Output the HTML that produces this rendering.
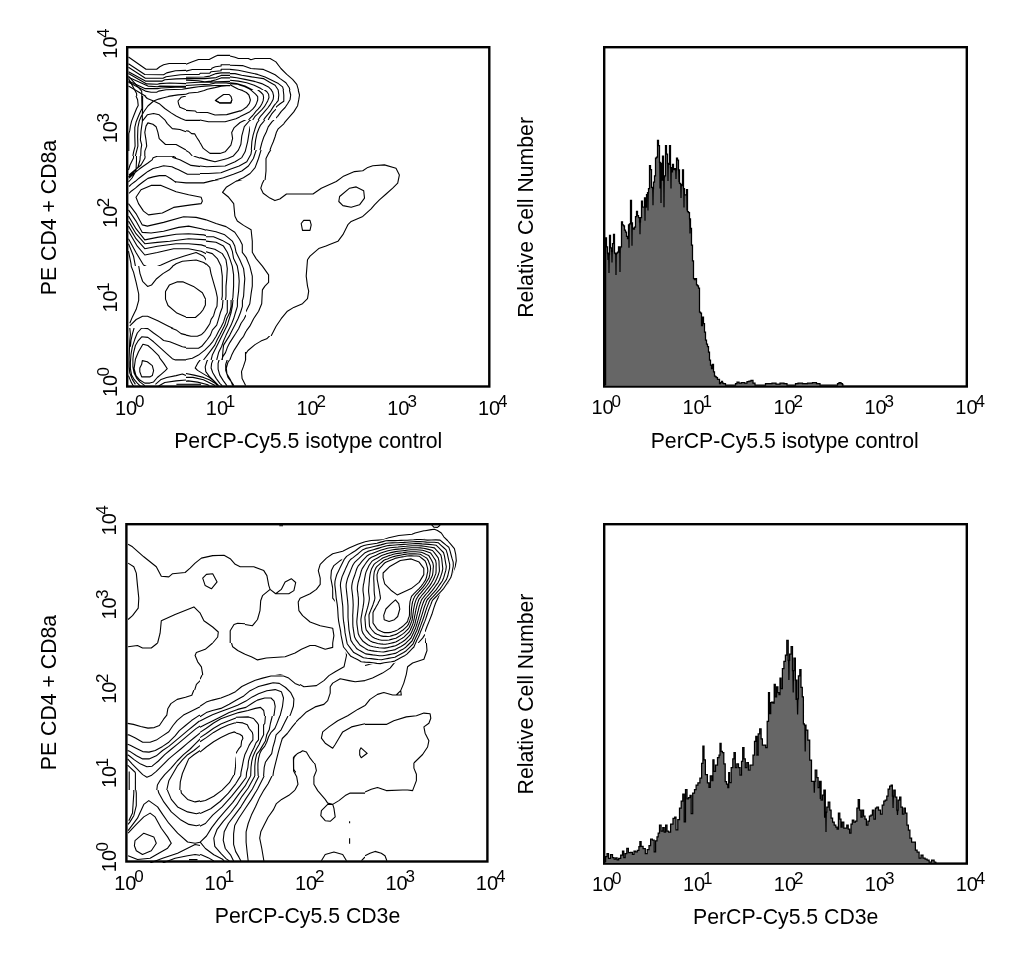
<!DOCTYPE html>
<html><head><meta charset="utf-8"><style>html,body{margin:0;padding:0;background:#fff;}svg{display:block;}</style></head>
<body><svg width="1024" height="958" viewBox="0 0 1024 958">
<rect width="1024" height="958" fill="#fff"/>
<g style="will-change:transform">
<rect x="127.20" y="47.20" width="362.10" height="339.30" fill="none" stroke="#000" stroke-width="2.4"/>
<rect x="604.20" y="47.20" width="362.60" height="339.30" fill="none" stroke="#000" stroke-width="2.4"/>
<rect x="126.40" y="524.20" width="361.00" height="337.30" fill="none" stroke="#000" stroke-width="2.4"/>
<rect x="604.20" y="524.20" width="362.60" height="339.40" fill="none" stroke="#000" stroke-width="2.4"/>
<g><defs><mask id="m1" maskUnits="userSpaceOnUse" x="0" y="0" width="1024" height="958"><rect x="126.0" y="46.0" width="60.0" height="50.0" fill="#fff"/><rect x="200.0" y="100.0" width="80.0" height="80.0" fill="#000"/><rect x="230.0" y="46.0" width="80.0" height="54.0" fill="#000"/><rect x="280.0" y="100.0" width="30.0" height="30.0" fill="#000"/><rect x="250.0" y="90.0" width="60.0" height="60.0" fill="#000"/><rect x="240.0" y="90.0" width="36.0" height="30.0" fill="#000"/></mask><mask id="m2" maskUnits="userSpaceOnUse" x="0" y="0" width="1024" height="958"><rect x="186.0" y="46.0" width="60.0" height="50.0" fill="#fff"/><rect x="200.0" y="100.0" width="80.0" height="80.0" fill="#000"/><rect x="230.0" y="46.0" width="80.0" height="54.0" fill="#000"/><rect x="280.0" y="100.0" width="30.0" height="30.0" fill="#000"/><rect x="250.0" y="90.0" width="60.0" height="60.0" fill="#000"/><rect x="240.0" y="90.0" width="36.0" height="30.0" fill="#000"/></mask><mask id="m3" maskUnits="userSpaceOnUse" x="0" y="0" width="1024" height="958"><rect x="126.0" y="96.0" width="60.0" height="60.0" fill="#fff"/><rect x="200.0" y="100.0" width="80.0" height="80.0" fill="#000"/><rect x="230.0" y="46.0" width="80.0" height="54.0" fill="#000"/><rect x="280.0" y="100.0" width="30.0" height="30.0" fill="#000"/><rect x="250.0" y="90.0" width="60.0" height="60.0" fill="#000"/><rect x="240.0" y="90.0" width="36.0" height="30.0" fill="#000"/></mask><mask id="m4" maskUnits="userSpaceOnUse" x="0" y="0" width="1024" height="958"><rect x="126.0" y="46.0" width="60.0" height="50.0" fill="#fff"/><rect x="200.0" y="100.0" width="80.0" height="80.0" fill="#000"/><rect x="230.0" y="46.0" width="80.0" height="54.0" fill="#000"/><rect x="280.0" y="100.0" width="30.0" height="30.0" fill="#000"/><rect x="250.0" y="90.0" width="60.0" height="60.0" fill="#000"/><rect x="240.0" y="90.0" width="36.0" height="30.0" fill="#000"/></mask><mask id="m5" maskUnits="userSpaceOnUse" x="0" y="0" width="1024" height="958"><rect x="186.0" y="96.0" width="60.0" height="60.0" fill="#fff"/><rect x="200.0" y="100.0" width="80.0" height="80.0" fill="#000"/><rect x="230.0" y="46.0" width="80.0" height="54.0" fill="#000"/><rect x="280.0" y="100.0" width="30.0" height="30.0" fill="#000"/><rect x="250.0" y="90.0" width="60.0" height="60.0" fill="#000"/><rect x="240.0" y="90.0" width="36.0" height="30.0" fill="#000"/></mask><mask id="m6" maskUnits="userSpaceOnUse" x="0" y="0" width="1024" height="958"><rect x="246.0" y="46.0" width="244.0" height="104.0" fill="#fff"/><rect x="200.0" y="100.0" width="80.0" height="80.0" fill="#000"/><rect x="230.0" y="46.0" width="80.0" height="54.0" fill="#000"/><rect x="280.0" y="100.0" width="30.0" height="30.0" fill="#000"/><rect x="250.0" y="90.0" width="60.0" height="60.0" fill="#000"/><rect x="240.0" y="90.0" width="36.0" height="30.0" fill="#000"/></mask><mask id="m7" maskUnits="userSpaceOnUse" x="0" y="0" width="1024" height="958"><rect x="126.0" y="156.0" width="120.0" height="60.0" fill="#fff"/><rect x="126.0" y="216.0" width="80.0" height="50.0" fill="#fff"/><rect x="200.0" y="100.0" width="80.0" height="80.0" fill="#000"/><rect x="230.0" y="46.0" width="80.0" height="54.0" fill="#000"/><rect x="280.0" y="100.0" width="30.0" height="30.0" fill="#000"/><rect x="250.0" y="90.0" width="60.0" height="60.0" fill="#000"/><rect x="240.0" y="90.0" width="36.0" height="30.0" fill="#000"/></mask><mask id="m8" maskUnits="userSpaceOnUse" x="0" y="0" width="1024" height="958"><rect x="126.0" y="156.0" width="120.0" height="60.0" fill="#fff"/><rect x="126.0" y="216.0" width="80.0" height="50.0" fill="#fff"/><rect x="200.0" y="100.0" width="80.0" height="80.0" fill="#000"/><rect x="230.0" y="46.0" width="80.0" height="54.0" fill="#000"/><rect x="280.0" y="100.0" width="30.0" height="30.0" fill="#000"/><rect x="250.0" y="90.0" width="60.0" height="60.0" fill="#000"/><rect x="240.0" y="90.0" width="36.0" height="30.0" fill="#000"/></mask><mask id="m9" maskUnits="userSpaceOnUse" x="0" y="0" width="1024" height="958"><rect x="246.0" y="150.0" width="244.0" height="66.0" fill="#fff"/><rect x="326.0" y="216.0" width="164.0" height="64.0" fill="#fff"/><rect x="200.0" y="100.0" width="80.0" height="80.0" fill="#000"/><rect x="230.0" y="46.0" width="80.0" height="54.0" fill="#000"/><rect x="280.0" y="100.0" width="30.0" height="30.0" fill="#000"/><rect x="250.0" y="90.0" width="60.0" height="60.0" fill="#000"/><rect x="240.0" y="90.0" width="36.0" height="30.0" fill="#000"/></mask><mask id="m10" maskUnits="userSpaceOnUse" x="0" y="0" width="1024" height="958"><rect x="126.0" y="328.0" width="60.0" height="60.0" fill="#fff"/><rect x="200.0" y="100.0" width="80.0" height="80.0" fill="#000"/><rect x="230.0" y="46.0" width="80.0" height="54.0" fill="#000"/><rect x="280.0" y="100.0" width="30.0" height="30.0" fill="#000"/><rect x="250.0" y="90.0" width="60.0" height="60.0" fill="#000"/><rect x="240.0" y="90.0" width="36.0" height="30.0" fill="#000"/></mask><mask id="m11" maskUnits="userSpaceOnUse" x="0" y="0" width="1024" height="958"><rect x="126.0" y="266.0" width="80.0" height="34.0" fill="#fff"/><rect x="126.0" y="300.0" width="60.0" height="28.0" fill="#fff"/><rect x="200.0" y="100.0" width="80.0" height="80.0" fill="#000"/><rect x="230.0" y="46.0" width="80.0" height="54.0" fill="#000"/><rect x="280.0" y="100.0" width="30.0" height="30.0" fill="#000"/><rect x="250.0" y="90.0" width="60.0" height="60.0" fill="#000"/><rect x="240.0" y="90.0" width="36.0" height="30.0" fill="#000"/></mask><mask id="m12" maskUnits="userSpaceOnUse" x="0" y="0" width="1024" height="958"><rect x="186.0" y="300.0" width="60.0" height="60.0" fill="#fff"/><rect x="200.0" y="100.0" width="80.0" height="80.0" fill="#000"/><rect x="230.0" y="46.0" width="80.0" height="54.0" fill="#000"/><rect x="280.0" y="100.0" width="30.0" height="30.0" fill="#000"/><rect x="250.0" y="90.0" width="60.0" height="60.0" fill="#000"/><rect x="240.0" y="90.0" width="36.0" height="30.0" fill="#000"/></mask><mask id="m13" maskUnits="userSpaceOnUse" x="0" y="0" width="1024" height="958"><rect x="206.0" y="216.0" width="40.0" height="84.0" fill="#fff"/><rect x="246.0" y="216.0" width="80.0" height="120.0" fill="#fff"/><rect x="200.0" y="100.0" width="80.0" height="80.0" fill="#000"/><rect x="230.0" y="46.0" width="80.0" height="54.0" fill="#000"/><rect x="280.0" y="100.0" width="30.0" height="30.0" fill="#000"/><rect x="250.0" y="90.0" width="60.0" height="60.0" fill="#000"/><rect x="240.0" y="90.0" width="36.0" height="30.0" fill="#000"/></mask><mask id="m14" maskUnits="userSpaceOnUse" x="0" y="0" width="1024" height="958"><rect x="186.0" y="360.0" width="140.0" height="28.0" fill="#fff"/><rect x="246.0" y="336.0" width="80.0" height="24.0" fill="#fff"/><rect x="200.0" y="100.0" width="80.0" height="80.0" fill="#000"/><rect x="230.0" y="46.0" width="80.0" height="54.0" fill="#000"/><rect x="280.0" y="100.0" width="30.0" height="30.0" fill="#000"/><rect x="250.0" y="90.0" width="60.0" height="60.0" fill="#000"/><rect x="240.0" y="90.0" width="36.0" height="30.0" fill="#000"/></mask><mask id="m15" maskUnits="userSpaceOnUse" x="0" y="0" width="1024" height="958"><rect x="200.0" y="100.0" width="80.0" height="80.0" fill="#fff"/><rect x="230.0" y="46.0" width="80.0" height="54.0" fill="#000"/><rect x="280.0" y="100.0" width="30.0" height="30.0" fill="#000"/><rect x="250.0" y="90.0" width="60.0" height="60.0" fill="#000"/><rect x="240.0" y="90.0" width="36.0" height="30.0" fill="#000"/></mask><mask id="m16" maskUnits="userSpaceOnUse" x="0" y="0" width="1024" height="958"><rect x="230.0" y="46.0" width="80.0" height="54.0" fill="#fff"/><rect x="280.0" y="100.0" width="30.0" height="30.0" fill="#fff"/><rect x="250.0" y="90.0" width="60.0" height="60.0" fill="#000"/><rect x="240.0" y="90.0" width="36.0" height="30.0" fill="#000"/></mask><mask id="m17" maskUnits="userSpaceOnUse" x="0" y="0" width="1024" height="958"><rect x="250.0" y="90.0" width="60.0" height="60.0" fill="#fff"/><rect x="240.0" y="90.0" width="36.0" height="30.0" fill="#000"/></mask><mask id="m18" maskUnits="userSpaceOnUse" x="0" y="0" width="1024" height="958"><rect x="240.0" y="90.0" width="36.0" height="30.0" fill="#fff"/></mask></defs><path mask="url(#m1)" d="M128.5,57.0 L146.0,69.2 L156.7,69.2 L159.8,66.7 L163.6,64.8 L169.2,63.5 L186.0,63.5 M128.5,63.8 L144.8,74.5 L163.6,74.8 L166.7,72.9 L175.5,70.7 L186.0,70.4 M128.5,67.3 L145.4,78.3 L163.0,78.3 L166.1,76.7 L180.5,74.8 L186.0,74.5 M128.5,71.7 L145.4,81.1 L162.3,81.1 L164.8,79.8 L176.1,78.9 L186.0,78.6 M128.5,73.6 L146.7,83.9 L157.3,84.2 L159.8,83.6 L169.8,83.0 L186.0,83.6 M128.5,77.3 L147.9,86.1 L157.3,86.7 L159.8,86.1 L174.9,86.4 L186.0,86.4 M128.5,81.1 L144.8,88.6 L157.3,88.6 L161.1,88.0 L175.5,87.3 L186.0,87.3 M128.5,82.3 L145.4,91.1 L151.1,92.3 L156.7,92.3 L158.6,91.1 L166.1,89.8 L182.4,89.2 L186.0,88.6 M128.5,86.1 L147.9,97.4 L153.6,100.5 L156.1,102.4 M153.6,100.5 L161.7,98.0 L169.8,96.1 L178.0,94.9 L186.0,94.2" fill="none" stroke="#000" stroke-width="1.1" stroke-linejoin="round"/><path mask="url(#m2)" d="M186.0,64.2 L192.3,61.7 L198.5,59.5 L209.2,59.5 L215.4,56.3 L217.3,55.4 L230.5,55.4 L231.7,57.3 L236.7,57.3 L238.0,58.8 L246.0,58.5 M186.0,71.1 L192.3,69.5 L211.1,69.5 L212.3,67.9 L215.4,66.7 L221.1,66.0 L221.1,64.8 L241.7,64.8 L243.0,66.7 L246.0,66.7 M186.0,74.5 L199.2,74.5 L200.4,73.2 L209.8,73.2 L211.1,71.7 L221.1,70.7 L221.1,69.2 L236.1,69.2 L238.0,70.7 L246.0,71.1 M186.0,77.3 L204.2,77.0 L209.8,76.1 L216.1,73.6 L221.1,72.9 L231.1,72.9 L232.3,74.2 L241.1,74.8 L246.0,76.1 M186.0,78.6 L204.8,78.6 L216.1,77.6 L221.1,75.4 L236.1,75.4 L239.9,76.7 L246.0,78.6 M186.0,80.1 L198.5,80.8 L204.8,81.7 L211.1,81.1 L216.1,79.8 L221.1,77.9 L236.1,77.9 L239.9,79.2 L246.0,81.1 M186.0,83.0 L198.5,82.3 L211.1,82.3 L216.1,81.7 L231.1,81.4 L237.4,81.7 L246.0,84.2 M186.0,85.5 L198.5,84.8 L209.8,84.2 L215.4,83.0 L226.1,83.0 L231.1,83.6 L237.4,84.8 L246.0,86.7 M186.0,88.6 L192.3,87.6 L198.5,86.7 L204.8,86.1 L215.4,85.5 L221.1,85.5 L231.1,85.5 L237.4,88.0 L246.0,92.3 M186.0,94.2 L189.1,93.0 L197.9,92.3 L204.2,90.5 L207.3,89.2 L214.8,87.6 L221.1,86.1 L229.8,85.5 L231.1,86.7 L237.4,89.2 L242.4,91.1 L246.0,92.3" fill="none" stroke="#000" stroke-width="1.1" stroke-linejoin="round"/><path mask="url(#m3)" d="M136.0,96.0 L137.6,99.8 L138.2,105.4 L136.6,108.5 L134.1,114.8 L131.6,121.1 L130.4,126.1 L129.8,130.4 L128.8,133.6 L128.8,151.1 M141.7,96.0 L142.0,108.5 L140.4,111.7 L138.5,116.0 L136.0,122.3 L134.8,127.3 L134.8,136.7 L135.1,146.1 L133.5,152.4 L132.9,156.0 M142.6,96.0 L142.6,108.5 L142.3,114.8 L142.4,121.1 L141.0,131.1 L140.4,139.8 L141.7,144.9 L141.0,149.2 L140.7,156.0 M153.6,101.0 L147.9,106.0 L143.5,112.3 L141.0,116.7 L139.2,121.1 L137.9,127.3 L137.6,136.7 L137.9,146.1 L136.6,151.1 L135.4,156.0 M144.8,96.0 L147.3,98.5 L153.6,101.0 L159.8,104.1 L164.8,108.5 L171.1,112.9 L176.1,116.0 L181.1,118.5 L186.0,120.4 M153.6,101.0 L158.6,99.1 L163.6,97.8 L169.8,96.3 L173.6,95.7 M142.4,121.1 L147.3,114.8 L153.6,113.5 L159.2,114.8 L164.8,119.8 L167.3,123.6 L172.3,128.6 L179.9,129.5 L186.0,131.7 M144.8,156.0 L144.8,151.1 L146.7,146.1 L146.0,139.8 L144.8,132.3 L146.0,126.1 L147.9,122.9 L152.9,124.2 L156.1,126.7 L157.9,132.3 L159.2,138.6 L165.5,144.5 L176.1,144.5 L182.4,148.0 L186.0,149.9 M186.0,96.0 L181.1,97.3 L178.0,101.0 L178.6,104.1 L179.9,107.3 L184.9,109.2 L186.0,109.5" fill="none" stroke="#000" stroke-width="1.1" stroke-linejoin="round"/><path mask="url(#m4)" d="M128.5,76.1 L141.7,91.1 L142.0,106.0 M128.5,78.6 L136.6,93.6 L137.0,106.0" fill="none" stroke="#000" stroke-width="1.1" stroke-linejoin="round"/><path mask="url(#m5)" d="M186.0,110.4 L195.4,111.0 L196.6,112.3 L207.3,112.6 L213.6,114.2 L214.8,115.1 L226.1,115.1 L227.3,113.8 L239.9,111.3 L246.0,106.6 M186.0,120.4 L207.3,120.4 L208.5,121.7 L226.1,121.7 L227.3,120.4 L233.6,119.2 L238.6,117.3 L246.0,114.2 M186.0,130.8 L188.5,131.1 L191.6,133.6 L194.8,133.9 L196.6,137.3 L199.2,141.1 L202.9,148.6 L209.8,153.6 L220.4,153.6 L224.8,151.7 L231.1,144.9 L232.3,139.8 L232.0,132.3 L234.2,127.9 L239.9,123.6 L246.0,119.2 M186.0,150.5 L189.1,152.4 L192.3,156.0 M246.0,124.2 L243.6,130.4 L241.7,136.7 L241.7,144.9 L238.6,149.2 L234.9,154.2 L234.2,156.0 M246.0,141.7 L244.9,148.0 L242.4,153.6 L241.7,156.0" fill="none" stroke="#000" stroke-width="1.1" stroke-linejoin="round"/><path mask="url(#m6)" d="M246.0,58.5 L253.5,59.2 L257.3,58.3 L268.5,58.3 L273.6,60.4 L277.3,64.8 L282.3,70.4 L288.6,76.1 L293.6,79.8 L297.4,83.6 L298.6,88.6 L299.2,96.1 L297.4,104.9 L294.9,109.9 L292.3,113.6 L287.3,119.9 L283.6,123.7 L278.6,128.7 L276.1,133.7 L274.8,141.2 L271.1,147.5 L267.3,156.2 L266.0,166.0 M246.0,66.7 L251.0,69.2 L262.3,69.2 L268.5,71.1 L274.8,74.8 L282.3,78.6 L287.3,83.6 L289.8,88.6 L290.5,96.1 L289.2,102.4 L286.7,107.4 L283.6,111.1 L277.3,117.4 L272.3,122.4 L268.5,127.4 L266.0,133.7 L263.5,141.2 L259.8,151.2 L257.3,158.7 L256.0,166.0 M246.0,71.7 L253.5,73.6 L262.3,74.8 L271.1,77.3 L278.6,81.7 L282.3,84.8 L283.6,89.8 L283.6,101.1 L278.6,106.1 L276.1,111.1 L271.1,114.9 L266.0,118.7 L262.3,122.4 L259.8,127.4 L258.5,133.7 L256.0,143.7 L253.5,153.7 L251.0,161.2 L249.8,166.0 M246.0,76.7 L256.0,78.3 L266.0,81.1 L273.6,84.8 L277.3,88.6 L279.2,93.6 L279.2,99.9 L276.1,104.9 L271.1,109.9 L264.8,113.6 L259.8,117.4 L257.3,122.4 L254.8,127.4 L252.3,133.7 L249.8,146.2 L247.3,158.7 L246.0,166.0 M246.0,81.1 L256.0,83.0 L264.8,85.5 L271.1,89.2 L273.6,93.6 L272.9,99.9 L269.8,104.9 L264.8,108.6 L258.5,112.4 L253.5,116.1 L249.8,119.9 L248.5,127.4 L247.3,137.4 L246.0,146.2 M246.0,85.5 L256.0,87.3 L262.3,90.5 L267.3,94.2 L268.5,98.6 L267.3,102.4 L263.5,106.1 L257.3,109.9 L251.0,113.6 L246.0,116.1 M246.0,89.2 L253.5,91.1 L258.5,93.6 L262.3,97.4 L262.3,101.1 L259.8,104.9 L254.8,108.6 L249.8,111.1 L246.0,112.4 M246.0,93.0 L251.0,94.2 L256.0,96.7 L257.9,99.9 L256.6,103.6 L252.3,106.8 L246.0,108.6 M246.0,94.9 L248.5,96.1 L251.0,99.2 L250.4,103.0 L247.3,105.5 L246.0,106.1" fill="none" stroke="#000" stroke-width="1.1" stroke-linejoin="round"/><path mask="url(#m7)" d="M176.0,157.8 L173.0,156.3 L157.3,156.3 L153.1,157.8 L152.1,159.9 L147.9,163.0 L143.2,166.2 L139.0,169.3 L135.9,171.9 L132.3,175.0 L129.1,178.2 M176.0,168.8 L171.9,166.7 L163.6,165.7 L158.4,167.2 L153.1,168.5 L147.9,171.4 L143.2,175.0 L139.0,178.2 L135.4,181.3 L131.2,184.4 L129.1,186.5 M176.0,182.4 L170.9,178.7 L165.7,175.6 L159.4,175.6 L153.1,176.9 L147.9,178.4 L143.2,181.8 L139.0,185.0 L135.4,188.1 L131.2,191.2 L129.1,193.3 M133.8,150.0 L133.5,158.0 L130.0,165.0 L128.5,170.0 M136.4,150.0 L136.5,160.0 L136.0,171.0 L132.0,178.0 L128.5,182.0 M140.6,150.0 L140.0,160.0 L138.0,167.0 L133.0,173.0 L128.5,177.0 M145.3,150.0 L145.0,158.0 L141.0,165.0 L135.0,170.0 L129.0,175.0" fill="none" stroke="#000" stroke-width="1.1" stroke-linejoin="round"/><path mask="url(#m8)" d="M193.6,156.0 L201.2,158.5 L213.7,161.0 L226.2,161.6 L235.0,158.5 L238.7,156.0 M172.3,157.3 L179.9,159.8 L191.1,165.4 L201.2,166.6 L213.7,167.3 L226.2,166.6 L238.7,162.3 L246.0,158.5 M175.5,168.5 L178.6,169.8 L187.4,174.2 L201.2,174.2 L213.7,173.5 L226.2,171.0 L238.7,167.3 L246.0,164.8 M174.9,181.7 L186.1,182.9 L203.7,182.9 L213.7,180.4 L225.0,178.5 L236.2,176.0 L246.0,173.5 M136.0,197.3 L141.0,189.8 L151.1,185.4 L161.1,185.4 L176.1,191.7 L188.6,194.8 L201.2,197.3 L202.4,201.1 L201.2,203.6 L191.1,204.9 L173.6,207.4 L162.3,213.0 L148.5,214.9 L143.5,211.1 L138.5,203.6 L136.0,197.3Z M246.0,178.5 L236.2,181.1 L226.2,187.3 L222.5,192.3 L228.7,197.3 L233.7,203.6 L235.0,217.4 L238.7,222.4 L246.0,226.1 M128.5,203.6 L136.0,213.6 L142.3,224.9 L147.3,226.1 L163.6,222.4 L183.6,216.8 L196.1,217.4 L206.2,219.9 L216.2,223.6 L226.2,228.0 L233.7,232.4 L237.5,237.4 L240.0,246.2 L243.7,256.2 L246.0,262.5 M128.5,209.9 L136.0,221.1 L142.3,232.4 L151.1,233.0 L163.6,231.2 L178.6,227.4 L188.6,226.1 L201.2,228.7 L213.7,232.4 L225.0,236.2 L232.5,241.2 L236.2,247.4 L238.7,256.2 L241.2,266.2 L243.1,276.0 M128.5,216.1 L136.0,228.7 L144.8,239.9 L157.3,237.4 L176.1,234.3 L188.6,233.7 L203.7,234.9 L216.2,238.7 L226.2,242.4 L231.2,248.7 L233.7,258.7 L236.2,276.0 M128.5,221.1 L136.0,233.7 L144.8,243.7 L157.3,242.4 L169.8,241.2 L188.6,238.7 L207.4,239.9 L219.9,243.7 L226.2,251.2 L228.7,262.5 L230.0,276.0 M128.5,226.1 L136.0,238.7 L144.8,248.7 L157.3,246.2 L176.1,243.7 L188.6,243.7 L201.2,244.9 L213.7,248.7 L221.2,255.0 L225.0,266.2 L225.0,276.0 M128.5,231.2 L137.3,246.2 L144.8,255.0 L157.3,252.5 L173.6,248.7 L188.6,248.7 L201.2,251.2 L211.2,256.2 L216.2,263.7 L218.7,276.0 M128.5,238.7 L136.0,252.5 L143.5,265.0 L151.1,268.7 L161.1,265.0 L172.3,260.0 L183.6,256.2 L196.1,252.5 L203.7,256.2 L208.7,263.7 L211.2,276.0 M158.6,276.0 L163.6,272.5 L176.1,263.7 L182.4,261.2 L196.1,260.0 L203.7,262.5 L208.7,266.2 L209.9,276.0 M128.5,243.7 L133.5,256.2 L137.3,276.0 M128.5,251.2 L131.0,263.7 L132.3,276.0" fill="none" stroke="#000" stroke-width="1.1" stroke-linejoin="round"/><path mask="url(#m9)" d="M269.9,150.0 L267.4,155.0 L266.6,174.9 L262.4,183.2 L260.8,188.2 L263.2,193.2 L269.9,198.1 L274.9,200.6 L279.8,199.0 L286.5,194.0 L313.0,194.0 L321.3,188.2 L336.3,181.5 L342.9,176.6 L354.5,171.6 L362.8,170.8 L367.8,167.4 L372.8,165.8 L384.4,164.9 L396.0,168.3 L399.4,174.9 L397.7,183.2 L392.7,188.2 L386.1,194.0 L379.4,199.8 L374.5,204.8 L371.1,208.9 L362.8,216.4 L351.2,221.4 L347.9,224.7 L342.9,234.7 L337.9,241.3 L329.6,244.6 L321.3,247.9 L313.0,253.8 L308.1,258.7 L306.4,266.2 L305.6,280.0 M339.6,196.5 L349.6,188.2 L356.2,186.9 L363.7,190.7 L364.5,198.1 L359.5,204.8 L351.2,207.3 L342.9,205.6 L338.8,201.5 L339.6,196.5Z M300.6,224.7 L303.1,219.7 L308.9,219.7 L311.4,223.9 L309.7,230.5 L303.1,230.5 L300.6,224.7Z M240.0,171.6 L245.0,168.3 L250.0,161.6 L253.3,155.0 L254.9,150.0 M240.0,179.1 L248.3,176.6 L253.3,169.9 L256.6,161.6 L259.1,155.0 L260.8,150.0 M240.0,163.3 L245.0,158.3 L248.3,153.3 L250.0,150.0 M240.0,223.9 L246.6,227.2 L251.6,231.3 L252.5,239.6 L252.5,251.3 L254.9,257.9 L261.6,266.2 L267.4,272.8 L269.9,280.0 M240.0,243.0 L241.7,249.6 L243.3,257.9 L246.6,266.2 L250.0,272.8 L252.5,280.0 M240.0,257.9 L242.5,269.5 L244.2,280.0" fill="none" stroke="#000" stroke-width="1.1" stroke-linejoin="round"/><path mask="url(#m10)" d="M142.3,360.6 L147.3,361.8 L152.3,365.6 L153.6,370.6 L152.3,375.6 L149.8,376.9 L141.7,376.9 L139.8,371.8 L139.8,368.1 L141.7,364.3 L142.3,360.6Z M142.9,344.3 L147.9,345.5 L152.3,349.3 L158.6,355.6 L159.8,358.1 L163.6,363.1 L167.3,368.7 L164.8,371.2 L161.1,374.3 L157.3,377.5 L153.6,381.9 L149.8,383.1 L144.8,383.1 L139.8,380.0 L136.0,375.6 L134.1,368.7 L135.4,359.3 L138.5,351.8 L142.9,344.3Z M186.0,359.9 L175.5,359.9 L172.3,358.7 L166.1,353.1 L159.8,347.4 L153.6,341.8 L147.9,337.4 L141.7,336.8 L137.9,341.2 L135.4,345.5 L133.5,353.1 L132.9,359.3 L132.9,366.8 L134.1,373.1 L136.6,378.1 L139.8,381.9 L144.8,385.6 M186.0,347.4 L182.4,346.8 L176.1,344.3 L169.8,341.8 L163.6,340.5 L159.8,337.4 L153.6,333.0 L147.9,328.6 L141.7,328.0 L137.3,333.0 L134.8,339.3 L132.3,346.8 L131.0,354.3 L130.4,362.4 L130.4,368.7 L131.6,375.0 L134.1,379.4 L137.3,383.1 L140.4,386.2 M171.1,328.0 L176.1,329.9 L181.1,333.6 L186.0,334.9 M155.4,384.4 L161.1,379.4 L166.7,377.5 L176.1,375.6 L182.4,374.0 L186.0,375.6 M158.6,385.9 L164.8,382.5 L176.1,380.9 L186.0,380.0 M129.8,328.0 L130.4,334.3 L129.8,340.5 L129.4,349.9 L129.1,359.3 L129.1,366.8 L129.8,373.1 L132.3,379.4 L135.4,384.4 M134.1,328.0 L132.3,334.3 L131.0,340.5 L130.4,346.8 M128.5,375.6 L131.0,381.9 L133.5,386.2" fill="none" stroke="#000" stroke-width="1.1" stroke-linejoin="round"/><path mask="url(#m11)" d="M131.1,266.0 L133.6,272.4 L136.2,282.6 L138.7,294.0 L138.7,300.4 L136.2,309.3 L132.4,316.9 L129.8,323.3 M138.7,266.0 L140.0,273.6 L142.6,281.3 L147.6,286.4 L151.5,285.1 L156.6,278.7 L162.9,273.6 L169.3,269.8 L173.1,266.0 M165.5,291.5 L169.3,285.1 L176.9,281.9 L183.3,281.9 L193.5,286.4 L202.4,292.7 L206.2,300.4 L203.7,309.3 L197.3,316.9 L187.1,317.6 L176.9,313.1 L168.0,305.5 L165.5,299.1 L165.5,291.5Z M129.8,325.9 L136.2,319.5 L142.6,316.3 L147.6,316.3 L157.8,320.8 L168.0,325.9 L174.4,329.0 M185.9,335.4 L189.7,335.4 L197.3,335.4 L205.0,330.9 L211.3,324.6 L215.1,316.9 L216.4,306.8 L215.1,291.5 L211.3,278.7 L210.1,266.0 M222.8,304.2 L222.8,291.5 L220.9,278.7 L220.2,266.0 M227.9,306.8 L227.9,291.5 L226.6,278.7 L226.6,266.0" fill="none" stroke="#000" stroke-width="1.1" stroke-linejoin="round"/><path mask="url(#m12)" d="M205.4,300.0 L205.4,305.0 L202.9,310.0 L200.4,313.2 L195.4,317.5 L186.0,317.5 M217.3,300.0 L217.0,306.3 L215.4,309.4 L213.6,315.7 L211.1,319.4 L209.8,323.8 L207.3,327.6 L204.8,331.3 L201.7,334.4 L197.3,336.3 L191.0,336.3 L186.0,335.1 M223.0,300.0 L222.3,307.5 L220.4,312.5 L218.6,318.8 L216.7,325.1 L212.3,330.1 L210.4,335.1 L207.3,339.5 L204.8,342.6 L201.7,346.3 L198.5,348.2 L186.0,348.2 M227.3,300.0 L227.3,312.5 L225.5,315.7 L223.6,321.9 L221.1,326.9 L218.6,331.3 L216.1,336.3 L212.9,341.3 L209.8,345.1 L204.8,350.1 L198.5,355.1 L192.3,358.2 L186.0,359.5 M231.1,300.0 L231.1,306.3 L229.8,312.5 L226.7,318.8 L224.8,325.1 L222.3,330.1 L219.8,335.1 L217.3,339.5 L214.8,345.1 L211.1,350.1 L207.3,355.1 L203.5,360.0 M233.0,300.0 L232.3,306.3 L231.1,312.5 L229.2,318.8 L227.3,325.1 L224.2,331.3 L221.7,336.3 L218.6,342.6 L216.1,347.6 L212.3,355.1 L211.1,360.0 M237.4,300.0 L237.4,306.3 L235.5,312.5 L233.6,318.8 L231.1,325.1 L228.6,330.1 L226.1,335.1 L223.6,340.7 L221.7,346.3 L218.6,352.6 L216.7,360.0 M242.4,300.0 L242.4,306.3 L240.5,312.5 L238.0,318.8 L234.9,325.1 L232.3,330.1 L229.8,335.1 L226.7,340.1 L223.6,345.1 L223.0,350.1 L222.3,360.0 M246.0,315.0 L244.2,318.8 L241.1,323.2 L238.6,328.8 L235.5,333.8 L233.0,337.6 L229.8,342.6 L227.3,347.6 L225.5,352.6 L223.0,356.4 L221.7,360.0 M246.0,331.3 L243.6,336.3 L240.5,340.1 L237.4,345.1 L234.2,350.1 L231.7,355.1 L229.8,360.0 M245.5,352.0 L245.5,360.0" fill="none" stroke="#000" stroke-width="1.1" stroke-linejoin="round"/><path mask="url(#m13)" d="M234.8,216.0 L237.3,221.0 L243.6,225.4 L251.1,229.8 L252.3,241.1 L252.3,252.3 L256.1,258.6 L262.4,266.1 L268.6,274.9 L268.6,282.4 L264.9,286.1 L262.4,289.9 L261.7,303.7 L258.6,311.2 L253.6,318.7 L249.8,326.2 L246.1,331.2 L243.6,336.0 M206.0,219.8 L216.0,223.5 L226.0,226.6 L234.8,232.3 L239.8,239.8 L242.3,244.8 L242.3,252.3 L246.1,257.3 L249.8,266.1 L252.3,276.1 L252.3,286.1 L251.1,293.7 L249.8,303.7 L246.1,311.2 L242.3,317.5 L237.3,325.0 L233.6,331.2 L231.1,336.0 M206.0,229.8 L216.0,231.7 L224.8,234.8 L232.3,241.1 L234.8,246.1 L236.1,252.3 L239.8,259.8 L243.6,268.6 L244.8,278.6 L244.2,286.1 L243.6,296.2 L241.1,306.2 L237.3,315.0 L233.6,321.2 L228.5,328.7 L226.0,336.0 M206.0,236.7 L213.5,236.7 L222.3,240.4 L229.8,244.8 L232.3,251.1 L233.6,258.6 L237.3,266.1 L238.6,273.6 L239.2,281.1 L238.6,291.2 L237.3,301.2 L234.8,308.7 L231.1,316.2 L226.0,323.7 L222.3,336.0 M206.0,241.1 L216.0,242.3 L223.5,246.1 L227.3,252.3 L229.8,258.6 L232.3,266.1 L233.6,274.9 L233.6,286.1 L232.9,297.4 L231.1,306.2 L227.3,315.0 L222.3,323.7 L218.5,336.0 M206.0,247.3 L214.8,249.2 L222.3,253.6 L226.0,259.8 L227.3,268.6 L226.7,278.6 L226.0,286.1 L226.0,296.2 L224.8,306.2 L222.3,315.0 L218.5,323.7 L214.8,336.0 M206.0,251.7 L212.3,253.6 L217.3,258.6 L221.0,266.1 L222.3,276.1 L222.3,286.1 L222.3,296.2 L221.0,303.7 L218.5,311.2 L216.0,318.7 L212.3,328.7 L209.8,336.0 M206.0,263.6 L209.8,267.4 L211.0,273.6 L213.5,282.4 L216.0,291.2 L217.3,297.4 L217.3,303.7 L214.8,313.7 L211.0,322.5 L207.3,328.7 M326.0,246.1 L318.7,248.6 L310.0,256.1 L307.5,259.8 L306.2,276.1 L307.5,286.1 L308.7,291.2 L307.5,298.7 L302.5,303.7 L293.7,307.4 L287.4,311.2 L281.2,318.7 L276.1,326.2 L271.1,336.0 M301.2,223.5 L303.7,220.4 L310.0,220.4 L311.2,224.8 L310.0,230.4 L302.5,230.4 L301.2,223.5Z" fill="none" stroke="#000" stroke-width="1.1" stroke-linejoin="round"/><path mask="url(#m14)" d="M180.0,332.9 L189.4,335.2 L199.9,334.6 L205.8,330.5 L209.3,325.9 L211.6,320.0 M180.0,344.6 L187.0,348.1 L198.8,347.5 L207.0,342.3 L211.6,336.4 L215.2,330.5 L217.5,325.9 L218.7,320.0 M180.0,360.4 L189.4,358.7 L199.9,355.2 L207.0,349.3 L212.8,343.4 L217.5,337.6 L221.0,331.7 L224.5,325.9 L225.7,320.0 M228.0,320.0 L225.7,325.9 L221.0,332.9 L216.3,338.8 L211.6,345.8 L207.0,351.6 L201.1,358.7 L197.6,363.4 L195.2,368.0 L197.6,370.4 L203.4,373.9 L209.3,377.4 L215.2,382.1 L217.5,385.6 M231.6,320.0 L229.2,325.9 L224.5,332.9 L219.8,339.9 L215.2,347.0 L210.5,355.2 L207.0,361.0 L205.2,366.9 L205.8,371.6 L209.3,376.3 L214.0,380.9 L218.7,385.6 M235.1,320.0 L232.7,325.9 L228.0,332.9 L223.4,341.1 L218.7,349.3 L214.0,357.5 L211.6,363.4 L211.1,368.0 L212.8,372.7 L216.3,378.6 L219.8,383.3 L222.2,385.6 M238.6,320.0 L236.3,327.0 L231.6,334.1 L228.0,341.1 L223.4,350.5 L219.8,357.5 L218.1,363.4 L218.1,369.2 L219.8,375.1 L223.4,380.9 L226.9,385.6 M243.3,320.0 L240.9,327.0 L236.3,337.6 L231.6,349.3 L228.0,357.5 L225.7,364.5 L225.7,370.4 L228.0,377.4 L231.6,382.1 L233.9,385.6 M255.0,320.0 L250.3,328.2 L245.6,332.9 L239.8,339.9 L236.3,347.0 L232.7,355.2 L228.0,362.2 L226.3,368.0 L226.9,373.9 L230.4,379.8 L232.7,385.6 M280.8,320.0 L277.3,325.9 L272.6,332.9 L266.7,338.8 L260.9,341.1 L255.0,344.6 L248.0,350.5 L245.6,354.0 L245.6,359.8 L243.3,366.9 L241.5,371.6 L242.1,378.6 L244.5,383.3 L245.6,385.6 M180.0,375.1 L184.7,373.3 L194.1,375.1 L203.4,377.4 L209.3,379.8 L215.2,383.3 L217.5,385.6 M180.0,378.6 L184.7,377.4 L192.9,377.4 L203.4,379.8 L210.5,383.3 L215.2,385.6 M180.0,382.1 L188.2,380.9 L197.6,382.1 L207.0,384.5 L209.3,385.6" fill="none" stroke="#000" stroke-width="1.1" stroke-linejoin="round"/><path mask="url(#m15)" d="M215.0,100.0 L220.0,102.9 L230.9,102.9 L231.7,100.0 M200.0,112.5 L207.5,112.5 L215.0,115.0 L226.7,114.6 L240.1,110.9 L246.8,106.7 L250.1,102.5 L250.9,100.0 M200.0,120.0 L208.4,121.7 L225.1,121.7 L235.9,118.8 L241.8,115.9 L250.1,112.5 L255.1,108.4 L258.5,103.3 L260.1,100.0 M200.0,142.6 L203.3,148.4 L210.0,153.4 L220.0,153.4 L225.1,151.8 L230.9,145.1 L232.6,138.4 L231.7,132.6 L234.2,127.6 L240.1,122.5 L246.8,119.2 L251.8,117.5 L256.8,113.4 L261.8,108.4 L266.8,103.3 L269.3,100.0 M200.0,157.6 L208.4,160.1 L215.0,161.8 L227.6,158.5 L233.4,155.9 L238.4,150.1 L240.9,144.3 L241.8,135.9 L244.3,126.7 L250.1,120.0 L255.1,115.0 L260.1,110.9 L266.0,105.8 L271.0,100.0 M200.0,166.0 L206.7,166.8 L225.1,166.0 L235.1,161.8 L241.8,157.6 L245.1,151.8 L247.6,141.8 L250.1,126.7 L253.4,121.7 L258.5,116.7 L263.5,112.5 L269.3,108.4 L275.2,101.7 L276.8,100.0 M200.0,173.5 L208.4,173.5 L220.9,172.7 L230.1,169.3 L239.2,166.0 L246.8,161.8 L250.9,154.3 L252.6,144.3 L255.1,133.4 L258.5,125.9 L263.5,120.9 L268.5,115.0 L272.7,110.0 L277.7,103.3 L280.0,101.7 M215.0,180.0 L223.4,177.7 L233.4,174.3 L241.8,171.0 L248.4,166.0 L253.4,158.5 L256.8,148.4 L260.1,138.4 L263.5,131.7 L267.6,126.7 L271.8,120.9 L277.7,113.4 L280.0,110.9 M238.4,180.0 L243.4,177.7 L250.1,173.5 L255.1,167.6 L258.5,158.5 L261.0,150.1 L264.3,139.2 L268.5,130.1 L272.7,125.1 L277.7,119.2 L280.0,116.7 M265.1,180.0 L266.0,171.0 L266.0,158.5 L268.5,153.4 L272.7,146.8 L275.2,138.4 L276.8,133.4 L280.0,127.6" fill="none" stroke="#000" stroke-width="1.1" stroke-linejoin="round"/><path mask="url(#m16)" d="M230.0,56.0 L235.0,57.3 L238.4,58.5 L248.4,58.5 L250.9,59.8 L255.1,58.5 L270.1,58.5 L275.9,61.9 L280.9,68.5 L286.8,74.4 L292.6,79.4 L296.8,84.4 L299.3,92.8 L299.3,99.4 L297.6,106.1 L293.5,112.8 L288.5,118.7 L284.3,126.0 M230.0,65.2 L242.5,65.6 L250.9,68.5 L263.4,69.4 L269.2,71.9 L275.1,74.8 L280.1,78.6 L285.9,82.7 L289.3,87.8 L291.0,94.4 L290.1,101.1 L286.8,107.0 L282.6,112.8 L276.8,118.7 L271.8,126.0 M230.0,69.4 L238.4,70.2 L250.0,72.7 L257.6,74.4 L265.1,76.9 L271.8,80.2 L278.4,83.6 L282.6,86.9 L284.3,92.8 L284.3,100.3 L280.1,104.5 L275.1,109.5 L270.1,114.5 L265.9,119.5 L263.4,126.0 M230.0,73.6 L235.0,73.6 L241.7,75.2 L251.7,76.9 L263.4,78.6 L269.2,81.9 L275.1,85.2 L278.4,90.3 L279.3,96.1 L277.6,101.9 L273.4,106.1 L268.4,110.3 L264.2,114.5 L260.1,119.5 L258.4,126.0 M230.0,76.9 L236.7,77.7 L245.0,79.4 L253.4,81.1 L261.7,83.6 L268.4,86.9 L272.6,91.1 L273.4,97.8 L270.9,102.8 L266.7,107.0 L262.6,110.3 L258.4,114.5 L255.1,119.5 L252.5,126.0 M230.0,80.2 L238.4,81.1 L246.7,82.7 L254.2,85.2 L260.9,88.6 L265.9,91.9 L268.4,96.1 L267.6,101.1 L265.1,104.5 L260.9,107.8 L255.9,112.0 L251.7,116.1 L248.4,121.2 L245.9,126.0 M230.0,82.7 L236.7,83.6 L245.0,86.1 L251.7,89.4 L257.6,93.6 L261.7,97.8 L261.7,102.8 L258.4,106.1 L255.1,109.5 L250.0,113.6 L245.0,117.8 L240.9,122.0 L237.5,126.0 M230.0,83.6 L237.3,84.1 L240.2,85.2 L244.4,86.6 L249.7,89.1 L252.6,91.6 L255.5,94.1 L257.6,96.6 L257.6,99.9 M230.0,84.7 L236.0,87.9 L238.5,89.2 L242.3,90.3 L246.4,92.4 L248.9,94.9 L250.4,99.9 L249.4,103.4 L246.9,106.7 L242.3,110.1 L238.1,112.2 L236.0,112.4 L230.0,112.8" fill="none" stroke="#000" stroke-width="1.1" stroke-linejoin="round"/><path mask="url(#m17)" d="M298.2,90.0 L299.5,95.0 L298.8,99.4 L297.6,105.7 L293.8,111.9 L288.8,117.6 L285.1,121.9 L283.8,123.8 L278.2,128.8 L276.3,132.6 L275.0,137.0 L273.2,142.0 L271.3,146.4 L270.0,150.0 M289.4,90.0 L290.7,95.0 L290.1,99.4 L287.6,103.8 L285.1,107.5 L281.3,111.3 L277.6,116.3 L275.0,118.8 L271.9,121.9 L268.2,126.9 L266.3,132.0 L263.8,137.0 L261.9,142.6 L260.0,150.0 M283.2,90.0 L283.8,95.0 L283.8,101.3 L280.1,103.8 L276.3,106.9 L273.8,110.0 L270.0,113.8 L266.3,117.6 L263.8,121.3 L260.6,125.1 L258.8,128.8 L256.9,133.8 L255.6,140.1 L254.4,150.0 M278.2,90.0 L278.8,95.0 L278.2,100.6 L275.0,104.4 L271.3,108.2 L268.2,111.3 L263.8,115.0 L260.0,118.8 L256.9,123.2 L255.0,128.8 L253.1,135.1 L251.9,141.3 L251.3,150.0 M271.9,90.0 L272.5,95.0 L271.3,100.6 L267.5,105.0 L263.8,108.2 L260.0,111.3 L256.3,114.4 L252.5,118.2 L250.0,120.7 M267.5,90.0 L268.8,93.8 L268.2,100.0 L264.4,104.4 L260.0,108.2 L256.3,110.7 L252.5,113.8 L250.0,115.7 M259.4,90.0 L262.5,93.8 L263.1,97.5 L261.3,102.5 L258.1,106.3 L253.8,109.4 L250.0,111.3 M251.9,90.0 L256.9,95.0 L257.5,99.4 L254.4,104.4 L250.0,108.2" fill="none" stroke="#000" stroke-width="1.1" stroke-linejoin="round"/><path mask="url(#m18)" d="M236.0,87.9 L238.5,89.2 L242.3,90.4 L246.4,92.5 L248.9,95.0 L250.4,100.0 L249.4,103.4 L246.9,106.7 L242.3,110.1 L238.1,112.2 L236.0,112.4 M237.3,84.2 L240.2,85.4 L244.4,86.7 L249.8,89.2 L252.7,91.7 L255.6,94.2 L257.7,96.7 L257.7,100.0 L256.5,103.4 L254.8,106.7 L252.7,109.2 L249.8,111.7 L246.4,113.4 L242.3,115.5 L238.1,117.6 L236.0,118.8 M243.1,83.3 L248.5,85.4 L253.5,87.5 L258.1,90.0 L261.1,92.5 L263.1,94.6 L263.6,97.5 L263.1,100.9 L261.9,103.8 L260.2,106.7 L258.1,109.2 L255.6,111.7 L254.4,113.4 L252.7,115.5 L250.6,117.6 L248.5,120.0 M249.8,82.5 L254.8,84.6 L259.4,86.7 L263.6,89.2 L266.9,91.7 L268.6,94.2 L269.0,97.5 L267.7,100.9 L266.1,103.8 L264.4,106.7 L261.9,109.6 L259.4,112.2 L256.9,114.7 L254.8,116.7 L252.7,120.0 M255.6,81.7 L261.1,83.8 L266.1,86.3 L270.7,89.2 L272.7,92.1 L273.6,95.9 L273.2,99.2 L271.5,102.5 L269.8,105.1 L267.7,108.0 L265.2,110.9 L262.7,113.8 L260.2,116.7 L258.1,120.0 M261.9,81.3 L267.3,83.3 L272.3,85.4 L275.2,87.1 L276.0,87.9 M276.0,103.4 L274.4,105.1 L272.3,108.4 L270.2,111.7 L267.7,114.7 L265.2,117.6 L263.6,120.0 M276.0,109.2 L273.6,111.7 L271.5,114.2 L269.4,117.6 L268.2,120.0" fill="none" stroke="#000" stroke-width="1.1" stroke-linejoin="round"/><path d="M215.4,100.5 L218.6,98.0 L223.6,94.5 L229.2,94.5 L231.1,96.7 L232.0,99.9 L230.8,103.0 L219.8,103.0 L215.4,100.5Z" fill="none" stroke="#000" stroke-width="1.1" stroke-linejoin="round"/><path d="M176.4,384.3 L201.0,384.3" fill="none" stroke="#000" stroke-width="1.1" stroke-linejoin="round"/></g>
<g><defs><mask id="m19" maskUnits="userSpaceOnUse" x="0" y="0" width="1024" height="958"><rect x="125.0" y="523.0" width="120.0" height="120.0" fill="#fff"/><rect x="200.0" y="675.0" width="100.0" height="100.0" fill="#000"/><rect x="127.0" y="690.0" width="73.0" height="100.0" fill="#000"/><rect x="200.0" y="775.0" width="100.0" height="88.0" fill="#000"/><rect x="236.0" y="716.0" width="60.0" height="60.0" fill="#000"/><path d="M436.5,598.0 L434.7,599.9 L433.7,601.8 L433.1,603.6 L432.4,605.3 L431.8,607.0 L431.1,608.7 L430.4,610.4 L429.8,612.2 L429.2,613.9 L428.6,615.7 L428.0,617.5 L427.4,619.3 L426.7,621.2 L425.9,623.1 L425.1,625.1 L424.2,627.1 L423.3,629.3 L422.3,631.5 L421.3,633.9 L420.3,636.6 L419.0,639.2 L417.6,642.0 L416.1,645.0 L414.5,648.7 L412.2,650.9 L409.8,653.3 L407.2,655.9 L404.3,657.8 L401.2,659.4 L398.0,661.1 L394.6,662.9 L391.1,663.4 L387.5,664.0 L383.9,664.6 L380.0,665.3 L376.2,665.1 L372.5,664.5 L368.6,664.1 L364.5,663.7 L360.3,663.2 L356.9,661.3 L353.3,659.6 L349.6,657.7 L347.1,654.5 L344.7,651.3 L342.2,648.3 L341.2,644.0 L340.3,639.9 L339.5,636.0 L339.1,632.0 L338.3,628.4 L337.6,624.9 L336.9,621.5 L336.5,618.0 L336.3,614.5 L336.0,611.2 L335.8,607.8 L335.4,604.6 L334.9,601.3 L334.4,598.0 L334.1,594.7 L333.8,591.3 L333.4,587.8 L333.0,584.2 L333.3,580.7 L334.1,577.2 L335.1,573.9 L336.6,570.7 L338.2,567.5 L339.7,564.4 L341.3,561.2 L342.9,558.0 L345.2,555.3 L348.3,553.2 L351.3,551.3 L354.2,549.3 L356.9,547.3 L359.6,545.2 L362.9,544.0 L366.4,543.3 L369.8,542.6 L373.1,542.0 L376.3,541.5 L379.4,540.7 L382.4,539.9 L385.5,539.1 L388.6,538.8 L391.8,538.8 L394.9,538.8 L398.0,538.7 L401.1,538.6 L404.3,538.5 L407.4,538.4 L410.7,538.3 L414.1,538.1 L417.6,537.8 L421.1,537.8 L424.6,538.2 L428.3,538.5 L432.4,538.4 L436.7,538.4 L441.1,538.7 L444.0,541.1 L447.0,543.5 L450.1,545.9 L451.4,549.9 L452.5,553.8 L453.6,557.6 L454.7,561.2 L454.9,565.1 L454.1,569.4 L453.5,573.3 L452.4,577.1 L449.9,581.2 L447.6,584.7 L445.6,587.9 L443.0,590.9 L440.7,593.5 L438.5,595.9Z" fill="#000"/></mask><mask id="m20" maskUnits="userSpaceOnUse" x="0" y="0" width="1024" height="958"><rect x="245.0" y="523.0" width="120.0" height="120.0" fill="#fff"/><rect x="200.0" y="675.0" width="100.0" height="100.0" fill="#000"/><rect x="127.0" y="690.0" width="73.0" height="100.0" fill="#000"/><rect x="200.0" y="775.0" width="100.0" height="88.0" fill="#000"/><rect x="236.0" y="716.0" width="60.0" height="60.0" fill="#000"/><path d="M436.5,598.0 L434.7,599.9 L433.7,601.8 L433.1,603.6 L432.4,605.3 L431.8,607.0 L431.1,608.7 L430.4,610.4 L429.8,612.2 L429.2,613.9 L428.6,615.7 L428.0,617.5 L427.4,619.3 L426.7,621.2 L425.9,623.1 L425.1,625.1 L424.2,627.1 L423.3,629.3 L422.3,631.5 L421.3,633.9 L420.3,636.6 L419.0,639.2 L417.6,642.0 L416.1,645.0 L414.5,648.7 L412.2,650.9 L409.8,653.3 L407.2,655.9 L404.3,657.8 L401.2,659.4 L398.0,661.1 L394.6,662.9 L391.1,663.4 L387.5,664.0 L383.9,664.6 L380.0,665.3 L376.2,665.1 L372.5,664.5 L368.6,664.1 L364.5,663.7 L360.3,663.2 L356.9,661.3 L353.3,659.6 L349.6,657.7 L347.1,654.5 L344.7,651.3 L342.2,648.3 L341.2,644.0 L340.3,639.9 L339.5,636.0 L339.1,632.0 L338.3,628.4 L337.6,624.9 L336.9,621.5 L336.5,618.0 L336.3,614.5 L336.0,611.2 L335.8,607.8 L335.4,604.6 L334.9,601.3 L334.4,598.0 L334.1,594.7 L333.8,591.3 L333.4,587.8 L333.0,584.2 L333.3,580.7 L334.1,577.2 L335.1,573.9 L336.6,570.7 L338.2,567.5 L339.7,564.4 L341.3,561.2 L342.9,558.0 L345.2,555.3 L348.3,553.2 L351.3,551.3 L354.2,549.3 L356.9,547.3 L359.6,545.2 L362.9,544.0 L366.4,543.3 L369.8,542.6 L373.1,542.0 L376.3,541.5 L379.4,540.7 L382.4,539.9 L385.5,539.1 L388.6,538.8 L391.8,538.8 L394.9,538.8 L398.0,538.7 L401.1,538.6 L404.3,538.5 L407.4,538.4 L410.7,538.3 L414.1,538.1 L417.6,537.8 L421.1,537.8 L424.6,538.2 L428.3,538.5 L432.4,538.4 L436.7,538.4 L441.1,538.7 L444.0,541.1 L447.0,543.5 L450.1,545.9 L451.4,549.9 L452.5,553.8 L453.6,557.6 L454.7,561.2 L454.9,565.1 L454.1,569.4 L453.5,573.3 L452.4,577.1 L449.9,581.2 L447.6,584.7 L445.6,587.9 L443.0,590.9 L440.7,593.5 L438.5,595.9Z" fill="#000"/></mask><mask id="m21" maskUnits="userSpaceOnUse" x="0" y="0" width="1024" height="958"><rect x="365.0" y="523.0" width="60.0" height="60.0" fill="#fff"/><rect x="200.0" y="675.0" width="100.0" height="100.0" fill="#000"/><rect x="127.0" y="690.0" width="73.0" height="100.0" fill="#000"/><rect x="200.0" y="775.0" width="100.0" height="88.0" fill="#000"/><rect x="236.0" y="716.0" width="60.0" height="60.0" fill="#000"/><path d="M436.5,598.0 L434.7,599.9 L433.7,601.8 L433.1,603.6 L432.4,605.3 L431.8,607.0 L431.1,608.7 L430.4,610.4 L429.8,612.2 L429.2,613.9 L428.6,615.7 L428.0,617.5 L427.4,619.3 L426.7,621.2 L425.9,623.1 L425.1,625.1 L424.2,627.1 L423.3,629.3 L422.3,631.5 L421.3,633.9 L420.3,636.6 L419.0,639.2 L417.6,642.0 L416.1,645.0 L414.5,648.7 L412.2,650.9 L409.8,653.3 L407.2,655.9 L404.3,657.8 L401.2,659.4 L398.0,661.1 L394.6,662.9 L391.1,663.4 L387.5,664.0 L383.9,664.6 L380.0,665.3 L376.2,665.1 L372.5,664.5 L368.6,664.1 L364.5,663.7 L360.3,663.2 L356.9,661.3 L353.3,659.6 L349.6,657.7 L347.1,654.5 L344.7,651.3 L342.2,648.3 L341.2,644.0 L340.3,639.9 L339.5,636.0 L339.1,632.0 L338.3,628.4 L337.6,624.9 L336.9,621.5 L336.5,618.0 L336.3,614.5 L336.0,611.2 L335.8,607.8 L335.4,604.6 L334.9,601.3 L334.4,598.0 L334.1,594.7 L333.8,591.3 L333.4,587.8 L333.0,584.2 L333.3,580.7 L334.1,577.2 L335.1,573.9 L336.6,570.7 L338.2,567.5 L339.7,564.4 L341.3,561.2 L342.9,558.0 L345.2,555.3 L348.3,553.2 L351.3,551.3 L354.2,549.3 L356.9,547.3 L359.6,545.2 L362.9,544.0 L366.4,543.3 L369.8,542.6 L373.1,542.0 L376.3,541.5 L379.4,540.7 L382.4,539.9 L385.5,539.1 L388.6,538.8 L391.8,538.8 L394.9,538.8 L398.0,538.7 L401.1,538.6 L404.3,538.5 L407.4,538.4 L410.7,538.3 L414.1,538.1 L417.6,537.8 L421.1,537.8 L424.6,538.2 L428.3,538.5 L432.4,538.4 L436.7,538.4 L441.1,538.7 L444.0,541.1 L447.0,543.5 L450.1,545.9 L451.4,549.9 L452.5,553.8 L453.6,557.6 L454.7,561.2 L454.9,565.1 L454.1,569.4 L453.5,573.3 L452.4,577.1 L449.9,581.2 L447.6,584.7 L445.6,587.9 L443.0,590.9 L440.7,593.5 L438.5,595.9Z" fill="#000"/></mask><mask id="m22" maskUnits="userSpaceOnUse" x="0" y="0" width="1024" height="958"><rect x="425.0" y="523.0" width="60.0" height="60.0" fill="#fff"/><rect x="200.0" y="675.0" width="100.0" height="100.0" fill="#000"/><rect x="127.0" y="690.0" width="73.0" height="100.0" fill="#000"/><rect x="200.0" y="775.0" width="100.0" height="88.0" fill="#000"/><rect x="236.0" y="716.0" width="60.0" height="60.0" fill="#000"/><path d="M436.5,598.0 L434.7,599.9 L433.7,601.8 L433.1,603.6 L432.4,605.3 L431.8,607.0 L431.1,608.7 L430.4,610.4 L429.8,612.2 L429.2,613.9 L428.6,615.7 L428.0,617.5 L427.4,619.3 L426.7,621.2 L425.9,623.1 L425.1,625.1 L424.2,627.1 L423.3,629.3 L422.3,631.5 L421.3,633.9 L420.3,636.6 L419.0,639.2 L417.6,642.0 L416.1,645.0 L414.5,648.7 L412.2,650.9 L409.8,653.3 L407.2,655.9 L404.3,657.8 L401.2,659.4 L398.0,661.1 L394.6,662.9 L391.1,663.4 L387.5,664.0 L383.9,664.6 L380.0,665.3 L376.2,665.1 L372.5,664.5 L368.6,664.1 L364.5,663.7 L360.3,663.2 L356.9,661.3 L353.3,659.6 L349.6,657.7 L347.1,654.5 L344.7,651.3 L342.2,648.3 L341.2,644.0 L340.3,639.9 L339.5,636.0 L339.1,632.0 L338.3,628.4 L337.6,624.9 L336.9,621.5 L336.5,618.0 L336.3,614.5 L336.0,611.2 L335.8,607.8 L335.4,604.6 L334.9,601.3 L334.4,598.0 L334.1,594.7 L333.8,591.3 L333.4,587.8 L333.0,584.2 L333.3,580.7 L334.1,577.2 L335.1,573.9 L336.6,570.7 L338.2,567.5 L339.7,564.4 L341.3,561.2 L342.9,558.0 L345.2,555.3 L348.3,553.2 L351.3,551.3 L354.2,549.3 L356.9,547.3 L359.6,545.2 L362.9,544.0 L366.4,543.3 L369.8,542.6 L373.1,542.0 L376.3,541.5 L379.4,540.7 L382.4,539.9 L385.5,539.1 L388.6,538.8 L391.8,538.8 L394.9,538.8 L398.0,538.7 L401.1,538.6 L404.3,538.5 L407.4,538.4 L410.7,538.3 L414.1,538.1 L417.6,537.8 L421.1,537.8 L424.6,538.2 L428.3,538.5 L432.4,538.4 L436.7,538.4 L441.1,538.7 L444.0,541.1 L447.0,543.5 L450.1,545.9 L451.4,549.9 L452.5,553.8 L453.6,557.6 L454.7,561.2 L454.9,565.1 L454.1,569.4 L453.5,573.3 L452.4,577.1 L449.9,581.2 L447.6,584.7 L445.6,587.9 L443.0,590.9 L440.7,593.5 L438.5,595.9Z" fill="#000"/></mask><mask id="m23" maskUnits="userSpaceOnUse" x="0" y="0" width="1024" height="958"><rect x="365.0" y="583.0" width="60.0" height="60.0" fill="#fff"/><rect x="200.0" y="675.0" width="100.0" height="100.0" fill="#000"/><rect x="127.0" y="690.0" width="73.0" height="100.0" fill="#000"/><rect x="200.0" y="775.0" width="100.0" height="88.0" fill="#000"/><rect x="236.0" y="716.0" width="60.0" height="60.0" fill="#000"/><path d="M436.5,598.0 L434.7,599.9 L433.7,601.8 L433.1,603.6 L432.4,605.3 L431.8,607.0 L431.1,608.7 L430.4,610.4 L429.8,612.2 L429.2,613.9 L428.6,615.7 L428.0,617.5 L427.4,619.3 L426.7,621.2 L425.9,623.1 L425.1,625.1 L424.2,627.1 L423.3,629.3 L422.3,631.5 L421.3,633.9 L420.3,636.6 L419.0,639.2 L417.6,642.0 L416.1,645.0 L414.5,648.7 L412.2,650.9 L409.8,653.3 L407.2,655.9 L404.3,657.8 L401.2,659.4 L398.0,661.1 L394.6,662.9 L391.1,663.4 L387.5,664.0 L383.9,664.6 L380.0,665.3 L376.2,665.1 L372.5,664.5 L368.6,664.1 L364.5,663.7 L360.3,663.2 L356.9,661.3 L353.3,659.6 L349.6,657.7 L347.1,654.5 L344.7,651.3 L342.2,648.3 L341.2,644.0 L340.3,639.9 L339.5,636.0 L339.1,632.0 L338.3,628.4 L337.6,624.9 L336.9,621.5 L336.5,618.0 L336.3,614.5 L336.0,611.2 L335.8,607.8 L335.4,604.6 L334.9,601.3 L334.4,598.0 L334.1,594.7 L333.8,591.3 L333.4,587.8 L333.0,584.2 L333.3,580.7 L334.1,577.2 L335.1,573.9 L336.6,570.7 L338.2,567.5 L339.7,564.4 L341.3,561.2 L342.9,558.0 L345.2,555.3 L348.3,553.2 L351.3,551.3 L354.2,549.3 L356.9,547.3 L359.6,545.2 L362.9,544.0 L366.4,543.3 L369.8,542.6 L373.1,542.0 L376.3,541.5 L379.4,540.7 L382.4,539.9 L385.5,539.1 L388.6,538.8 L391.8,538.8 L394.9,538.8 L398.0,538.7 L401.1,538.6 L404.3,538.5 L407.4,538.4 L410.7,538.3 L414.1,538.1 L417.6,537.8 L421.1,537.8 L424.6,538.2 L428.3,538.5 L432.4,538.4 L436.7,538.4 L441.1,538.7 L444.0,541.1 L447.0,543.5 L450.1,545.9 L451.4,549.9 L452.5,553.8 L453.6,557.6 L454.7,561.2 L454.9,565.1 L454.1,569.4 L453.5,573.3 L452.4,577.1 L449.9,581.2 L447.6,584.7 L445.6,587.9 L443.0,590.9 L440.7,593.5 L438.5,595.9Z" fill="#000"/></mask><mask id="m24" maskUnits="userSpaceOnUse" x="0" y="0" width="1024" height="958"><rect x="425.0" y="583.0" width="60.0" height="60.0" fill="#fff"/><rect x="200.0" y="675.0" width="100.0" height="100.0" fill="#000"/><rect x="127.0" y="690.0" width="73.0" height="100.0" fill="#000"/><rect x="200.0" y="775.0" width="100.0" height="88.0" fill="#000"/><rect x="236.0" y="716.0" width="60.0" height="60.0" fill="#000"/><path d="M436.5,598.0 L434.7,599.9 L433.7,601.8 L433.1,603.6 L432.4,605.3 L431.8,607.0 L431.1,608.7 L430.4,610.4 L429.8,612.2 L429.2,613.9 L428.6,615.7 L428.0,617.5 L427.4,619.3 L426.7,621.2 L425.9,623.1 L425.1,625.1 L424.2,627.1 L423.3,629.3 L422.3,631.5 L421.3,633.9 L420.3,636.6 L419.0,639.2 L417.6,642.0 L416.1,645.0 L414.5,648.7 L412.2,650.9 L409.8,653.3 L407.2,655.9 L404.3,657.8 L401.2,659.4 L398.0,661.1 L394.6,662.9 L391.1,663.4 L387.5,664.0 L383.9,664.6 L380.0,665.3 L376.2,665.1 L372.5,664.5 L368.6,664.1 L364.5,663.7 L360.3,663.2 L356.9,661.3 L353.3,659.6 L349.6,657.7 L347.1,654.5 L344.7,651.3 L342.2,648.3 L341.2,644.0 L340.3,639.9 L339.5,636.0 L339.1,632.0 L338.3,628.4 L337.6,624.9 L336.9,621.5 L336.5,618.0 L336.3,614.5 L336.0,611.2 L335.8,607.8 L335.4,604.6 L334.9,601.3 L334.4,598.0 L334.1,594.7 L333.8,591.3 L333.4,587.8 L333.0,584.2 L333.3,580.7 L334.1,577.2 L335.1,573.9 L336.6,570.7 L338.2,567.5 L339.7,564.4 L341.3,561.2 L342.9,558.0 L345.2,555.3 L348.3,553.2 L351.3,551.3 L354.2,549.3 L356.9,547.3 L359.6,545.2 L362.9,544.0 L366.4,543.3 L369.8,542.6 L373.1,542.0 L376.3,541.5 L379.4,540.7 L382.4,539.9 L385.5,539.1 L388.6,538.8 L391.8,538.8 L394.9,538.8 L398.0,538.7 L401.1,538.6 L404.3,538.5 L407.4,538.4 L410.7,538.3 L414.1,538.1 L417.6,537.8 L421.1,537.8 L424.6,538.2 L428.3,538.5 L432.4,538.4 L436.7,538.4 L441.1,538.7 L444.0,541.1 L447.0,543.5 L450.1,545.9 L451.4,549.9 L452.5,553.8 L453.6,557.6 L454.7,561.2 L454.9,565.1 L454.1,569.4 L453.5,573.3 L452.4,577.1 L449.9,581.2 L447.6,584.7 L445.6,587.9 L443.0,590.9 L440.7,593.5 L438.5,595.9Z" fill="#000"/></mask><mask id="m25" maskUnits="userSpaceOnUse" x="0" y="0" width="1024" height="958"><rect x="125.0" y="643.0" width="120.0" height="120.0" fill="#fff"/><rect x="200.0" y="675.0" width="100.0" height="100.0" fill="#000"/><rect x="127.0" y="690.0" width="73.0" height="100.0" fill="#000"/><rect x="200.0" y="775.0" width="100.0" height="88.0" fill="#000"/><rect x="236.0" y="716.0" width="60.0" height="60.0" fill="#000"/><path d="M436.5,598.0 L434.7,599.9 L433.7,601.8 L433.1,603.6 L432.4,605.3 L431.8,607.0 L431.1,608.7 L430.4,610.4 L429.8,612.2 L429.2,613.9 L428.6,615.7 L428.0,617.5 L427.4,619.3 L426.7,621.2 L425.9,623.1 L425.1,625.1 L424.2,627.1 L423.3,629.3 L422.3,631.5 L421.3,633.9 L420.3,636.6 L419.0,639.2 L417.6,642.0 L416.1,645.0 L414.5,648.7 L412.2,650.9 L409.8,653.3 L407.2,655.9 L404.3,657.8 L401.2,659.4 L398.0,661.1 L394.6,662.9 L391.1,663.4 L387.5,664.0 L383.9,664.6 L380.0,665.3 L376.2,665.1 L372.5,664.5 L368.6,664.1 L364.5,663.7 L360.3,663.2 L356.9,661.3 L353.3,659.6 L349.6,657.7 L347.1,654.5 L344.7,651.3 L342.2,648.3 L341.2,644.0 L340.3,639.9 L339.5,636.0 L339.1,632.0 L338.3,628.4 L337.6,624.9 L336.9,621.5 L336.5,618.0 L336.3,614.5 L336.0,611.2 L335.8,607.8 L335.4,604.6 L334.9,601.3 L334.4,598.0 L334.1,594.7 L333.8,591.3 L333.4,587.8 L333.0,584.2 L333.3,580.7 L334.1,577.2 L335.1,573.9 L336.6,570.7 L338.2,567.5 L339.7,564.4 L341.3,561.2 L342.9,558.0 L345.2,555.3 L348.3,553.2 L351.3,551.3 L354.2,549.3 L356.9,547.3 L359.6,545.2 L362.9,544.0 L366.4,543.3 L369.8,542.6 L373.1,542.0 L376.3,541.5 L379.4,540.7 L382.4,539.9 L385.5,539.1 L388.6,538.8 L391.8,538.8 L394.9,538.8 L398.0,538.7 L401.1,538.6 L404.3,538.5 L407.4,538.4 L410.7,538.3 L414.1,538.1 L417.6,537.8 L421.1,537.8 L424.6,538.2 L428.3,538.5 L432.4,538.4 L436.7,538.4 L441.1,538.7 L444.0,541.1 L447.0,543.5 L450.1,545.9 L451.4,549.9 L452.5,553.8 L453.6,557.6 L454.7,561.2 L454.9,565.1 L454.1,569.4 L453.5,573.3 L452.4,577.1 L449.9,581.2 L447.6,584.7 L445.6,587.9 L443.0,590.9 L440.7,593.5 L438.5,595.9Z" fill="#000"/></mask><mask id="m26" maskUnits="userSpaceOnUse" x="0" y="0" width="1024" height="958"><rect x="245.0" y="643.0" width="120.0" height="120.0" fill="#fff"/><rect x="200.0" y="675.0" width="100.0" height="100.0" fill="#000"/><rect x="127.0" y="690.0" width="73.0" height="100.0" fill="#000"/><rect x="200.0" y="775.0" width="100.0" height="88.0" fill="#000"/><rect x="236.0" y="716.0" width="60.0" height="60.0" fill="#000"/><path d="M436.5,598.0 L434.7,599.9 L433.7,601.8 L433.1,603.6 L432.4,605.3 L431.8,607.0 L431.1,608.7 L430.4,610.4 L429.8,612.2 L429.2,613.9 L428.6,615.7 L428.0,617.5 L427.4,619.3 L426.7,621.2 L425.9,623.1 L425.1,625.1 L424.2,627.1 L423.3,629.3 L422.3,631.5 L421.3,633.9 L420.3,636.6 L419.0,639.2 L417.6,642.0 L416.1,645.0 L414.5,648.7 L412.2,650.9 L409.8,653.3 L407.2,655.9 L404.3,657.8 L401.2,659.4 L398.0,661.1 L394.6,662.9 L391.1,663.4 L387.5,664.0 L383.9,664.6 L380.0,665.3 L376.2,665.1 L372.5,664.5 L368.6,664.1 L364.5,663.7 L360.3,663.2 L356.9,661.3 L353.3,659.6 L349.6,657.7 L347.1,654.5 L344.7,651.3 L342.2,648.3 L341.2,644.0 L340.3,639.9 L339.5,636.0 L339.1,632.0 L338.3,628.4 L337.6,624.9 L336.9,621.5 L336.5,618.0 L336.3,614.5 L336.0,611.2 L335.8,607.8 L335.4,604.6 L334.9,601.3 L334.4,598.0 L334.1,594.7 L333.8,591.3 L333.4,587.8 L333.0,584.2 L333.3,580.7 L334.1,577.2 L335.1,573.9 L336.6,570.7 L338.2,567.5 L339.7,564.4 L341.3,561.2 L342.9,558.0 L345.2,555.3 L348.3,553.2 L351.3,551.3 L354.2,549.3 L356.9,547.3 L359.6,545.2 L362.9,544.0 L366.4,543.3 L369.8,542.6 L373.1,542.0 L376.3,541.5 L379.4,540.7 L382.4,539.9 L385.5,539.1 L388.6,538.8 L391.8,538.8 L394.9,538.8 L398.0,538.7 L401.1,538.6 L404.3,538.5 L407.4,538.4 L410.7,538.3 L414.1,538.1 L417.6,537.8 L421.1,537.8 L424.6,538.2 L428.3,538.5 L432.4,538.4 L436.7,538.4 L441.1,538.7 L444.0,541.1 L447.0,543.5 L450.1,545.9 L451.4,549.9 L452.5,553.8 L453.6,557.6 L454.7,561.2 L454.9,565.1 L454.1,569.4 L453.5,573.3 L452.4,577.1 L449.9,581.2 L447.6,584.7 L445.6,587.9 L443.0,590.9 L440.7,593.5 L438.5,595.9Z" fill="#000"/></mask><mask id="m27" maskUnits="userSpaceOnUse" x="0" y="0" width="1024" height="958"><rect x="365.0" y="643.0" width="120.0" height="120.0" fill="#fff"/><rect x="200.0" y="675.0" width="100.0" height="100.0" fill="#000"/><rect x="127.0" y="690.0" width="73.0" height="100.0" fill="#000"/><rect x="200.0" y="775.0" width="100.0" height="88.0" fill="#000"/><rect x="236.0" y="716.0" width="60.0" height="60.0" fill="#000"/><path d="M436.5,598.0 L434.7,599.9 L433.7,601.8 L433.1,603.6 L432.4,605.3 L431.8,607.0 L431.1,608.7 L430.4,610.4 L429.8,612.2 L429.2,613.9 L428.6,615.7 L428.0,617.5 L427.4,619.3 L426.7,621.2 L425.9,623.1 L425.1,625.1 L424.2,627.1 L423.3,629.3 L422.3,631.5 L421.3,633.9 L420.3,636.6 L419.0,639.2 L417.6,642.0 L416.1,645.0 L414.5,648.7 L412.2,650.9 L409.8,653.3 L407.2,655.9 L404.3,657.8 L401.2,659.4 L398.0,661.1 L394.6,662.9 L391.1,663.4 L387.5,664.0 L383.9,664.6 L380.0,665.3 L376.2,665.1 L372.5,664.5 L368.6,664.1 L364.5,663.7 L360.3,663.2 L356.9,661.3 L353.3,659.6 L349.6,657.7 L347.1,654.5 L344.7,651.3 L342.2,648.3 L341.2,644.0 L340.3,639.9 L339.5,636.0 L339.1,632.0 L338.3,628.4 L337.6,624.9 L336.9,621.5 L336.5,618.0 L336.3,614.5 L336.0,611.2 L335.8,607.8 L335.4,604.6 L334.9,601.3 L334.4,598.0 L334.1,594.7 L333.8,591.3 L333.4,587.8 L333.0,584.2 L333.3,580.7 L334.1,577.2 L335.1,573.9 L336.6,570.7 L338.2,567.5 L339.7,564.4 L341.3,561.2 L342.9,558.0 L345.2,555.3 L348.3,553.2 L351.3,551.3 L354.2,549.3 L356.9,547.3 L359.6,545.2 L362.9,544.0 L366.4,543.3 L369.8,542.6 L373.1,542.0 L376.3,541.5 L379.4,540.7 L382.4,539.9 L385.5,539.1 L388.6,538.8 L391.8,538.8 L394.9,538.8 L398.0,538.7 L401.1,538.6 L404.3,538.5 L407.4,538.4 L410.7,538.3 L414.1,538.1 L417.6,537.8 L421.1,537.8 L424.6,538.2 L428.3,538.5 L432.4,538.4 L436.7,538.4 L441.1,538.7 L444.0,541.1 L447.0,543.5 L450.1,545.9 L451.4,549.9 L452.5,553.8 L453.6,557.6 L454.7,561.2 L454.9,565.1 L454.1,569.4 L453.5,573.3 L452.4,577.1 L449.9,581.2 L447.6,584.7 L445.6,587.9 L443.0,590.9 L440.7,593.5 L438.5,595.9Z" fill="#000"/></mask><mask id="m28" maskUnits="userSpaceOnUse" x="0" y="0" width="1024" height="958"><rect x="125.0" y="763.0" width="120.0" height="100.0" fill="#fff"/><rect x="200.0" y="675.0" width="100.0" height="100.0" fill="#000"/><rect x="127.0" y="690.0" width="73.0" height="100.0" fill="#000"/><rect x="200.0" y="775.0" width="100.0" height="88.0" fill="#000"/><rect x="236.0" y="716.0" width="60.0" height="60.0" fill="#000"/><path d="M436.5,598.0 L434.7,599.9 L433.7,601.8 L433.1,603.6 L432.4,605.3 L431.8,607.0 L431.1,608.7 L430.4,610.4 L429.8,612.2 L429.2,613.9 L428.6,615.7 L428.0,617.5 L427.4,619.3 L426.7,621.2 L425.9,623.1 L425.1,625.1 L424.2,627.1 L423.3,629.3 L422.3,631.5 L421.3,633.9 L420.3,636.6 L419.0,639.2 L417.6,642.0 L416.1,645.0 L414.5,648.7 L412.2,650.9 L409.8,653.3 L407.2,655.9 L404.3,657.8 L401.2,659.4 L398.0,661.1 L394.6,662.9 L391.1,663.4 L387.5,664.0 L383.9,664.6 L380.0,665.3 L376.2,665.1 L372.5,664.5 L368.6,664.1 L364.5,663.7 L360.3,663.2 L356.9,661.3 L353.3,659.6 L349.6,657.7 L347.1,654.5 L344.7,651.3 L342.2,648.3 L341.2,644.0 L340.3,639.9 L339.5,636.0 L339.1,632.0 L338.3,628.4 L337.6,624.9 L336.9,621.5 L336.5,618.0 L336.3,614.5 L336.0,611.2 L335.8,607.8 L335.4,604.6 L334.9,601.3 L334.4,598.0 L334.1,594.7 L333.8,591.3 L333.4,587.8 L333.0,584.2 L333.3,580.7 L334.1,577.2 L335.1,573.9 L336.6,570.7 L338.2,567.5 L339.7,564.4 L341.3,561.2 L342.9,558.0 L345.2,555.3 L348.3,553.2 L351.3,551.3 L354.2,549.3 L356.9,547.3 L359.6,545.2 L362.9,544.0 L366.4,543.3 L369.8,542.6 L373.1,542.0 L376.3,541.5 L379.4,540.7 L382.4,539.9 L385.5,539.1 L388.6,538.8 L391.8,538.8 L394.9,538.8 L398.0,538.7 L401.1,538.6 L404.3,538.5 L407.4,538.4 L410.7,538.3 L414.1,538.1 L417.6,537.8 L421.1,537.8 L424.6,538.2 L428.3,538.5 L432.4,538.4 L436.7,538.4 L441.1,538.7 L444.0,541.1 L447.0,543.5 L450.1,545.9 L451.4,549.9 L452.5,553.8 L453.6,557.6 L454.7,561.2 L454.9,565.1 L454.1,569.4 L453.5,573.3 L452.4,577.1 L449.9,581.2 L447.6,584.7 L445.6,587.9 L443.0,590.9 L440.7,593.5 L438.5,595.9Z" fill="#000"/></mask><mask id="m29" maskUnits="userSpaceOnUse" x="0" y="0" width="1024" height="958"><rect x="245.0" y="763.0" width="120.0" height="100.0" fill="#fff"/><rect x="200.0" y="675.0" width="100.0" height="100.0" fill="#000"/><rect x="127.0" y="690.0" width="73.0" height="100.0" fill="#000"/><rect x="200.0" y="775.0" width="100.0" height="88.0" fill="#000"/><rect x="236.0" y="716.0" width="60.0" height="60.0" fill="#000"/><path d="M436.5,598.0 L434.7,599.9 L433.7,601.8 L433.1,603.6 L432.4,605.3 L431.8,607.0 L431.1,608.7 L430.4,610.4 L429.8,612.2 L429.2,613.9 L428.6,615.7 L428.0,617.5 L427.4,619.3 L426.7,621.2 L425.9,623.1 L425.1,625.1 L424.2,627.1 L423.3,629.3 L422.3,631.5 L421.3,633.9 L420.3,636.6 L419.0,639.2 L417.6,642.0 L416.1,645.0 L414.5,648.7 L412.2,650.9 L409.8,653.3 L407.2,655.9 L404.3,657.8 L401.2,659.4 L398.0,661.1 L394.6,662.9 L391.1,663.4 L387.5,664.0 L383.9,664.6 L380.0,665.3 L376.2,665.1 L372.5,664.5 L368.6,664.1 L364.5,663.7 L360.3,663.2 L356.9,661.3 L353.3,659.6 L349.6,657.7 L347.1,654.5 L344.7,651.3 L342.2,648.3 L341.2,644.0 L340.3,639.9 L339.5,636.0 L339.1,632.0 L338.3,628.4 L337.6,624.9 L336.9,621.5 L336.5,618.0 L336.3,614.5 L336.0,611.2 L335.8,607.8 L335.4,604.6 L334.9,601.3 L334.4,598.0 L334.1,594.7 L333.8,591.3 L333.4,587.8 L333.0,584.2 L333.3,580.7 L334.1,577.2 L335.1,573.9 L336.6,570.7 L338.2,567.5 L339.7,564.4 L341.3,561.2 L342.9,558.0 L345.2,555.3 L348.3,553.2 L351.3,551.3 L354.2,549.3 L356.9,547.3 L359.6,545.2 L362.9,544.0 L366.4,543.3 L369.8,542.6 L373.1,542.0 L376.3,541.5 L379.4,540.7 L382.4,539.9 L385.5,539.1 L388.6,538.8 L391.8,538.8 L394.9,538.8 L398.0,538.7 L401.1,538.6 L404.3,538.5 L407.4,538.4 L410.7,538.3 L414.1,538.1 L417.6,537.8 L421.1,537.8 L424.6,538.2 L428.3,538.5 L432.4,538.4 L436.7,538.4 L441.1,538.7 L444.0,541.1 L447.0,543.5 L450.1,545.9 L451.4,549.9 L452.5,553.8 L453.6,557.6 L454.7,561.2 L454.9,565.1 L454.1,569.4 L453.5,573.3 L452.4,577.1 L449.9,581.2 L447.6,584.7 L445.6,587.9 L443.0,590.9 L440.7,593.5 L438.5,595.9Z" fill="#000"/></mask><mask id="m30" maskUnits="userSpaceOnUse" x="0" y="0" width="1024" height="958"><rect x="365.0" y="763.0" width="120.0" height="100.0" fill="#fff"/><rect x="200.0" y="675.0" width="100.0" height="100.0" fill="#000"/><rect x="127.0" y="690.0" width="73.0" height="100.0" fill="#000"/><rect x="200.0" y="775.0" width="100.0" height="88.0" fill="#000"/><rect x="236.0" y="716.0" width="60.0" height="60.0" fill="#000"/><path d="M436.5,598.0 L434.7,599.9 L433.7,601.8 L433.1,603.6 L432.4,605.3 L431.8,607.0 L431.1,608.7 L430.4,610.4 L429.8,612.2 L429.2,613.9 L428.6,615.7 L428.0,617.5 L427.4,619.3 L426.7,621.2 L425.9,623.1 L425.1,625.1 L424.2,627.1 L423.3,629.3 L422.3,631.5 L421.3,633.9 L420.3,636.6 L419.0,639.2 L417.6,642.0 L416.1,645.0 L414.5,648.7 L412.2,650.9 L409.8,653.3 L407.2,655.9 L404.3,657.8 L401.2,659.4 L398.0,661.1 L394.6,662.9 L391.1,663.4 L387.5,664.0 L383.9,664.6 L380.0,665.3 L376.2,665.1 L372.5,664.5 L368.6,664.1 L364.5,663.7 L360.3,663.2 L356.9,661.3 L353.3,659.6 L349.6,657.7 L347.1,654.5 L344.7,651.3 L342.2,648.3 L341.2,644.0 L340.3,639.9 L339.5,636.0 L339.1,632.0 L338.3,628.4 L337.6,624.9 L336.9,621.5 L336.5,618.0 L336.3,614.5 L336.0,611.2 L335.8,607.8 L335.4,604.6 L334.9,601.3 L334.4,598.0 L334.1,594.7 L333.8,591.3 L333.4,587.8 L333.0,584.2 L333.3,580.7 L334.1,577.2 L335.1,573.9 L336.6,570.7 L338.2,567.5 L339.7,564.4 L341.3,561.2 L342.9,558.0 L345.2,555.3 L348.3,553.2 L351.3,551.3 L354.2,549.3 L356.9,547.3 L359.6,545.2 L362.9,544.0 L366.4,543.3 L369.8,542.6 L373.1,542.0 L376.3,541.5 L379.4,540.7 L382.4,539.9 L385.5,539.1 L388.6,538.8 L391.8,538.8 L394.9,538.8 L398.0,538.7 L401.1,538.6 L404.3,538.5 L407.4,538.4 L410.7,538.3 L414.1,538.1 L417.6,537.8 L421.1,537.8 L424.6,538.2 L428.3,538.5 L432.4,538.4 L436.7,538.4 L441.1,538.7 L444.0,541.1 L447.0,543.5 L450.1,545.9 L451.4,549.9 L452.5,553.8 L453.6,557.6 L454.7,561.2 L454.9,565.1 L454.1,569.4 L453.5,573.3 L452.4,577.1 L449.9,581.2 L447.6,584.7 L445.6,587.9 L443.0,590.9 L440.7,593.5 L438.5,595.9Z" fill="#000"/></mask><mask id="m31" maskUnits="userSpaceOnUse" x="0" y="0" width="1024" height="958"><rect x="200.0" y="675.0" width="100.0" height="100.0" fill="#fff"/><rect x="127.0" y="690.0" width="73.0" height="100.0" fill="#000"/><rect x="200.0" y="775.0" width="100.0" height="88.0" fill="#000"/><rect x="236.0" y="716.0" width="60.0" height="60.0" fill="#000"/><path d="M436.5,598.0 L434.7,599.9 L433.7,601.8 L433.1,603.6 L432.4,605.3 L431.8,607.0 L431.1,608.7 L430.4,610.4 L429.8,612.2 L429.2,613.9 L428.6,615.7 L428.0,617.5 L427.4,619.3 L426.7,621.2 L425.9,623.1 L425.1,625.1 L424.2,627.1 L423.3,629.3 L422.3,631.5 L421.3,633.9 L420.3,636.6 L419.0,639.2 L417.6,642.0 L416.1,645.0 L414.5,648.7 L412.2,650.9 L409.8,653.3 L407.2,655.9 L404.3,657.8 L401.2,659.4 L398.0,661.1 L394.6,662.9 L391.1,663.4 L387.5,664.0 L383.9,664.6 L380.0,665.3 L376.2,665.1 L372.5,664.5 L368.6,664.1 L364.5,663.7 L360.3,663.2 L356.9,661.3 L353.3,659.6 L349.6,657.7 L347.1,654.5 L344.7,651.3 L342.2,648.3 L341.2,644.0 L340.3,639.9 L339.5,636.0 L339.1,632.0 L338.3,628.4 L337.6,624.9 L336.9,621.5 L336.5,618.0 L336.3,614.5 L336.0,611.2 L335.8,607.8 L335.4,604.6 L334.9,601.3 L334.4,598.0 L334.1,594.7 L333.8,591.3 L333.4,587.8 L333.0,584.2 L333.3,580.7 L334.1,577.2 L335.1,573.9 L336.6,570.7 L338.2,567.5 L339.7,564.4 L341.3,561.2 L342.9,558.0 L345.2,555.3 L348.3,553.2 L351.3,551.3 L354.2,549.3 L356.9,547.3 L359.6,545.2 L362.9,544.0 L366.4,543.3 L369.8,542.6 L373.1,542.0 L376.3,541.5 L379.4,540.7 L382.4,539.9 L385.5,539.1 L388.6,538.8 L391.8,538.8 L394.9,538.8 L398.0,538.7 L401.1,538.6 L404.3,538.5 L407.4,538.4 L410.7,538.3 L414.1,538.1 L417.6,537.8 L421.1,537.8 L424.6,538.2 L428.3,538.5 L432.4,538.4 L436.7,538.4 L441.1,538.7 L444.0,541.1 L447.0,543.5 L450.1,545.9 L451.4,549.9 L452.5,553.8 L453.6,557.6 L454.7,561.2 L454.9,565.1 L454.1,569.4 L453.5,573.3 L452.4,577.1 L449.9,581.2 L447.6,584.7 L445.6,587.9 L443.0,590.9 L440.7,593.5 L438.5,595.9Z" fill="#000"/></mask><mask id="m32" maskUnits="userSpaceOnUse" x="0" y="0" width="1024" height="958"><rect x="127.0" y="690.0" width="73.0" height="100.0" fill="#fff"/><rect x="200.0" y="775.0" width="100.0" height="88.0" fill="#000"/><rect x="236.0" y="716.0" width="60.0" height="60.0" fill="#000"/><path d="M436.5,598.0 L434.7,599.9 L433.7,601.8 L433.1,603.6 L432.4,605.3 L431.8,607.0 L431.1,608.7 L430.4,610.4 L429.8,612.2 L429.2,613.9 L428.6,615.7 L428.0,617.5 L427.4,619.3 L426.7,621.2 L425.9,623.1 L425.1,625.1 L424.2,627.1 L423.3,629.3 L422.3,631.5 L421.3,633.9 L420.3,636.6 L419.0,639.2 L417.6,642.0 L416.1,645.0 L414.5,648.7 L412.2,650.9 L409.8,653.3 L407.2,655.9 L404.3,657.8 L401.2,659.4 L398.0,661.1 L394.6,662.9 L391.1,663.4 L387.5,664.0 L383.9,664.6 L380.0,665.3 L376.2,665.1 L372.5,664.5 L368.6,664.1 L364.5,663.7 L360.3,663.2 L356.9,661.3 L353.3,659.6 L349.6,657.7 L347.1,654.5 L344.7,651.3 L342.2,648.3 L341.2,644.0 L340.3,639.9 L339.5,636.0 L339.1,632.0 L338.3,628.4 L337.6,624.9 L336.9,621.5 L336.5,618.0 L336.3,614.5 L336.0,611.2 L335.8,607.8 L335.4,604.6 L334.9,601.3 L334.4,598.0 L334.1,594.7 L333.8,591.3 L333.4,587.8 L333.0,584.2 L333.3,580.7 L334.1,577.2 L335.1,573.9 L336.6,570.7 L338.2,567.5 L339.7,564.4 L341.3,561.2 L342.9,558.0 L345.2,555.3 L348.3,553.2 L351.3,551.3 L354.2,549.3 L356.9,547.3 L359.6,545.2 L362.9,544.0 L366.4,543.3 L369.8,542.6 L373.1,542.0 L376.3,541.5 L379.4,540.7 L382.4,539.9 L385.5,539.1 L388.6,538.8 L391.8,538.8 L394.9,538.8 L398.0,538.7 L401.1,538.6 L404.3,538.5 L407.4,538.4 L410.7,538.3 L414.1,538.1 L417.6,537.8 L421.1,537.8 L424.6,538.2 L428.3,538.5 L432.4,538.4 L436.7,538.4 L441.1,538.7 L444.0,541.1 L447.0,543.5 L450.1,545.9 L451.4,549.9 L452.5,553.8 L453.6,557.6 L454.7,561.2 L454.9,565.1 L454.1,569.4 L453.5,573.3 L452.4,577.1 L449.9,581.2 L447.6,584.7 L445.6,587.9 L443.0,590.9 L440.7,593.5 L438.5,595.9Z" fill="#000"/></mask><mask id="m33" maskUnits="userSpaceOnUse" x="0" y="0" width="1024" height="958"><rect x="200.0" y="775.0" width="100.0" height="88.0" fill="#fff"/><rect x="236.0" y="716.0" width="60.0" height="60.0" fill="#000"/><path d="M436.5,598.0 L434.7,599.9 L433.7,601.8 L433.1,603.6 L432.4,605.3 L431.8,607.0 L431.1,608.7 L430.4,610.4 L429.8,612.2 L429.2,613.9 L428.6,615.7 L428.0,617.5 L427.4,619.3 L426.7,621.2 L425.9,623.1 L425.1,625.1 L424.2,627.1 L423.3,629.3 L422.3,631.5 L421.3,633.9 L420.3,636.6 L419.0,639.2 L417.6,642.0 L416.1,645.0 L414.5,648.7 L412.2,650.9 L409.8,653.3 L407.2,655.9 L404.3,657.8 L401.2,659.4 L398.0,661.1 L394.6,662.9 L391.1,663.4 L387.5,664.0 L383.9,664.6 L380.0,665.3 L376.2,665.1 L372.5,664.5 L368.6,664.1 L364.5,663.7 L360.3,663.2 L356.9,661.3 L353.3,659.6 L349.6,657.7 L347.1,654.5 L344.7,651.3 L342.2,648.3 L341.2,644.0 L340.3,639.9 L339.5,636.0 L339.1,632.0 L338.3,628.4 L337.6,624.9 L336.9,621.5 L336.5,618.0 L336.3,614.5 L336.0,611.2 L335.8,607.8 L335.4,604.6 L334.9,601.3 L334.4,598.0 L334.1,594.7 L333.8,591.3 L333.4,587.8 L333.0,584.2 L333.3,580.7 L334.1,577.2 L335.1,573.9 L336.6,570.7 L338.2,567.5 L339.7,564.4 L341.3,561.2 L342.9,558.0 L345.2,555.3 L348.3,553.2 L351.3,551.3 L354.2,549.3 L356.9,547.3 L359.6,545.2 L362.9,544.0 L366.4,543.3 L369.8,542.6 L373.1,542.0 L376.3,541.5 L379.4,540.7 L382.4,539.9 L385.5,539.1 L388.6,538.8 L391.8,538.8 L394.9,538.8 L398.0,538.7 L401.1,538.6 L404.3,538.5 L407.4,538.4 L410.7,538.3 L414.1,538.1 L417.6,537.8 L421.1,537.8 L424.6,538.2 L428.3,538.5 L432.4,538.4 L436.7,538.4 L441.1,538.7 L444.0,541.1 L447.0,543.5 L450.1,545.9 L451.4,549.9 L452.5,553.8 L453.6,557.6 L454.7,561.2 L454.9,565.1 L454.1,569.4 L453.5,573.3 L452.4,577.1 L449.9,581.2 L447.6,584.7 L445.6,587.9 L443.0,590.9 L440.7,593.5 L438.5,595.9Z" fill="#000"/></mask><mask id="m34" maskUnits="userSpaceOnUse" x="0" y="0" width="1024" height="958"><rect x="236.0" y="716.0" width="60.0" height="60.0" fill="#fff"/><path d="M436.5,598.0 L434.7,599.9 L433.7,601.8 L433.1,603.6 L432.4,605.3 L431.8,607.0 L431.1,608.7 L430.4,610.4 L429.8,612.2 L429.2,613.9 L428.6,615.7 L428.0,617.5 L427.4,619.3 L426.7,621.2 L425.9,623.1 L425.1,625.1 L424.2,627.1 L423.3,629.3 L422.3,631.5 L421.3,633.9 L420.3,636.6 L419.0,639.2 L417.6,642.0 L416.1,645.0 L414.5,648.7 L412.2,650.9 L409.8,653.3 L407.2,655.9 L404.3,657.8 L401.2,659.4 L398.0,661.1 L394.6,662.9 L391.1,663.4 L387.5,664.0 L383.9,664.6 L380.0,665.3 L376.2,665.1 L372.5,664.5 L368.6,664.1 L364.5,663.7 L360.3,663.2 L356.9,661.3 L353.3,659.6 L349.6,657.7 L347.1,654.5 L344.7,651.3 L342.2,648.3 L341.2,644.0 L340.3,639.9 L339.5,636.0 L339.1,632.0 L338.3,628.4 L337.6,624.9 L336.9,621.5 L336.5,618.0 L336.3,614.5 L336.0,611.2 L335.8,607.8 L335.4,604.6 L334.9,601.3 L334.4,598.0 L334.1,594.7 L333.8,591.3 L333.4,587.8 L333.0,584.2 L333.3,580.7 L334.1,577.2 L335.1,573.9 L336.6,570.7 L338.2,567.5 L339.7,564.4 L341.3,561.2 L342.9,558.0 L345.2,555.3 L348.3,553.2 L351.3,551.3 L354.2,549.3 L356.9,547.3 L359.6,545.2 L362.9,544.0 L366.4,543.3 L369.8,542.6 L373.1,542.0 L376.3,541.5 L379.4,540.7 L382.4,539.9 L385.5,539.1 L388.6,538.8 L391.8,538.8 L394.9,538.8 L398.0,538.7 L401.1,538.6 L404.3,538.5 L407.4,538.4 L410.7,538.3 L414.1,538.1 L417.6,537.8 L421.1,537.8 L424.6,538.2 L428.3,538.5 L432.4,538.4 L436.7,538.4 L441.1,538.7 L444.0,541.1 L447.0,543.5 L450.1,545.9 L451.4,549.9 L452.5,553.8 L453.6,557.6 L454.7,561.2 L454.9,565.1 L454.1,569.4 L453.5,573.3 L452.4,577.1 L449.9,581.2 L447.6,584.7 L445.6,587.9 L443.0,590.9 L440.7,593.5 L438.5,595.9Z" fill="#000"/></mask><mask id="m35" maskUnits="userSpaceOnUse" x="0" y="0" width="1024" height="958"><rect x="0" y="0" width="1024" height="958" fill="#fff"/><path d="M436.5,598.0 L434.7,599.9 L433.7,601.8 L433.1,603.6 L432.4,605.3 L431.8,607.0 L431.1,608.7 L430.4,610.4 L429.8,612.2 L429.2,613.9 L428.6,615.7 L428.0,617.5 L427.4,619.3 L426.7,621.2 L425.9,623.1 L425.1,625.1 L424.2,627.1 L423.3,629.3 L422.3,631.5 L421.3,633.9 L420.3,636.6 L419.0,639.2 L417.6,642.0 L416.1,645.0 L414.5,648.7 L412.2,650.9 L409.8,653.3 L407.2,655.9 L404.3,657.8 L401.2,659.4 L398.0,661.1 L394.6,662.9 L391.1,663.4 L387.5,664.0 L383.9,664.6 L380.0,665.3 L376.2,665.1 L372.5,664.5 L368.6,664.1 L364.5,663.7 L360.3,663.2 L356.9,661.3 L353.3,659.6 L349.6,657.7 L347.1,654.5 L344.7,651.3 L342.2,648.3 L341.2,644.0 L340.3,639.9 L339.5,636.0 L339.1,632.0 L338.3,628.4 L337.6,624.9 L336.9,621.5 L336.5,618.0 L336.3,614.5 L336.0,611.2 L335.8,607.8 L335.4,604.6 L334.9,601.3 L334.4,598.0 L334.1,594.7 L333.8,591.3 L333.4,587.8 L333.0,584.2 L333.3,580.7 L334.1,577.2 L335.1,573.9 L336.6,570.7 L338.2,567.5 L339.7,564.4 L341.3,561.2 L342.9,558.0 L345.2,555.3 L348.3,553.2 L351.3,551.3 L354.2,549.3 L356.9,547.3 L359.6,545.2 L362.9,544.0 L366.4,543.3 L369.8,542.6 L373.1,542.0 L376.3,541.5 L379.4,540.7 L382.4,539.9 L385.5,539.1 L388.6,538.8 L391.8,538.8 L394.9,538.8 L398.0,538.7 L401.1,538.6 L404.3,538.5 L407.4,538.4 L410.7,538.3 L414.1,538.1 L417.6,537.8 L421.1,537.8 L424.6,538.2 L428.3,538.5 L432.4,538.4 L436.7,538.4 L441.1,538.7 L444.0,541.1 L447.0,543.5 L450.1,545.9 L451.4,549.9 L452.5,553.8 L453.6,557.6 L454.7,561.2 L454.9,565.1 L454.1,569.4 L453.5,573.3 L452.4,577.1 L449.9,581.2 L447.6,584.7 L445.6,587.9 L443.0,590.9 L440.7,593.5 L438.5,595.9Z" fill="#000"/></mask><mask id="m36" maskUnits="userSpaceOnUse" x="0" y="0" width="1024" height="958"><rect x="0" y="0" width="1024" height="958" fill="#fff"/><path d="M436.5,598.0 L434.7,599.9 L433.7,601.8 L433.1,603.6 L432.4,605.3 L431.8,607.0 L431.1,608.7 L430.4,610.4 L429.8,612.2 L429.2,613.9 L428.6,615.7 L428.0,617.5 L427.4,619.3 L426.7,621.2 L425.9,623.1 L425.1,625.1 L424.2,627.1 L423.3,629.3 L422.3,631.5 L421.3,633.9 L420.3,636.6 L419.0,639.2 L417.6,642.0 L416.1,645.0 L414.5,648.7 L412.2,650.9 L409.8,653.3 L407.2,655.9 L404.3,657.8 L401.2,659.4 L398.0,661.1 L394.6,662.9 L391.1,663.4 L387.5,664.0 L383.9,664.6 L380.0,665.3 L376.2,665.1 L372.5,664.5 L368.6,664.1 L364.5,663.7 L360.3,663.2 L356.9,661.3 L353.3,659.6 L349.6,657.7 L347.1,654.5 L344.7,651.3 L342.2,648.3 L341.2,644.0 L340.3,639.9 L339.5,636.0 L339.1,632.0 L338.3,628.4 L337.6,624.9 L336.9,621.5 L336.5,618.0 L336.3,614.5 L336.0,611.2 L335.8,607.8 L335.4,604.6 L334.9,601.3 L334.4,598.0 L334.1,594.7 L333.8,591.3 L333.4,587.8 L333.0,584.2 L333.3,580.7 L334.1,577.2 L335.1,573.9 L336.6,570.7 L338.2,567.5 L339.7,564.4 L341.3,561.2 L342.9,558.0 L345.2,555.3 L348.3,553.2 L351.3,551.3 L354.2,549.3 L356.9,547.3 L359.6,545.2 L362.9,544.0 L366.4,543.3 L369.8,542.6 L373.1,542.0 L376.3,541.5 L379.4,540.7 L382.4,539.9 L385.5,539.1 L388.6,538.8 L391.8,538.8 L394.9,538.8 L398.0,538.7 L401.1,538.6 L404.3,538.5 L407.4,538.4 L410.7,538.3 L414.1,538.1 L417.6,537.8 L421.1,537.8 L424.6,538.2 L428.3,538.5 L432.4,538.4 L436.7,538.4 L441.1,538.7 L444.0,541.1 L447.0,543.5 L450.1,545.9 L451.4,549.9 L452.5,553.8 L453.6,557.6 L454.7,561.2 L454.9,565.1 L454.1,569.4 L453.5,573.3 L452.4,577.1 L449.9,581.2 L447.6,584.7 L445.6,587.9 L443.0,590.9 L440.7,593.5 L438.5,595.9Z" fill="#000"/></mask></defs><path mask="url(#m19)" d="M128.1,544.3 L132.5,546.8 L143.8,556.8 L156.3,566.8 L161.3,576.2 L168.8,576.9 L172.6,573.7 L185.1,572.5 L190.1,568.1 L195.1,563.1 L201.4,558.1 L212.7,555.6 L224.0,555.3 L230.2,558.7 L235.2,564.3 L240.2,566.8 L245.0,566.8 M128.1,563.1 L133.8,566.8 L136.3,573.1 L137.5,585.6 L138.8,598.2 L138.2,608.2 L132.5,615.7 L128.1,619.5 M202.7,578.1 L206.4,574.4 L212.7,573.7 L217.1,581.9 L211.4,588.8 L205.2,585.6 L202.7,578.1Z M157.6,643.0 L160.1,633.2 L161.3,620.7 L175.1,614.4 L193.9,606.9 L200.2,613.2 L203.9,620.7 L212.7,627.0 L218.3,632.0 L217.7,637.0 L212.7,643.0 M230.2,643.0 L230.2,630.7 L234.0,624.5 L237.7,623.2 L245.0,623.8" fill="none" stroke="#000" stroke-width="1.1" stroke-linejoin="round"/><path mask="url(#m20)" d="M245.0,566.8 L253.8,566.8 L263.8,570.6 L266.9,575.6 L268.8,585.6 L270.1,589.4 L262.5,595.7 L260.7,600.7 L260.0,610.7 L257.5,619.5 L252.5,625.7 L245.0,624.5 M275.7,593.8 L281.3,589.4 L285.1,581.9 L291.3,578.7 L295.7,582.5 L293.9,590.6 L288.8,593.8 L275.7,593.8Z M270.1,589.4 L275.7,593.8 M365.0,541.8 L357.7,544.3 L349.0,548.1 L342.7,551.2 L332.7,553.7 L326.4,558.1 L320.2,564.3 L318.3,570.6 L320.2,578.1 L320.2,584.4 L316.4,589.4 L310.1,593.8 L300.1,598.2 L298.2,601.9 L298.9,610.7 L302.6,615.7 L310.1,622.0 L320.2,625.7 L332.7,628.2 L333.9,635.7 L332.7,643.0 M365.0,550.6 L357.7,553.1 L349.0,556.8 L340.2,560.6 L333.9,565.6 L331.4,570.6 L330.8,578.1 L332.7,588.1 L332.7,598.2 L337.7,604.4 L342.7,610.7 L345.2,616.9 L345.2,643.0 M365.0,556.8 L355.2,560.6 L345.2,565.6 L340.2,570.6 L338.3,576.9 L338.3,585.6 L340.2,593.1 L344.0,600.7 L350.2,608.2 L351.5,643.0 M365.0,561.8 L357.7,564.3 L350.2,569.3 L345.2,574.4 L344.6,583.1 L346.5,591.9 L350.2,598.2 L355.2,605.7 L355.2,643.0 M365.0,566.8 L357.7,570.6 L352.7,574.4 L350.8,581.9 L351.5,589.4 L355.2,595.7 L359.0,600.7 L360.2,610.7 L359.0,643.0 M365.0,573.1 L360.2,576.9 L358.4,583.1 L359.0,590.6 L361.5,598.2 L364.0,604.4 L365.0,608.2 M365.0,576.9 L363.4,583.1 L364.0,590.6 L365.0,593.1" fill="none" stroke="#000" stroke-width="1.1" stroke-linejoin="round"/><path mask="url(#m21)" d="M365.0,541.8 L371.3,540.5 L382.5,539.9 L388.8,537.7 L398.8,535.5 L412.0,534.3 L415.1,533.0 L423.9,530.8 L425.0,530.8 M365.0,549.9 L371.3,548.7 L377.5,547.1 L383.8,545.5 L390.1,543.7 L396.3,541.8 L402.6,540.5 L412.0,539.3 L425.0,539.0 M365.0,555.6 L370.0,553.1 L375.0,551.2 L382.5,548.7 L390.1,546.2 L396.3,544.9 L402.6,543.7 L412.0,541.8 L425.0,541.8 M365.0,559.3 L371.3,556.2 L377.5,553.7 L383.8,551.2 L390.1,549.3 L396.3,547.4 L402.6,545.5 L412.0,544.3 L425.0,543.7 M365.0,563.1 L371.3,559.3 L377.5,556.2 L383.8,553.7 L391.3,551.2 L397.6,549.3 L405.7,548.1 L415.1,546.8 L425.0,546.2 M365.0,566.8 L371.3,563.1 L377.5,559.3 L383.8,556.2 L391.3,553.7 L398.8,551.8 L408.8,550.6 L418.2,549.3 L425.0,548.7 M365.0,570.6 L370.0,566.8 L376.3,562.5 L382.5,559.3 L390.1,556.2 L397.6,554.3 L405.7,553.1 L415.1,552.4 L425.0,550.6 M365.0,575.0 L368.8,570.6 L374.4,566.2 L380.7,562.5 L386.9,559.3 L395.1,556.8 L402.6,554.9 L412.0,554.3 L421.4,554.3 L425.0,553.1 M368.8,583.0 L370.0,576.2 L374.4,570.0 L380.7,565.6 L386.9,561.8 L393.2,558.7 L399.4,556.2 L405.7,556.2 L415.1,555.6 L425.0,555.6 M373.8,583.0 L374.4,576.2 L378.8,570.6 L385.0,566.2 L391.3,562.5 L397.6,559.3 L403.8,558.1 L408.8,557.4 L425.0,556.8 M383.2,583.0 L383.8,571.9 L390.1,566.2 L397.6,561.2 L405.1,557.8 L413.9,557.4 L418.9,560.0 L423.2,565.6 L424.2,573.1 L422.0,577.5 L418.2,583.0" fill="none" stroke="#000" stroke-width="1.1" stroke-linejoin="round"/><path mask="url(#m22)" d="M431.3,524.3 L433.8,527.1 L437.5,527.4 L439.7,525.5 L440.0,524.3 M425.0,530.8 L431.3,529.6 L434.4,529.3 L437.5,530.5 L441.3,533.0 L443.8,536.8 L447.5,540.5 L451.3,544.9 L454.4,548.7 L455.7,554.3 L456.3,560.6 L455.1,566.8 L452.6,573.1 L450.1,578.1 L448.2,583.0 M425.0,540.2 L430.0,540.5 L434.4,542.4 L438.8,545.5 L441.9,549.3 L444.4,553.1 L446.3,557.4 L446.9,563.1 L446.3,569.3 L444.4,574.4 L442.5,578.7 L441.3,583.0 M425.0,544.3 L430.0,544.9 L434.4,547.4 L437.5,550.6 L440.7,554.3 L441.9,558.7 L442.5,563.7 L441.9,569.3 L440.7,574.4 L438.8,579.4 L438.2,583.0 M425.0,546.8 L428.8,547.4 L432.5,549.3 L435.6,552.4 L438.2,556.2 L439.4,560.6 L439.7,565.6 L439.4,570.6 L438.2,575.6 L436.9,579.4 L436.3,583.0 M425.0,548.7 L428.1,549.3 L431.3,551.2 L434.4,554.3 L436.3,558.1 L437.5,562.5 L437.8,566.8 L437.2,571.9 L436.3,576.2 L435.0,580.6 L434.4,583.0 M425.0,550.6 L427.5,551.2 L430.0,553.1 L432.5,556.2 L434.4,560.0 L435.3,564.3 L435.6,568.7 L435.0,573.7 L433.8,578.1 L432.5,583.0 M425.0,553.1 L426.9,553.7 L428.8,555.6 L430.6,558.7 L431.9,562.5 L432.8,566.8 L433.1,571.2 L432.5,576.2 L431.3,580.6 L430.6,583.0 M425.0,555.6 L426.9,556.8 L428.1,560.0 L429.4,563.7 L430.0,568.1 L430.3,572.5 L430.0,576.9 L428.8,581.2 L428.1,583.0 M425.0,559.3 L426.3,561.8 L427.2,566.2 L427.5,570.6 L427.5,575.0 L426.9,579.4 L426.3,583.0" fill="none" stroke="#000" stroke-width="1.1" stroke-linejoin="round"/><path mask="url(#m23)" d="M383.2,583.0 L386.3,586.8 L390.1,591.1 L395.7,596.5 L400.1,594.3 L405.7,591.8 L412.0,588.0 L418.2,584.3 L421.4,583.0 M395.1,599.9 L398.8,604.3 L399.8,608.7 L397.6,613.1 L394.4,618.7 L390.1,621.2 L385.7,621.2 L383.5,618.7 L383.8,613.1 L386.3,608.7 L390.1,604.3 L395.1,599.9Z M375.6,583.0 L379.4,590.5 L381.3,596.8 L379.4,603.7 L376.3,609.9 L373.1,616.8 L372.5,623.7 L376.3,630.0 L378.8,632.5 L386.3,632.5 L392.6,630.6 L397.6,626.8 L402.0,621.8 L405.7,616.2 L408.2,611.8 L408.8,604.9 L409.5,598.7 L412.0,594.3 L417.0,589.3 L422.6,584.9 L425.0,583.6 M371.3,583.0 L375.0,591.1 L375.6,598.7 L373.8,606.8 L370.6,614.3 L370.0,620.6 L370.6,626.8 L373.8,631.9 L377.5,635.0 L385.7,636.2 L393.8,634.4 L400.1,630.6 L405.1,625.6 L408.8,620.6 L411.3,615.6 L412.6,609.9 L414.5,603.7 L417.0,597.4 L421.4,592.4 L425.0,588.0 M367.5,583.0 L370.0,589.3 L371.3,598.7 L369.4,608.1 L367.5,615.6 L367.5,623.7 L368.8,630.6 L372.5,635.6 L377.5,638.1 L386.9,638.7 L395.7,636.9 L402.6,633.1 L407.6,628.1 L411.3,623.1 L414.5,618.1 L416.4,611.8 L418.2,606.2 L420.1,599.9 L423.2,595.5 L425.0,593.0 M365.0,586.1 L366.9,595.5 L366.3,604.9 L365.0,611.2 M365.0,626.8 L366.9,633.1 L371.3,638.1 L377.5,640.6 L386.9,641.6 L396.3,640.0 L403.8,636.2 L410.1,631.2 L414.5,626.2 L417.6,621.2 L420.1,614.9 L422.0,608.7 L423.9,603.0 L425.0,600.5 M365.0,633.1 L368.1,638.1 L374.4,641.9 L383.8,643.0 M399.4,643.0 L406.3,639.4 L412.6,634.4 L417.0,629.3 L420.1,624.3 L422.6,618.1 L424.5,612.4 L425.0,610.6 M408.8,643.0 L415.1,638.1 L419.5,633.1 L422.6,628.1 L425.0,623.1 M418.2,643.0 L422.6,638.1 L425.0,634.4" fill="none" stroke="#000" stroke-width="1.1" stroke-linejoin="round"/><path mask="url(#m24)" d="M448.2,583.0 L443.8,586.8 L440.7,591.1 L438.2,597.4 L435.6,603.0 L433.8,608.1 L431.9,614.3 L429.4,620.6 L426.9,626.8 L425.0,631.9 M440.7,583.0 L436.3,588.0 L432.5,593.6 L430.0,599.9 L428.1,604.9 L427.5,609.9 L426.3,614.3 L425.0,617.4 M437.5,583.0 L433.1,586.8 L429.4,591.1 L426.9,595.5 L425.6,600.5 L425.0,604.9 M434.4,583.0 L430.0,586.8 L426.9,590.5 L425.0,594.3 M431.3,583.0 L427.5,586.1 L425.0,588.6 M425.0,638.1 L425.6,643.0" fill="none" stroke="#000" stroke-width="1.1" stroke-linejoin="round"/><path mask="url(#m25)" d="M128.1,646.8 L137.5,645.5 L142.5,648.0 L151.3,648.0 L157.6,643.0 M212.7,643.0 L205.2,649.3 L196.4,652.4 L195.1,655.5 L197.7,661.8 L201.4,666.8 L202.7,674.3 L200.2,680.6 L196.4,684.3 L194.5,690.6 L192.6,694.4 L187.6,696.2 L178.9,698.1 L172.6,701.9 L168.8,706.9 L167.6,713.1 L163.8,720.7 L158.8,725.7 L151.3,728.2 L143.8,726.9 L135.0,724.4 L128.1,723.2 M231.5,643.0 L232.7,646.8 L237.7,650.5 L245.0,654.3 M128.1,734.4 L135.0,738.2 L142.5,742.6 L150.1,743.2 L157.6,740.7 L165.1,735.7 L172.6,729.4 L173.9,725.7 L180.1,720.7 L187.6,715.7 L197.7,710.6 L207.7,704.4 L218.9,699.4 L231.5,695.6 L237.7,690.6 L245.0,686.8 M128.1,743.2 L135.0,747.0 L142.5,750.7 L150.1,752.0 L157.6,750.7 L167.6,745.7 L175.1,740.7 L181.4,735.7 L188.9,730.7 L197.7,724.4 L205.2,719.4 L215.2,713.1 L225.2,706.9 L235.2,703.1 L245.0,700.6 M128.1,749.5 L135.0,754.5 L142.5,757.0 L150.1,758.2 L160.1,755.7 L170.1,750.7 L177.6,745.7 L185.1,740.7 L192.6,734.4 L200.2,728.2 L210.2,721.9 L220.2,715.7 L230.2,710.6 L240.2,706.9 L245.0,705.6 M128.1,755.7 L136.3,760.7 L140.0,763.0 M160.1,763.0 L168.8,758.2 L177.6,752.0 L185.1,747.0 L193.9,740.7 L202.7,733.2 L212.7,726.9 L222.7,720.7 L232.7,715.7 L245.0,711.9 M168.8,763.0 L178.9,755.7 L187.6,749.5 L196.4,743.2 L205.2,736.9 L215.2,729.4 L225.2,724.4 L235.2,720.7 L245.0,718.2 M178.9,763.0 L187.6,757.0 L197.7,749.5 L206.4,743.2 L215.2,736.9 L225.2,731.9 L234.0,728.2 L245.0,723.2 M190.1,763.0 L200.2,755.7 L210.2,748.2 L220.2,740.7 L229.0,735.7 L235.2,732.6 L240.2,734.4 L242.7,738.2 L241.5,747.0 L237.7,753.2 L236.5,763.0 M244.0,755.7 L245.0,763.0" fill="none" stroke="#000" stroke-width="1.1" stroke-linejoin="round"/><path mask="url(#m26)" d="M245.0,654.3 L251.3,656.8 L257.5,659.9 L266.3,658.0 L285.1,656.8 L295.1,653.0 L301.4,649.3 L310.1,645.5 L315.1,645.5 L325.2,649.3 L332.7,647.4 L332.7,643.0 M345.2,643.0 L346.5,655.5 L344.0,666.8 L335.2,671.8 L328.9,675.6 L323.9,680.6 L316.4,685.6 L303.9,686.8 L297.6,683.1 L288.8,676.8 L280.1,674.9 L270.1,676.2 L257.5,680.6 L245.0,686.8 M352.7,643.0 L355.2,650.5 L360.2,658.0 L365.0,663.0 M359.0,643.0 L362.7,648.0 L365.0,650.5 M245.0,693.1 L257.5,688.1 L270.1,683.1 L280.1,684.3 L288.8,689.3 L293.9,696.9 L293.9,705.6 L291.3,713.1 L286.3,720.7 L281.3,728.2 L277.6,733.2 L275.1,740.7 L273.8,749.5 L271.3,763.0 M245.0,700.6 L252.5,695.6 L266.3,690.0 L275.1,690.6 L282.6,694.4 L284.5,700.6 L283.8,709.4 L281.3,718.2 L277.6,725.7 L273.8,733.2 L270.1,742.0 L267.5,750.7 L265.0,763.0 M245.0,705.6 L252.5,701.9 L261.3,698.1 L270.1,698.7 L275.1,703.1 L275.1,710.6 L273.8,718.2 L271.3,725.7 L268.8,733.2 L266.3,742.0 L263.8,750.7 L261.3,763.0 M245.0,710.6 L252.5,709.4 L260.0,706.9 L264.4,708.1 L265.0,715.7 L265.0,724.4 L263.8,733.2 L261.3,742.0 L258.8,750.7 L256.3,763.0 M245.0,715.7 L251.3,716.9 L256.3,720.7 L258.8,728.2 L258.8,735.7 L256.3,743.2 L253.8,753.2 L251.3,763.0 M245.0,724.4 L248.8,728.2 L252.5,733.2 L252.5,739.5 L250.0,747.0 L247.5,755.7 L245.0,763.0 M365.0,680.6 L355.2,681.8 L349.0,680.6 L340.2,678.7 L332.7,683.1 L330.2,686.8 L330.2,693.1 L327.7,700.6 L323.9,704.4 L315.1,706.9 L306.4,711.9 L300.1,718.2 L292.6,725.7 L286.3,733.2 L282.6,739.5 L278.8,750.7 L276.3,763.0 M365.0,705.6 L357.7,709.4 L347.7,715.7 L337.7,720.7 L328.9,726.9 L322.7,731.9 L321.4,738.2 L325.2,743.2 L332.7,748.2 L335.2,744.5 L338.9,738.2 L342.7,731.9 L351.5,726.9 L365.0,723.8 M293.9,763.0 L295.1,755.7 L302.6,750.7 L306.4,752.0 L310.1,758.2 L313.9,763.0" fill="none" stroke="#000" stroke-width="1.1" stroke-linejoin="round"/><path mask="url(#m27)" d="M367.5,643.0 L372.5,645.5 L381.3,646.8 L390.1,645.5 L395.1,643.0 M365.0,649.3 L370.0,653.0 L377.5,655.5 L386.3,654.9 L393.8,650.5 L398.8,645.5 L400.1,643.0 M365.0,665.5 L375.0,663.0 L383.8,659.3 L390.1,655.5 L395.1,650.5 L397.6,648.0 L401.3,643.0 M365.0,680.6 L372.5,678.1 L382.5,673.1 L390.1,668.1 L395.1,661.8 L397.6,655.5 L400.1,650.5 L403.8,645.5 L407.6,643.0 M426.4,643.0 L427.0,650.5 L423.9,659.3 L412.6,663.0 L407.6,666.8 L406.3,674.3 L403.8,683.1 L400.7,690.6 L401.3,695.0 L392.6,695.0 L383.8,692.5 L377.5,694.4 L370.0,699.4 L365.0,705.6 M396.3,695.0 L400.7,690.6 M365.0,724.4 L386.3,724.4 L393.8,720.7 L406.3,716.9 L416.4,715.7 L423.9,713.1 L430.1,713.8 L430.8,718.2 L428.9,723.2 L423.9,726.9 L425.1,733.2 L428.9,740.7 L427.6,747.0 L422.6,754.5 L413.9,763.0" fill="none" stroke="#000" stroke-width="1.1" stroke-linejoin="round"/><path mask="url(#m28)" d="M128.1,760.5 L135.0,764.3 L147.5,766.8 L157.6,764.3 L166.3,759.3 L175.1,751.8 L182.6,745.5 L185.1,743.0 M128.1,765.5 L135.0,771.8 L142.5,775.6 L148.8,777.4 L156.3,773.1 L165.1,765.5 L172.6,759.3 L180.1,753.0 L187.6,746.8 L192.6,743.0 M212.7,743.0 L200.2,750.5 L190.1,759.3 L185.1,768.1 L181.4,778.1 L180.1,785.6 L181.4,793.1 L187.6,799.4 L195.1,801.9 L207.7,799.4 L220.2,793.1 L230.2,784.3 L235.2,775.6 L236.5,761.8 L237.7,753.0 L241.5,745.5 L242.7,743.0 M195.1,743.0 L185.1,750.5 L177.6,760.5 L171.3,771.8 L167.6,780.6 L167.6,790.6 L171.3,799.4 L177.6,806.9 L187.6,811.9 L196.4,813.8 L207.7,810.6 L220.2,804.4 L232.7,794.4 L240.2,784.3 L245.0,776.8 M185.1,743.0 L175.1,753.0 L166.3,765.5 L158.8,775.6 L156.9,785.6 L158.8,793.1 L163.8,801.9 L171.3,811.9 L180.1,819.4 L188.9,824.4 L196.4,825.7 L206.4,823.2 L215.2,818.2 L225.2,810.6 L235.2,800.6 L242.7,793.1 L245.0,790.6 M128.1,773.1 L132.5,778.1 L135.0,784.3 L136.3,793.1 L136.3,805.6 L133.8,815.7 L130.0,821.9 L128.1,824.4 M130.0,768.1 L133.8,775.6 L133.8,793.1 L132.5,813.1 L128.8,820.7 M128.1,830.7 L137.5,818.2 L143.8,804.4 L148.8,800.6 L157.6,806.9 L162.6,814.4 L168.8,823.2 L177.6,833.2 L187.6,842.0 L195.1,843.2 L201.4,842.0 L210.2,833.2 L217.7,823.2 L227.7,813.1 L237.7,805.6 L245.0,801.9 M135.0,840.7 L143.8,833.2 L153.8,836.9 L156.3,843.2 L151.3,850.7 L142.5,854.5 L136.3,850.7 L134.4,845.7 L135.0,840.7Z M128.1,833.2 L136.3,824.4 L143.8,816.9 L150.1,813.1 L155.1,816.9 L161.3,828.2 L167.6,836.9 L171.3,843.2 L167.6,848.2 L158.8,853.2 L150.1,858.2 L137.5,859.5 L128.1,855.7 M150.1,863.0 L162.6,858.2 L177.6,853.2 L187.6,848.2 L195.1,844.5 L201.4,845.7 L207.7,850.7 L217.7,855.7 L225.2,859.5 L232.7,863.0 M162.6,863.0 L175.1,858.2 L187.6,855.7 L195.1,854.5 L202.7,855.7 L212.7,860.7 L217.7,863.0 M245.0,795.6 L237.7,803.1 L230.2,810.6 L222.7,818.2 L217.7,825.7 L215.2,833.2 L215.2,843.2 L220.2,852.0 L227.7,858.2 L232.7,863.0 M245.0,803.1 L240.2,808.1 L232.7,815.7 L227.7,823.2 L225.2,833.2 L225.2,843.2 L229.0,852.0 L234.0,858.2 L236.5,863.0 M245.0,813.1 L240.2,820.7 L236.5,830.7 L235.2,840.7 L235.2,850.7 L237.7,858.2 L239.0,863.0 M242.7,743.0 L241.5,755.5 L241.5,768.1 L245.0,773.1" fill="none" stroke="#000" stroke-width="1.1" stroke-linejoin="round"/><path mask="url(#m29)" d="M281.3,743.0 L277.6,755.5 L273.8,768.1 L271.3,780.6 L265.0,788.1 L261.3,795.6 L257.5,803.1 L253.8,810.6 L250.0,820.7 L247.5,830.7 L246.3,843.2 L246.3,855.7 L246.9,860.7 M273.8,743.0 L270.1,755.5 L266.3,768.1 L263.8,776.8 L258.8,786.8 L253.8,794.4 L250.0,801.9 L246.3,809.4 M267.5,743.0 L263.8,755.5 L260.0,768.1 L257.5,778.1 L252.5,785.6 L247.5,793.1 M261.3,743.0 L258.8,753.0 L255.0,764.3 L252.5,773.1 L247.5,780.6 M256.3,743.0 L253.8,753.0 L250.0,763.0 L247.5,771.8 M303.9,750.5 L295.1,754.3 L293.9,756.8 L293.9,770.6 L297.6,783.1 L295.1,789.3 L288.8,795.6 L281.3,799.4 L276.3,804.4 L273.8,810.6 L268.8,818.2 L262.5,828.2 L260.0,835.7 L261.3,845.7 L263.8,860.7 M303.9,750.5 L310.1,756.8 L315.1,764.3 L316.4,770.6 L313.9,776.8 L313.9,784.3 L317.7,790.6 L325.2,799.4 L327.7,803.1 L332.7,804.4 L338.9,800.6 L345.2,795.6 L350.2,793.1 L365.0,793.1 M326.4,805.6 L321.4,810.6 L320.8,815.7 L325.2,820.7 L330.2,821.3 L335.2,816.9 L333.9,808.1 L332.7,804.4 L327.7,804.4 L326.4,805.6Z M349.6,821.3 L349.6,823.2 M349.6,838.2 L349.6,843.8 M321.4,860.7 L325.2,854.5 L333.9,852.0 L342.7,854.5 L346.5,860.7 M361.5,860.7 L365.0,857.0" fill="none" stroke="#000" stroke-width="1.1" stroke-linejoin="round"/><path mask="url(#m30)" d="M428.9,743.0 L426.4,750.5 L421.4,755.5 L413.9,761.8 L413.9,768.1 L416.4,774.3 L416.4,780.6 L412.6,790.6 L407.6,790.0 L402.6,790.0 L386.3,790.6 L377.5,787.5 L371.3,789.3 L365.0,791.9 M365.0,855.7 L370.0,853.2 L375.0,851.4 L381.3,853.2 L385.0,855.7 L386.9,860.7" fill="none" stroke="#000" stroke-width="1.1" stroke-linejoin="round"/><path mask="url(#m31)" d="M200.0,752.2 L206.3,747.0 L213.6,741.8 L220.9,737.6 L229.2,733.5 L234.4,731.9 L239.7,734.5 L242.3,737.6 L241.8,746.0 L237.6,752.2 L236.0,758.5 L235.5,766.9 L234.4,775.0 M200.0,741.8 L206.3,737.6 L213.6,732.4 L220.9,728.2 L228.2,725.1 L234.4,723.0 L241.8,723.0 L247.0,725.1 L251.1,730.3 L253.2,736.6 L252.2,742.8 L249.1,748.1 L245.9,754.3 L242.8,761.6 L241.8,768.9 L241.2,775.0 M200.0,737.6 L206.3,733.5 L213.6,728.2 L220.9,724.1 L228.2,720.9 L236.5,717.8 L244.9,716.8 L251.1,717.8 L255.3,720.9 L257.9,726.1 L258.5,733.5 L256.4,741.8 L253.2,748.1 L250.1,755.4 L248.0,763.7 L247.0,775.0 M200.0,732.4 L206.3,728.2 L213.6,723.0 L220.9,718.8 L229.2,715.7 L238.6,712.6 L248.0,710.5 L255.3,708.4 L260.5,707.4 L263.7,710.5 L264.7,716.8 L263.7,725.1 L261.6,732.4 L259.5,739.7 L257.4,746.0 L254.3,752.2 L252.2,760.6 L251.1,768.9 L251.1,775.0 M200.0,727.2 L206.3,724.1 L212.5,720.9 L220.9,716.8 L229.2,712.6 L237.6,709.4 L245.9,707.4 L252.2,703.2 L257.4,700.1 L264.7,698.0 L271.0,698.0 L274.1,701.1 L275.2,706.3 L274.1,714.7 L272.0,722.0 L268.9,731.4 L266.8,738.7 L263.7,747.0 L260.5,754.3 L258.5,762.7 L257.4,775.0 M200.0,720.9 L206.3,717.8 L212.5,714.7 L220.9,711.5 L229.2,708.4 L237.6,705.3 L245.9,701.1 L252.2,696.9 L258.5,693.8 L266.8,690.7 L275.2,689.6 L281.4,691.7 L283.5,698.0 L282.5,706.3 L280.4,714.7 L277.2,724.1 L275.2,731.4 L273.1,737.6 L269.9,744.9 L266.8,752.2 L264.7,760.6 L263.7,775.0 M200.0,716.8 L206.3,712.6 L212.5,710.5 L220.9,708.4 L229.2,704.2 L236.5,700.1 L243.8,695.9 L250.1,690.7 L258.5,686.5 L266.8,684.4 L273.1,682.8 L279.3,683.4 L285.6,687.5 L290.8,692.7 L293.9,699.0 L293.4,706.3 L290.8,713.6 L287.7,720.9 L284.6,729.3 L282.5,737.6 L279.3,746.0 L276.2,754.3 L274.1,763.7 L273.1,775.0 M200.0,706.3 L206.3,702.1 L212.5,700.1 L220.9,698.0 L229.2,694.8 L235.5,691.7 L241.8,686.5 L248.0,683.4 L255.3,680.2 L262.6,678.1 L271.0,676.0 L283.5,676.0 L288.7,678.1 L295.0,683.4 L300.0,685.4 M300.0,717.8 L293.9,724.1 L288.7,730.3 L283.5,736.6 M200.0,679.2 L202.1,675.0" fill="none" stroke="#000" stroke-width="1.1" stroke-linejoin="round"/><path mask="url(#m32)" d="M193.9,690.0 L191.8,695.2 L185.5,697.3 L177.2,699.4 L170.9,703.6 L167.8,708.8 L166.8,715.1 L163.6,719.2 L159.4,725.5 L154.2,727.6 L148.0,728.1 L140.7,726.5 L133.4,724.4 L127.6,723.4 M205.0,704.6 L198.1,707.7 L189.7,711.9 L183.5,715.1 L177.2,720.3 L173.0,725.5 L168.8,731.8 L162.6,735.9 L156.3,740.1 L150.1,742.2 L142.7,742.2 L135.4,738.0 L129.2,734.9 L127.6,734.9 M205.0,713.0 L198.1,716.1 L191.8,720.3 L185.5,725.5 L179.3,730.7 L175.1,735.9 L168.8,742.2 L162.6,746.4 L155.3,750.5 L149.0,752.1 L142.7,751.6 L136.5,748.5 L130.2,745.3 L127.6,744.3 M205.0,720.3 L199.1,721.3 L193.9,725.5 L187.6,730.7 L181.4,735.9 L175.1,741.1 L168.8,746.4 L162.6,750.5 L156.3,755.8 L149.0,758.9 L142.7,758.9 L136.5,755.8 L130.2,751.6 L127.6,750.5 M205.0,724.4 L200.2,726.0 L196.0,728.6 L189.7,733.8 L183.5,739.1 L177.2,744.3 L170.9,749.5 L164.7,754.7 L158.4,761.0 L152.1,766.2 L146.9,766.7 L140.7,764.1 L134.4,759.9 L129.2,755.8 L127.6,754.7 M205.0,729.7 L200.2,732.8 L193.9,738.0 L187.6,743.2 L181.4,748.5 L175.1,753.7 L168.8,758.9 L162.6,765.2 L156.3,771.4 L151.1,775.6 L146.9,777.2 L142.7,774.6 L137.5,769.3 L132.3,764.1 L127.6,758.9 M205.0,734.9 L201.2,738.0 L196.0,743.2 L189.7,749.5 L183.5,754.7 L177.2,761.0 L170.9,768.3 L164.7,774.6 L160.5,779.8 L157.4,785.0 L156.8,790.0 M205.0,741.1 L200.2,745.3 L193.9,750.5 L187.6,754.7 L182.4,759.9 L177.2,766.2 L173.0,773.5 L168.8,780.8 L166.8,790.0 M205.0,746.4 L200.2,750.5 L193.9,754.7 L188.7,758.9 L185.5,766.2 L182.4,773.5 L180.3,781.9 L179.8,790.0 M129.2,771.4 L129.2,790.0 M135.4,772.5 L135.4,790.0 M127.6,765.2 L135.4,772.5" fill="none" stroke="#000" stroke-width="1.1" stroke-linejoin="round"/><path mask="url(#m33)" d="M235.7,765.0 L234.7,773.4 L229.4,782.7 L222.1,790.1 L213.8,796.3 L205.4,800.5 L195.0,802.6 M243.0,765.0 L240.9,775.4 L235.7,783.8 L228.4,793.2 L220.1,801.5 L210.7,808.8 L201.3,813.0 L195.0,815.1 M248.2,765.0 L246.1,777.5 L239.9,785.9 L231.5,796.3 L222.1,806.8 L212.7,815.1 L205.4,823.5 L199.2,826.6 L195.0,827.1 M252.4,765.0 L250.3,776.5 L245.1,785.9 L238.8,794.2 L232.6,802.6 L225.3,810.9 L218.0,819.3 L211.7,827.6 L206.5,836.0 L200.2,842.2 L195.0,843.3 M256.6,765.0 L254.5,776.5 L248.2,788.0 L242.0,796.3 L236.8,804.7 L230.5,813.0 L223.2,821.4 L216.9,829.7 L213.8,838.1 L214.8,846.4 L221.1,853.7 L226.3,858.9 L229.4,861.0 M260.8,765.0 L258.7,776.5 L252.4,789.0 L246.1,798.4 L240.9,806.8 L234.7,815.1 L228.4,823.5 L224.2,831.8 L223.2,840.2 L225.3,848.5 L230.5,854.8 L233.6,861.0 M266.0,765.0 L263.9,776.5 L257.6,789.0 L251.4,799.4 L245.1,808.8 L238.8,818.2 L234.7,825.5 L233.6,833.9 L233.6,844.3 L235.7,851.6 L238.8,856.9 L240.9,861.0 M274.3,765.0 L272.2,775.4 L268.1,783.8 L263.9,790.1 L259.7,797.4 L255.5,806.8 L251.4,815.1 L248.2,823.5 L246.1,831.8 L246.1,842.2 L247.2,852.7 L248.2,861.0 M295.0,790.1 L288.9,795.3 L281.6,799.4 L276.4,803.6 L273.3,809.9 L268.1,817.2 L263.9,825.5 L260.8,831.8 L259.7,838.1 L261.8,848.5 L263.9,861.0 M200.2,842.2 L205.4,848.5 L213.8,854.8 L222.1,858.9 L224.2,861.0 M195.0,853.7 L201.3,854.8 L208.6,857.9 L213.8,861.0" fill="none" stroke="#000" stroke-width="1.1" stroke-linejoin="round"/><path mask="url(#m34)" d="M236.0,732.9 L239.8,734.2 L242.3,736.0 L242.9,738.5 L241.6,741.0 L241.0,746.1 L238.5,749.2 L236.6,752.3 L236.0,753.6 M236.0,722.3 L242.9,722.9 L247.3,724.8 L249.1,728.5 L252.3,732.3 L252.9,734.8 L252.9,739.8 L251.0,742.3 L249.1,745.4 L246.6,751.1 L244.8,754.8 L243.5,759.8 L242.3,766.1 L241.0,772.4 L240.7,776.0 M236.0,717.3 L248.5,716.9 L253.5,718.5 L257.3,722.9 L258.5,724.8 L258.5,739.8 L256.0,742.9 L254.2,747.3 L251.7,752.3 L249.8,756.7 L248.5,761.1 L247.9,767.3 L246.6,772.4 L246.3,776.0 M265.4,716.0 L264.8,723.5 L263.6,724.8 L263.6,734.8 L261.0,739.8 L259.2,744.2 L256.7,748.6 L254.8,752.3 L252.9,756.7 L251.7,761.7 L251.0,767.3 L250.7,776.0 M272.3,716.0 L270.4,723.5 L269.2,729.8 L266.7,734.8 L265.4,741.0 L262.3,746.1 L259.8,750.4 L256.7,754.2 L255.4,759.8 L254.8,766.1 L254.8,772.4 L254.8,776.0 M279.8,716.0 L276.7,724.1 L274.8,728.5 L271.1,732.3 L268.6,736.7 L266.7,742.3 L264.8,746.1 L261.7,749.8 L259.8,753.6 L258.5,758.6 L257.9,763.6 L257.9,769.9 L258.2,776.0 M288.0,716.0 L284.8,722.3 L281.1,729.8 L276.1,734.8 L274.8,741.0 L272.9,747.3 L271.7,753.6 L267.9,758.6 L265.4,762.3 L264.2,767.3 L263.6,776.0 M296.0,722.3 L292.4,726.6 L287.3,733.5 L282.3,738.5 L281.1,742.3 L278.6,751.1 L276.7,758.6 L274.8,766.1 L273.6,771.1 L272.9,776.0 M296.0,754.8 L294.2,756.7 L293.6,759.8 L293.6,769.2 L294.9,771.1 L296.0,772.4" fill="none" stroke="#000" stroke-width="1.1" stroke-linejoin="round"/><path mask="url(#m35)" d="M295.0,790.0 L298.0,784.3 L296.7,776.8 L293.6,770.9 L293.4,757.6 L297.6,753.4 L300.0,752.2" fill="none" stroke="#000" stroke-width="1.1" stroke-linejoin="round"/><path mask="url(#m36)" d="M279.3,525.8 L283.0,525.8 M189.0,859.6 L197.5,859.6 M361.0,747.8 L367.2,753.3 L361.2,757.7 L359.7,755.1 L359.7,750.2Z" fill="none" stroke="#000" stroke-width="1.1" stroke-linejoin="round"/><path d="M411.0,598.0 L410.8,598.7 L410.6,599.3 L410.5,600.0 L410.3,600.6 L410.1,601.2 L410.0,601.9 L409.9,602.6 L409.8,603.3 L409.8,604.0 L409.7,604.8 L409.6,605.5 L409.5,606.4 L409.5,607.3 L409.5,608.4 L409.5,609.5 L409.5,610.8 L409.5,612.2 L409.5,613.8 L409.4,615.6 L409.0,617.0 L408.4,618.5 L407.9,620.2 L407.2,622.0 L406.1,623.1 L405.0,624.2 L403.8,625.4 L402.5,626.5 L401.1,627.5 L399.6,628.5 L398.0,629.6 L396.3,630.6 L394.5,631.2 L392.6,631.8 L390.7,632.4 L388.7,632.6 L386.8,632.6 L384.7,632.6 L382.8,632.1 L381.0,631.3 L379.3,630.4 L377.5,629.5 L376.3,627.9 L375.2,626.2 L374.1,624.6 L373.0,623.0 L373.0,620.5 L373.0,618.2 L373.0,616.2 L373.0,614.2 L373.0,612.4 L374.2,610.1 L375.4,608.1 L376.4,606.3 L377.3,604.7 L378.0,603.4 L378.6,602.1 L379.2,601.0 L379.7,599.9 L380.2,598.9 L380.5,598.0 L380.3,597.1 L380.2,596.1 L380.0,595.2 L379.9,594.2 L379.7,593.1 L379.6,592.0 L379.4,590.9 L379.2,589.6 L378.9,588.3 L378.6,586.8 L378.3,585.2 L378.0,583.5 L377.6,581.5 L377.2,579.3 L377.1,577.1 L377.0,574.7 L377.6,572.8 L378.2,570.7 L379.2,569.0 L380.4,567.6 L381.8,566.1 L383.1,564.6 L384.6,563.0 L386.3,562.1 L388.2,561.3 L390.0,560.5 L391.9,559.7 L393.9,558.9 L395.9,558.1 L398.0,557.7 L400.1,557.3 L402.3,556.9 L404.6,556.5 L406.9,556.0 L409.3,555.8 L411.7,555.9 L414.1,556.0 L416.7,556.0 L419.3,556.2 L421.2,557.8 L423.1,559.3 L425.0,560.8 L426.2,563.2 L426.9,565.9 L427.6,568.4 L427.8,571.1 L427.1,574.4 L426.5,577.3 L425.5,580.1 L423.2,583.5 L421.3,586.1 L419.1,588.6 L417.0,590.7 L415.3,592.4 L414.0,593.7 L412.9,594.8 L411.9,595.8 L411.5,596.6 L411.2,597.3Z M414.0,598.0 L413.6,598.8 L413.3,599.6 L413.1,600.4 L412.8,601.1 L412.6,601.9 L412.4,602.7 L412.3,603.5 L412.1,604.3 L412.0,605.1 L411.9,606.0 L411.7,606.9 L411.6,607.9 L411.5,608.9 L411.4,610.1 L411.3,611.3 L411.2,612.7 L411.1,614.2 L411.0,615.9 L410.8,617.7 L410.3,619.2 L409.7,620.9 L409.0,622.7 L408.2,624.7 L407.1,626.1 L405.9,627.3 L404.5,628.7 L403.1,630.0 L401.5,631.0 L399.8,632.1 L398.0,633.3 L396.1,634.4 L394.1,635.0 L392.0,635.6 L389.9,636.2 L387.7,636.5 L385.5,636.4 L383.3,636.4 L381.1,635.9 L379.1,635.1 L377.0,634.3 L375.1,633.3 L373.5,631.7 L372.1,630.0 L370.8,628.2 L369.6,626.4 L369.3,623.8 L369.2,621.3 L369.1,619.0 L369.0,616.8 L369.0,614.8 L369.9,612.3 L370.8,610.1 L371.7,608.1 L372.4,606.3 L373.0,604.7 L373.5,603.2 L374.0,601.8 L374.4,600.5 L374.7,599.2 L374.9,598.0 L374.8,596.8 L374.6,595.5 L374.4,594.3 L374.3,593.0 L374.2,591.6 L374.1,590.2 L374.1,588.8 L374.1,587.3 L374.0,585.8 L374.0,584.1 L373.9,582.3 L373.8,580.4 L373.7,578.3 L373.8,576.2 L374.0,574.0 L374.3,571.7 L375.1,569.7 L376.0,567.7 L377.3,566.1 L378.8,564.8 L380.4,563.4 L382.0,562.0 L383.6,560.5 L385.5,559.6 L387.5,558.9 L389.5,558.1 L391.6,557.3 L393.7,556.6 L395.8,556.0 L398.0,555.6 L400.2,555.2 L402.5,554.8 L404.9,554.4 L407.3,554.0 L409.8,553.8 L412.3,553.9 L414.9,553.9 L417.6,554.0 L420.3,554.2 L422.5,555.6 L424.7,556.9 L426.9,558.2 L428.3,560.6 L429.3,563.2 L430.3,565.7 L430.6,568.6 L430.1,572.0 L429.7,574.9 L429.0,577.9 L426.9,581.3 L425.2,584.2 L423.2,586.8 L421.2,589.1 L419.4,591.0 L418.0,592.7 L416.7,594.0 L415.6,595.2 L414.9,596.2 L414.4,597.1Z M417.0,598.0 L416.4,599.0 L416.0,599.9 L415.7,600.8 L415.4,601.7 L415.1,602.6 L414.8,603.5 L414.6,604.4 L414.4,605.3 L414.2,606.3 L414.0,607.3 L413.8,608.3 L413.6,609.4 L413.4,610.5 L413.3,611.8 L413.1,613.1 L412.9,614.5 L412.7,616.1 L412.4,617.9 L412.2,619.8 L411.6,621.5 L410.9,623.3 L410.1,625.2 L409.3,627.3 L408.1,629.0 L406.7,630.4 L405.2,631.9 L403.6,633.4 L401.8,634.6 L400.0,635.8 L398.0,637.0 L395.9,638.2 L393.7,638.8 L391.4,639.4 L389.1,640.0 L386.7,640.3 L384.3,640.3 L381.8,640.2 L379.4,639.7 L377.1,639.0 L374.8,638.2 L372.6,637.1 L370.8,635.4 L369.1,633.7 L367.6,631.7 L366.2,629.8 L365.6,627.1 L365.4,624.4 L365.2,621.8 L365.0,619.4 L364.9,617.1 L365.6,614.5 L366.3,612.1 L366.9,609.9 L367.5,607.9 L368.0,606.0 L368.4,604.3 L368.8,602.6 L369.1,601.0 L369.3,599.5 L369.4,598.0 L369.2,596.5 L369.0,595.0 L368.8,593.4 L368.6,591.8 L368.6,590.1 L368.7,588.5 L368.8,586.8 L369.0,585.1 L369.1,583.3 L369.3,581.4 L369.4,579.5 L369.6,577.4 L369.9,575.2 L370.3,573.1 L370.9,570.9 L371.6,568.7 L372.7,566.7 L373.8,564.7 L375.4,563.1 L377.2,561.9 L379.0,560.6 L380.8,559.4 L382.7,558.0 L384.7,557.2 L386.9,556.4 L389.0,555.6 L391.2,555.0 L393.4,554.3 L395.7,553.8 L398.0,553.4 L400.4,553.1 L402.8,552.8 L405.2,552.4 L407.8,552.0 L410.4,551.8 L413.0,551.8 L415.7,551.8 L418.5,552.0 L421.3,552.2 L423.8,553.3 L426.3,554.5 L428.8,555.6 L430.3,558.1 L431.7,560.6 L432.9,563.1 L433.4,566.1 L433.1,569.5 L432.9,572.6 L432.4,575.6 L430.7,579.1 L429.1,582.2 L427.3,585.0 L425.4,587.5 L423.5,589.7 L421.9,591.6 L420.6,593.2 L419.2,594.6 L418.3,595.9 L417.6,597.0Z M419.9,598.0 L419.1,599.1 L418.6,600.2 L418.3,601.2 L417.9,602.2 L417.6,603.2 L417.2,604.3 L417.0,605.3 L416.7,606.3 L416.5,607.4 L416.2,608.5 L415.9,609.7 L415.7,610.8 L415.4,612.1 L415.2,613.5 L414.9,614.9 L414.6,616.4 L414.3,618.1 L413.9,619.9 L413.5,621.9 L412.9,623.7 L412.1,625.7 L411.2,627.7 L410.3,630.0 L409.1,632.0 L407.5,633.6 L405.9,635.2 L404.2,636.9 L402.2,638.2 L400.2,639.4 L398.0,640.7 L395.7,642.0 L393.3,642.6 L390.8,643.2 L388.3,643.8 L385.6,644.2 L383.0,644.1 L380.4,643.9 L377.7,643.5 L375.2,642.8 L372.5,642.1 L370.2,640.9 L368.0,639.2 L366.0,637.5 L364.4,635.3 L362.9,633.1 L361.9,630.5 L361.6,627.5 L361.3,624.7 L361.0,622.0 L360.9,619.4 L361.3,616.7 L361.8,614.1 L362.2,611.7 L362.6,609.5 L363.0,607.4 L363.3,605.4 L363.6,603.5 L363.8,601.6 L363.9,599.8 L363.9,598.0 L363.7,596.2 L363.5,594.4 L363.2,592.5 L363.0,590.6 L363.0,588.6 L363.2,586.7 L363.4,584.7 L363.9,582.8 L364.2,580.8 L364.6,578.7 L365.0,576.6 L365.4,574.3 L366.0,572.1 L366.9,570.0 L367.9,567.9 L368.9,565.7 L370.2,563.7 L371.6,561.7 L373.4,560.2 L375.5,559.1 L377.6,557.9 L379.6,556.7 L381.7,555.5 L383.9,554.7 L386.2,553.9 L388.5,553.2 L390.8,552.6 L393.2,552.1 L395.6,551.6 L398.0,551.3 L400.5,551.0 L403.0,550.7 L405.5,550.4 L408.2,550.0 L410.9,549.8 L413.7,549.8 L416.5,549.8 L419.4,550.0 L422.4,550.2 L425.1,551.1 L427.9,552.0 L430.7,553.1 L432.4,555.5 L434.0,558.0 L435.6,560.4 L436.2,563.6 L436.1,567.1 L436.1,570.3 L435.9,573.4 L434.5,576.9 L433.0,580.2 L431.4,583.1 L429.6,585.9 L427.6,588.4 L425.9,590.5 L424.5,592.4 L422.9,594.1 L421.7,595.5 L420.8,596.8Z M422.9,598.0 L421.9,599.3 L421.3,600.4 L420.9,601.6 L420.5,602.8 L420.0,603.9 L419.7,605.0 L419.3,606.2 L419.0,607.4 L418.7,608.5 L418.4,609.8 L418.1,611.0 L417.7,612.3 L417.4,613.7 L417.0,615.1 L416.7,616.7 L416.3,618.3 L415.8,620.0 L415.4,621.9 L414.9,624.0 L414.2,626.0 L413.3,628.0 L412.4,630.3 L411.3,632.7 L410.0,635.0 L408.4,636.7 L406.6,638.5 L404.7,640.3 L402.6,641.8 L400.4,643.1 L398.0,644.4 L395.5,645.8 L392.9,646.4 L390.2,647.0 L387.5,647.6 L384.6,648.1 L381.8,648.0 L378.9,647.7 L376.1,647.3 L373.2,646.7 L370.3,646.0 L367.7,644.7 L365.3,643.0 L363.0,641.3 L361.2,638.9 L359.5,636.5 L358.3,633.8 L357.8,630.5 L357.4,627.5 L357.0,624.6 L356.8,621.8 L357.0,618.9 L357.3,616.1 L357.5,613.6 L357.8,611.1 L358.0,608.7 L358.2,606.5 L358.4,604.3 L358.4,602.2 L358.4,600.1 L358.4,598.0 L358.1,595.9 L357.9,593.8 L357.6,591.6 L357.3,589.4 L357.4,587.1 L357.7,584.9 L358.1,582.7 L358.7,580.5 L359.3,578.3 L360.0,576.0 L360.6,573.7 L361.2,571.3 L362.1,568.9 L363.4,566.9 L364.8,564.8 L366.2,562.7 L367.8,560.7 L369.4,558.7 L371.5,557.3 L373.9,556.2 L376.2,555.2 L378.5,554.1 L380.8,553.1 L383.1,552.3 L385.5,551.5 L387.9,550.7 L390.4,550.2 L392.9,549.8 L395.5,549.4 L398.0,549.1 L400.6,548.9 L403.2,548.6 L405.9,548.3 L408.6,548.0 L411.4,547.8 L414.3,547.7 L417.3,547.7 L420.3,547.9 L423.4,548.2 L426.4,548.9 L429.4,549.6 L432.5,550.5 L434.5,552.9 L436.4,555.4 L438.2,557.8 L439.0,561.1 L439.1,564.7 L439.3,568.0 L439.4,571.1 L438.3,574.8 L436.9,578.2 L435.5,581.3 L433.9,584.2 L431.7,587.0 L429.9,589.4 L428.3,591.6 L426.6,593.5 L425.2,595.1 L424.0,596.6Z M425.8,598.0 L424.7,599.4 L424.0,600.7 L423.5,602.0 L423.0,603.3 L422.5,604.6 L422.1,605.8 L421.7,607.1 L421.3,608.4 L420.9,609.7 L420.5,611.0 L420.2,612.4 L419.8,613.8 L419.4,615.3 L418.9,616.8 L418.5,618.5 L418.0,620.2 L417.4,622.0 L416.9,624.0 L416.2,626.1 L415.5,628.3 L414.5,630.4 L413.5,632.8 L412.3,635.3 L411.0,638.0 L409.2,639.8 L407.3,641.7 L405.2,643.8 L403.0,645.3 L400.6,646.7 L398.0,648.1 L395.3,649.6 L392.5,650.2 L389.6,650.8 L386.6,651.4 L383.5,652.0 L380.5,651.8 L377.5,651.5 L374.4,651.1 L371.2,650.6 L368.0,650.0 L365.2,648.4 L362.6,646.8 L359.9,645.0 L358.0,642.4 L356.1,639.9 L354.6,637.1 L354.0,633.6 L353.5,630.3 L353.0,627.2 L352.8,624.1 L352.8,621.0 L352.8,618.1 L352.7,615.4 L352.9,612.7 L353.0,610.1 L353.1,607.5 L353.2,605.1 L353.1,602.7 L353.0,600.4 L352.8,598.0 L352.6,595.6 L352.3,593.2 L352.0,590.7 L351.7,588.2 L351.8,585.6 L352.2,583.1 L352.8,580.6 L353.6,578.2 L354.5,575.8 L355.3,573.3 L356.1,570.8 L357.0,568.2 L358.3,565.8 L360.0,563.8 L361.7,561.7 L363.5,559.7 L365.4,557.7 L367.3,555.7 L369.6,554.3 L372.2,553.4 L374.8,552.4 L377.3,551.5 L379.8,550.6 L382.3,549.8 L384.9,549.0 L387.4,548.2 L390.0,547.8 L392.7,547.5 L395.3,547.2 L398.0,547.0 L400.7,546.7 L403.4,546.5 L406.2,546.3 L409.0,546.0 L412.0,545.8 L415.0,545.7 L418.1,545.7 L421.2,545.9 L424.4,546.2 L427.6,546.7 L431.0,547.2 L434.4,547.9 L436.6,550.3 L438.8,552.7 L440.9,555.1 L441.7,558.6 L442.1,562.3 L442.5,565.7 L442.8,568.9 L442.0,572.6 L440.8,576.2 L439.6,579.5 L438.1,582.6 L435.8,585.7 L433.9,588.4 L432.2,590.7 L430.3,592.9 L428.6,594.8 L427.1,596.5Z M428.8,598.0 L427.4,599.5 L426.6,601.0 L426.1,602.4 L425.6,603.9 L425.0,605.2 L424.5,606.6 L424.0,608.0 L423.6,609.4 L423.2,610.8 L422.7,612.3 L422.3,613.8 L421.8,615.3 L421.3,616.9 L420.8,618.5 L420.2,620.2 L419.7,622.0 L419.0,624.0 L418.3,626.0 L417.6,628.2 L416.8,630.5 L415.7,632.8 L414.6,635.3 L413.4,638.0 L412.0,641.0 L410.0,643.0 L408.0,645.0 L405.8,647.2 L403.4,648.9 L400.7,650.3 L398.0,651.9 L395.1,653.4 L392.1,654.0 L389.0,654.6 L385.8,655.2 L382.5,655.8 L379.3,655.7 L376.0,655.3 L372.7,654.9 L369.3,654.4 L365.7,653.9 L362.8,652.2 L359.8,650.6 L356.9,648.8 L354.8,646.0 L352.7,643.3 L350.9,640.4 L350.2,636.7 L349.6,633.2 L349.0,629.8 L348.7,626.4 L348.5,623.2 L348.2,620.2 L348.0,617.2 L348.0,614.2 L348.0,611.4 L348.0,608.6 L348.0,605.9 L347.8,603.3 L347.6,600.6 L347.3,598.0 L347.0,595.3 L346.7,592.6 L346.4,589.8 L346.1,587.0 L346.2,584.1 L346.8,581.4 L347.5,578.6 L348.5,576.0 L349.6,573.3 L350.6,570.6 L351.7,567.9 L352.8,565.2 L354.4,562.7 L356.5,560.7 L358.7,558.7 L360.8,556.7 L362.9,554.7 L365.1,552.7 L367.7,551.4 L370.6,550.5 L373.4,549.7 L376.1,548.9 L378.9,548.1 L381.5,547.3 L384.2,546.5 L386.9,545.8 L389.7,545.4 L392.4,545.2 L395.2,545.0 L398.0,544.8 L400.8,544.6 L403.6,544.4 L406.5,544.2 L409.5,544.0 L412.5,543.8 L415.7,543.6 L418.9,543.6 L422.1,543.9 L425.4,544.1 L428.9,544.4 L432.6,544.7 L436.3,545.3 L438.7,547.7 L441.1,550.1 L443.5,552.5 L444.5,556.1 L445.1,559.8 L445.7,563.3 L446.3,566.6 L445.8,570.4 L444.7,574.2 L443.7,577.7 L442.3,581.0 L439.9,584.4 L437.9,587.3 L436.1,589.9 L433.9,592.3 L432.0,594.4 L430.3,596.3Z M431.8,598.0 L430.2,599.7 L429.3,601.3 L428.7,602.9 L428.1,604.4 L427.5,605.9 L426.9,607.4 L426.4,608.9 L425.9,610.4 L425.4,612.0 L424.9,613.5 L424.4,615.1 L423.9,616.8 L423.3,618.5 L422.7,620.2 L422.0,622.0 L421.3,623.9 L420.6,625.9 L419.8,628.0 L419.0,630.3 L418.1,632.8 L416.9,635.2 L415.7,637.8 L414.4,640.7 L413.0,644.0 L410.9,646.1 L408.7,648.3 L406.3,650.7 L403.7,652.5 L400.9,654.0 L398.0,655.6 L394.9,657.3 L391.7,657.8 L388.4,658.4 L385.0,659.0 L381.5,659.7 L378.0,659.5 L374.6,659.1 L371.0,658.6 L367.3,658.3 L363.5,657.8 L360.3,656.0 L357.1,654.3 L353.8,652.6 L351.5,649.6 L349.3,646.7 L347.2,643.7 L346.4,639.8 L345.7,636.0 L345.0,632.4 L344.7,628.8 L344.2,625.4 L343.7,622.2 L343.3,619.0 L343.1,615.8 L343.0,612.7 L342.9,609.7 L342.8,606.7 L342.5,603.8 L342.1,600.9 L341.8,598.0 L341.5,595.0 L341.1,592.0 L340.8,588.9 L340.4,585.8 L340.6,582.6 L341.3,579.6 L342.1,576.6 L343.4,573.7 L344.7,570.8 L345.9,567.9 L347.3,565.0 L348.6,562.1 L350.5,559.5 L353.1,557.6 L355.6,555.6 L358.1,553.7 L360.5,551.7 L362.9,549.7 L365.8,548.4 L369.0,547.7 L372.0,547.0 L375.0,546.3 L377.9,545.6 L380.7,544.9 L383.6,544.1 L386.4,543.3 L389.3,543.0 L392.2,542.9 L395.1,542.8 L398.0,542.7 L400.9,542.5 L403.8,542.4 L406.8,542.2 L409.9,542.0 L413.0,541.8 L416.3,541.6 L419.7,541.6 L423.0,541.8 L426.5,542.1 L430.2,542.2 L434.2,542.3 L438.2,542.7 L440.8,545.1 L443.5,547.5 L446.1,549.9 L447.3,553.6 L448.1,557.4 L448.9,561.0 L449.7,564.4 L449.6,568.2 L448.6,572.2 L447.8,575.8 L446.5,579.4 L444.0,583.0 L441.9,586.2 L439.9,589.1 L437.6,591.7 L435.4,594.1 L433.5,596.1Z M434.7,598.0 L432.9,599.8 L431.9,601.6 L431.3,603.3 L430.7,604.9 L430.0,606.6 L429.4,608.2 L428.7,609.8 L428.2,611.4 L427.6,613.1 L427.1,614.8 L426.5,616.5 L425.9,618.3 L425.3,620.1 L424.6,621.9 L423.8,623.8 L423.0,625.8 L422.2,627.9 L421.3,630.0 L420.3,632.4 L419.4,635.0 L418.2,637.6 L416.8,640.3 L415.4,643.4 L413.9,647.0 L411.7,649.2 L409.4,651.6 L406.9,654.1 L404.1,656.1 L401.1,657.6 L398.0,659.3 L394.7,661.1 L391.3,661.7 L387.8,662.2 L384.2,662.8 L380.4,663.6 L376.8,663.4 L373.1,662.8 L369.3,662.4 L365.3,662.1 L361.2,661.7 L357.9,659.8 L354.3,658.1 L350.8,656.3 L348.3,653.2 L346.0,650.0 L343.5,647.0 L342.6,642.8 L341.8,638.9 L341.0,635.0 L340.6,631.1 L339.9,627.6 L339.2,624.2 L338.6,620.8 L338.2,617.4 L338.0,614.1 L337.8,610.8 L337.6,607.6 L337.2,604.4 L336.7,601.2 L336.2,598.0 L335.9,594.7 L335.6,591.4 L335.2,588.1 L334.8,584.6 L335.0,581.1 L335.8,577.8 L336.8,574.5 L338.3,571.4 L339.8,568.3 L341.3,565.3 L342.8,562.2 L344.4,559.1 L346.6,556.4 L349.6,554.4 L352.5,552.5 L355.4,550.7 L358.0,548.7 L360.7,546.7 L363.9,545.5 L367.3,544.8 L370.6,544.2 L373.8,543.7 L377.0,543.2 L379.9,542.4 L382.9,541.6 L385.8,540.8 L388.9,540.6 L392.0,540.6 L395.0,540.6 L398.0,540.5 L401.0,540.4 L404.1,540.3 L407.2,540.2 L410.3,540.0 L413.6,539.8 L417.0,539.5 L420.5,539.5 L423.9,539.8 L427.5,540.1 L431.5,540.0 L435.8,539.9 L440.1,540.1 L442.9,542.5 L445.8,544.9 L448.8,547.2 L450.1,551.1 L451.1,555.0 L452.1,558.7 L453.2,562.2 L453.3,566.0 L452.5,570.2 L451.9,574.0 L450.7,577.8 L448.1,581.7 L445.8,585.2 L443.8,588.3 L441.3,591.1 L438.9,593.7 L436.7,596.0Z M383.1,573.0 L389.4,566.8 L400.3,560.5 L411.2,558.9 L419.1,562.1 L423.8,568.3 L423.8,574.6 L419.1,582.4 L411.2,588.6 L397.2,594.9 L390.9,590.2 L384.7,583.9 L383.1,577.7Z M383.7,615.4 L385.9,609.0 L391.2,603.6 L395.5,599.9 L398.7,603.6 L399.8,609.0 L397.7,616.5 L394.4,619.7 L389.1,621.4 L384.2,619.7Z" fill="none" stroke="#000" stroke-width="1.1" stroke-linejoin="round"/></g>
<path d="M605.6,385.2 L605.6,237.9 L605.6,237.9 L606.5,237.9 L606.5,246.8 L607.5,246.8 L607.5,253.0 L607.7,253.0 L608.0,260.0 L608.3,253.0 L608.5,253.0 L608.5,254.0 L608.7,254.0 L609.0,273.0 L609.3,254.0 L609.5,254.0 L609.5,235.3 L610.5,235.3 L610.5,247.8 L611.5,247.8 L611.5,251.0 L611.7,251.0 L612.0,262.5 L612.3,251.0 L612.5,251.0 L612.5,243.7 L613.5,243.7 L613.5,234.3 L614.5,234.3 L614.5,253.0 L615.5,253.0 L615.5,254.0 L615.7,254.0 L616.0,275.0 L616.3,254.0 L616.5,254.0 L616.5,253.0 L617.5,253.0 L617.5,252.0 L618.5,252.0 L618.5,246.8 L619.5,246.8 L619.5,247.8 L619.7,247.8 L620.0,271.9 L620.3,247.8 L620.5,247.8 L620.5,246.8 L621.5,246.8 L621.5,221.8 L622.5,221.8 L622.5,224.9 L623.5,224.9 L623.5,225.9 L624.5,225.9 L624.5,230.1 L625.5,230.1 L625.5,232.2 L626.5,232.2 L626.5,236.4 L627.5,236.4 L627.5,238.5 L628.5,238.5 L628.5,224.9 L628.7,224.9 L629.0,247.8 L629.3,224.9 L629.5,224.9 L629.5,223.8 L630.5,223.8 L630.5,200.4 L631.5,200.4 L631.5,222.8 L631.7,222.8 L632.0,245.8 L632.3,222.8 L632.5,222.8 L632.5,228.0 L633.5,228.0 L633.5,229.1 L634.5,229.1 L634.5,227.0 L635.5,227.0 L635.5,216.5 L636.5,216.5 L636.5,211.3 L637.5,211.3 L637.5,215.5 L638.5,215.5 L638.5,217.6 L639.5,217.6 L639.5,221.8 L639.7,221.8 L640.0,234.3 L640.3,221.8 L640.5,221.8 L640.5,217.6 L641.5,217.6 L641.5,201.0 L642.5,201.0 L642.5,207.2 L643.5,207.2 L643.5,207.2 L644.5,207.2 L644.5,197.8 L644.7,197.8 L645.0,220.8 L645.3,197.8 L645.5,197.8 L645.5,207.2 L646.5,207.2 L646.5,194.7 L647.5,194.7 L647.5,192.6 L647.7,192.6 L648.0,210.4 L648.3,192.6 L648.5,192.6 L648.5,188.5 L649.5,188.5 L649.5,165.5 L650.5,165.5 L650.5,169.7 L651.5,169.7 L651.5,187.4 L652.5,187.4 L652.5,188.5 L652.7,188.5 L653.0,205.2 L653.3,188.5 L653.5,188.5 L653.5,182.2 L654.5,182.2 L654.5,175.9 L655.5,175.9 L655.5,158.2 L656.5,158.2 L656.5,157.1 L657.5,157.1 L657.5,140.4 L658.5,140.4 L658.5,145.7 L659.5,145.7 L659.5,162.4 L659.7,162.4 L660.0,188.5 L660.3,162.4 L660.5,162.4 L660.5,163.4 L660.7,163.4 L661.0,203.0 L661.3,163.4 L661.5,163.4 L661.5,180.1 L662.5,180.1 L662.5,156.1 L663.5,156.1 L663.5,177.0 L663.7,177.0 L664.0,207.2 L664.3,177.0 L664.5,177.0 L664.5,175.9 L665.5,175.9 L665.5,145.7 L666.5,145.7 L666.5,154.0 L667.5,154.0 L667.5,163.4 L667.7,163.4 L668.0,181.1 L668.3,163.4 L668.5,163.4 L668.5,164.4 L669.5,164.4 L669.5,145.7 L670.5,145.7 L670.5,167.6 L670.7,167.6 L671.0,188.5 L671.3,167.6 L671.5,167.6 L671.5,171.8 L672.5,171.8 L672.5,164.4 L673.5,164.4 L673.5,169.7 L674.5,169.7 L674.5,168.6 L675.5,168.6 L675.5,169.7 L675.7,169.7 L676.0,179.0 L676.3,169.7 L676.5,169.7 L676.5,158.2 L677.5,158.2 L677.5,160.0 L678.5,160.0 L678.5,169.8 L678.7,169.8 L679.0,182.2 L679.3,169.8 L679.5,169.8 L679.5,183.4 L680.5,183.4 L680.5,184.4 L680.7,184.4 L681.0,198.0 L681.3,184.4 L681.5,184.4 L681.5,185.5 L682.5,185.5 L682.5,169.8 L683.5,169.8 L683.5,188.6 L683.7,188.6 L684.0,207.4 L684.3,188.6 L684.5,188.6 L684.5,194.9 L685.5,194.9 L685.5,194.9 L686.5,194.9 L686.5,189.7 L686.7,189.7 L687.0,210.5 L687.3,189.7 L687.5,189.7 L687.5,211.6 L688.5,211.6 L688.5,212.6 L689.5,212.6 L689.5,218.9 L689.7,218.9 L690.0,233.5 L690.3,218.9 L690.5,218.9 L690.5,228.3 L691.5,228.3 L691.5,245.0 L692.5,245.0 L692.5,260.9 L693.5,260.9 L693.5,278.6 L694.5,278.6 L694.5,279.7 L695.5,279.7 L695.5,278.6 L696.5,278.6 L696.5,284.9 L697.5,284.9 L697.5,285.9 L698.5,285.9 L698.5,288.0 L699.5,288.0 L699.5,312.0 L700.5,312.0 L700.5,313.0 L701.5,313.0 L701.5,325.6 L702.5,325.6 L702.5,317.2 L703.5,317.2 L703.5,323.5 L704.5,323.5 L704.5,332.0 L705.5,332.0 L705.5,340.0 L706.5,340.0 L706.5,344.2 L707.5,344.2 L707.5,346.7 L708.5,346.7 L708.5,352.0 L709.5,352.0 L709.5,360.1 L710.5,360.1 L710.5,365.1 L711.5,365.1 L711.5,368.5 L712.5,368.5 L712.5,364.3 L713.5,364.3 L713.5,371.8 L714.5,371.8 L714.5,376.0 L715.5,376.0 L715.5,376.8 L716.5,376.8 L716.5,377.6 L717.5,377.6 L717.5,379.3 L718.5,379.3 L718.5,379.3 L719.5,379.3 L719.5,383.5 L720.5,383.5 L720.5,382.6 L721.5,382.6 L721.5,381.4 L722.5,381.4 L722.5,383.0 L723.5,383.0 L723.5,383.5 L724.5,383.5 L724.5,383.5 L725.5,383.5 L725.5,385.0 L730.5,385.0 L730.5,385.0 L735.5,385.0 L735.5,383.5 L737.0,383.5 L737.0,382.0 L739.0,382.0 L739.0,383.0 L741.5,383.0 L741.5,382.5 L744.5,382.5 L744.5,383.0 L747.0,383.0 L747.0,381.5 L749.0,381.5 L749.0,381.0 L751.0,381.0 L751.0,380.3 L753.0,380.3 L753.0,383.0 L755.0,383.0 L755.0,385.0 L760.5,385.0 L760.5,385.0 L765.5,385.0 L765.5,383.5 L768.0,383.5 L768.0,383.5 L772.0,383.5 L772.0,383.0 L776.0,383.0 L776.0,384.0 L780.0,384.0 L780.0,383.0 L784.0,383.0 L784.0,383.5 L787.0,383.5 L787.0,385.0 L791.5,385.0 L791.5,385.0 L795.5,385.0 L795.5,383.5 L798.0,383.5 L798.0,383.0 L802.5,383.0 L802.5,383.5 L807.5,383.5 L807.5,383.0 L812.5,383.0 L812.5,382.5 L816.5,382.5 L816.5,383.5 L820.0,383.5 L820.0,385.0 L829.5,385.0 L829.5,385.0 L837.5,385.0 L837.5,383.5 L839.0,383.5 L839.0,382.5 L841.0,382.5 L841.0,383.5 L842.5,383.5 L842.5,385.0 L843.5,385.0 L843.5,385.2Z" fill="#666" stroke="none"/><path d="M605.6,385.2 L605.6,237.9 L605.6,237.9 L606.5,237.9 L606.5,246.8 L607.5,246.8 L607.5,253.0 L607.7,253.0 L608.0,260.0 L608.3,253.0 L608.5,253.0 L608.5,254.0 L608.7,254.0 L609.0,273.0 L609.3,254.0 L609.5,254.0 L609.5,235.3 L610.5,235.3 L610.5,247.8 L611.5,247.8 L611.5,251.0 L611.7,251.0 L612.0,262.5 L612.3,251.0 L612.5,251.0 L612.5,243.7 L613.5,243.7 L613.5,234.3 L614.5,234.3 L614.5,253.0 L615.5,253.0 L615.5,254.0 L615.7,254.0 L616.0,275.0 L616.3,254.0 L616.5,254.0 L616.5,253.0 L617.5,253.0 L617.5,252.0 L618.5,252.0 L618.5,246.8 L619.5,246.8 L619.5,247.8 L619.7,247.8 L620.0,271.9 L620.3,247.8 L620.5,247.8 L620.5,246.8 L621.5,246.8 L621.5,221.8 L622.5,221.8 L622.5,224.9 L623.5,224.9 L623.5,225.9 L624.5,225.9 L624.5,230.1 L625.5,230.1 L625.5,232.2 L626.5,232.2 L626.5,236.4 L627.5,236.4 L627.5,238.5 L628.5,238.5 L628.5,224.9 L628.7,224.9 L629.0,247.8 L629.3,224.9 L629.5,224.9 L629.5,223.8 L630.5,223.8 L630.5,200.4 L631.5,200.4 L631.5,222.8 L631.7,222.8 L632.0,245.8 L632.3,222.8 L632.5,222.8 L632.5,228.0 L633.5,228.0 L633.5,229.1 L634.5,229.1 L634.5,227.0 L635.5,227.0 L635.5,216.5 L636.5,216.5 L636.5,211.3 L637.5,211.3 L637.5,215.5 L638.5,215.5 L638.5,217.6 L639.5,217.6 L639.5,221.8 L639.7,221.8 L640.0,234.3 L640.3,221.8 L640.5,221.8 L640.5,217.6 L641.5,217.6 L641.5,201.0 L642.5,201.0 L642.5,207.2 L643.5,207.2 L643.5,207.2 L644.5,207.2 L644.5,197.8 L644.7,197.8 L645.0,220.8 L645.3,197.8 L645.5,197.8 L645.5,207.2 L646.5,207.2 L646.5,194.7 L647.5,194.7 L647.5,192.6 L647.7,192.6 L648.0,210.4 L648.3,192.6 L648.5,192.6 L648.5,188.5 L649.5,188.5 L649.5,165.5 L650.5,165.5 L650.5,169.7 L651.5,169.7 L651.5,187.4 L652.5,187.4 L652.5,188.5 L652.7,188.5 L653.0,205.2 L653.3,188.5 L653.5,188.5 L653.5,182.2 L654.5,182.2 L654.5,175.9 L655.5,175.9 L655.5,158.2 L656.5,158.2 L656.5,157.1 L657.5,157.1 L657.5,140.4 L658.5,140.4 L658.5,145.7 L659.5,145.7 L659.5,162.4 L659.7,162.4 L660.0,188.5 L660.3,162.4 L660.5,162.4 L660.5,163.4 L660.7,163.4 L661.0,203.0 L661.3,163.4 L661.5,163.4 L661.5,180.1 L662.5,180.1 L662.5,156.1 L663.5,156.1 L663.5,177.0 L663.7,177.0 L664.0,207.2 L664.3,177.0 L664.5,177.0 L664.5,175.9 L665.5,175.9 L665.5,145.7 L666.5,145.7 L666.5,154.0 L667.5,154.0 L667.5,163.4 L667.7,163.4 L668.0,181.1 L668.3,163.4 L668.5,163.4 L668.5,164.4 L669.5,164.4 L669.5,145.7 L670.5,145.7 L670.5,167.6 L670.7,167.6 L671.0,188.5 L671.3,167.6 L671.5,167.6 L671.5,171.8 L672.5,171.8 L672.5,164.4 L673.5,164.4 L673.5,169.7 L674.5,169.7 L674.5,168.6 L675.5,168.6 L675.5,169.7 L675.7,169.7 L676.0,179.0 L676.3,169.7 L676.5,169.7 L676.5,158.2 L677.5,158.2 L677.5,160.0 L678.5,160.0 L678.5,169.8 L678.7,169.8 L679.0,182.2 L679.3,169.8 L679.5,169.8 L679.5,183.4 L680.5,183.4 L680.5,184.4 L680.7,184.4 L681.0,198.0 L681.3,184.4 L681.5,184.4 L681.5,185.5 L682.5,185.5 L682.5,169.8 L683.5,169.8 L683.5,188.6 L683.7,188.6 L684.0,207.4 L684.3,188.6 L684.5,188.6 L684.5,194.9 L685.5,194.9 L685.5,194.9 L686.5,194.9 L686.5,189.7 L686.7,189.7 L687.0,210.5 L687.3,189.7 L687.5,189.7 L687.5,211.6 L688.5,211.6 L688.5,212.6 L689.5,212.6 L689.5,218.9 L689.7,218.9 L690.0,233.5 L690.3,218.9 L690.5,218.9 L690.5,228.3 L691.5,228.3 L691.5,245.0 L692.5,245.0 L692.5,260.9 L693.5,260.9 L693.5,278.6 L694.5,278.6 L694.5,279.7 L695.5,279.7 L695.5,278.6 L696.5,278.6 L696.5,284.9 L697.5,284.9 L697.5,285.9 L698.5,285.9 L698.5,288.0 L699.5,288.0 L699.5,312.0 L700.5,312.0 L700.5,313.0 L701.5,313.0 L701.5,325.6 L702.5,325.6 L702.5,317.2 L703.5,317.2 L703.5,323.5 L704.5,323.5 L704.5,332.0 L705.5,332.0 L705.5,340.0 L706.5,340.0 L706.5,344.2 L707.5,344.2 L707.5,346.7 L708.5,346.7 L708.5,352.0 L709.5,352.0 L709.5,360.1 L710.5,360.1 L710.5,365.1 L711.5,365.1 L711.5,368.5 L712.5,368.5 L712.5,364.3 L713.5,364.3 L713.5,371.8 L714.5,371.8 L714.5,376.0 L715.5,376.0 L715.5,376.8 L716.5,376.8 L716.5,377.6 L717.5,377.6 L717.5,379.3 L718.5,379.3 L718.5,379.3 L719.5,379.3 L719.5,383.5 L720.5,383.5 L720.5,382.6 L721.5,382.6 L721.5,381.4 L722.5,381.4 L722.5,383.0 L723.5,383.0 L723.5,383.5 L724.5,383.5 L724.5,383.5 L725.5,383.5 L725.5,385.0 L730.5,385.0 L730.5,385.0 L735.5,385.0 L735.5,383.5 L737.0,383.5 L737.0,382.0 L739.0,382.0 L739.0,383.0 L741.5,383.0 L741.5,382.5 L744.5,382.5 L744.5,383.0 L747.0,383.0 L747.0,381.5 L749.0,381.5 L749.0,381.0 L751.0,381.0 L751.0,380.3 L753.0,380.3 L753.0,383.0 L755.0,383.0 L755.0,385.0 L760.5,385.0 L760.5,385.0 L765.5,385.0 L765.5,383.5 L768.0,383.5 L768.0,383.5 L772.0,383.5 L772.0,383.0 L776.0,383.0 L776.0,384.0 L780.0,384.0 L780.0,383.0 L784.0,383.0 L784.0,383.5 L787.0,383.5 L787.0,385.0 L791.5,385.0 L791.5,385.0 L795.5,385.0 L795.5,383.5 L798.0,383.5 L798.0,383.0 L802.5,383.0 L802.5,383.5 L807.5,383.5 L807.5,383.0 L812.5,383.0 L812.5,382.5 L816.5,382.5 L816.5,383.5 L820.0,383.5 L820.0,385.0 L829.5,385.0 L829.5,385.0 L837.5,385.0 L837.5,383.5 L839.0,383.5 L839.0,382.5 L841.0,382.5 L841.0,383.5 L842.5,383.5 L842.5,385.0 L843.5,385.0 L843.5,385.2" fill="none" stroke="#000" stroke-width="1.25"/>
<path d="M605.6,862.3 L605.6,856.7 L605.6,856.7 L607.0,856.7 L607.0,853.5 L608.5,853.5 L608.5,858.3 L610.5,858.3 L610.5,854.7 L612.5,854.7 L612.5,857.5 L614.1,857.5 L614.1,859.0 L615.7,859.0 L615.7,857.9 L617.1,857.9 L617.1,859.8 L618.7,859.8 L618.7,858.3 L620.7,858.3 L620.7,855.1 L622.5,855.1 L622.5,851.1 L623.8,851.1 L623.8,857.5 L625.2,857.5 L625.2,853.5 L626.8,853.5 L626.8,848.3 L628.4,848.3 L628.4,852.7 L630.4,852.7 L630.4,852.3 L632.4,852.3 L632.4,854.3 L634.0,854.3 L634.0,851.1 L635.5,851.1 L635.5,851.9 L637.3,851.9 L637.3,850.3 L638.9,850.3 L638.9,846.7 L639.9,846.7 L639.9,841.6 L641.1,841.6 L641.1,846.3 L643.1,846.3 L643.1,848.7 L645.3,848.7 L645.3,853.5 L647.2,853.5 L647.2,849.5 L649.0,849.5 L649.0,845.6 L650.6,845.6 L650.6,839.2 L652.4,839.2 L652.4,840.0 L654.2,840.0 L654.2,851.9 L655.6,851.9 L655.6,840.8 L657.0,840.8 L657.0,836.8 L658.2,836.8 L658.2,833.2 L659.5,833.2 L659.5,825.2 L661.1,825.2 L661.1,831.0 L662.8,831.0 L662.8,827.5 L664.2,827.5 L664.2,832.1 L665.6,832.1 L665.6,825.2 L667.0,825.2 L667.0,831.0 L668.6,831.0 L668.6,832.1 L670.6,832.1 L670.6,824.1 L673.0,824.1 L673.0,818.3 L674.7,818.3 L674.7,817.2 L676.0,817.2 L676.0,829.8 L677.8,829.8 L677.8,819.5 L679.5,819.5 L679.5,808.0 L681.2,808.0 L681.2,801.1 L682.8,801.1 L682.8,794.2 L684.2,794.2 L684.2,821.8 L685.5,821.8 L685.5,789.7 L687.0,789.7 L687.0,798.8 L688.5,798.8 L688.5,797.7 L690.0,797.7 L690.0,795.4 L691.2,795.4 L691.2,813.7 L692.7,813.7 L692.7,793.1 L694.5,793.1 L694.5,789.7 L696.1,789.7 L696.1,785.1 L697.9,785.1 L697.9,782.8 L699.9,782.8 L699.9,778.2 L701.6,778.2 L701.6,763.3 L702.9,763.3 L702.9,746.1 L704.0,746.1 L704.0,759.8 L705.4,759.8 L705.4,774.7 L707.4,774.7 L707.4,782.8 L709.0,782.8 L709.0,787.4 L710.3,787.4 L710.3,775.9 L711.8,775.9 L711.8,780.5 L712.9,780.5 L712.9,759.8 L714.0,759.8 L714.0,771.4 L715.5,771.4 L715.5,765.2 L717.5,765.2 L717.5,757.7 L719.0,757.7 L719.0,755.2 L720.0,755.2 L720.0,743.3 L721.1,743.3 L721.1,751.4 L722.4,751.4 L722.4,752.7 L723.8,752.7 L723.8,763.9 L725.2,763.9 L725.2,781.5 L726.5,781.5 L726.5,784.0 L727.8,784.0 L727.8,787.7 L728.7,787.7 L728.7,772.7 L729.6,772.7 L729.6,782.7 L731.2,782.7 L731.2,767.7 L732.8,767.7 L732.8,758.9 L734.0,758.9 L734.0,752.7 L735.3,752.7 L735.3,767.7 L736.8,767.7 L736.8,763.9 L738.5,763.9 L738.5,767.7 L740.0,767.7 L740.0,775.2 L741.5,775.2 L741.5,761.4 L742.7,761.4 L742.7,747.6 L744.0,747.6 L744.0,758.9 L745.3,758.9 L745.3,767.7 L746.8,767.7 L746.8,762.7 L748.4,762.7 L748.4,770.2 L750.0,770.2 L750.0,765.2 L751.6,765.2 L751.6,765.2 L753.0,765.2 L753.0,755.2 L754.5,755.2 L754.5,741.4 L755.8,741.4 L755.8,736.4 L756.9,736.4 L756.9,755.2 L758.2,755.2 L758.2,733.9 L759.7,733.9 L759.7,728.9 L761.1,728.9 L761.1,738.9 L762.4,738.9 L762.4,745.1 L763.9,745.1 L763.9,745.1 L765.7,745.1 L765.7,747.6 L767.2,747.6 L767.2,721.3 L768.5,721.3 L768.5,692.6 L769.5,692.6 L769.5,713.5 L770.7,713.5 L770.7,702.5 L771.7,702.5 L771.7,702.0 L773.0,702.0 L773.0,703.1 L774.2,703.1 L774.2,684.3 L775.3,684.3 L775.3,696.8 L776.6,696.8 L776.6,686.9 L777.9,686.9 L777.9,692.6 L779.0,692.6 L779.0,694.7 L780.0,694.7 L780.0,678.0 L781.0,678.0 L781.0,688.5 L782.4,688.5 L782.4,668.6 L783.9,668.6 L783.9,661.3 L785.4,661.3 L785.4,655.1 L786.8,655.1 L786.8,640.4 L788.2,640.4 L788.2,660.3 L788.6,660.3 L788.9,680.0 L789.2,660.3 L789.6,660.3 L789.6,654.0 L791.1,654.0 L791.1,646.7 L792.5,646.7 L792.5,670.7 L792.9,670.7 L793.2,692.6 L793.5,670.7 L794.0,670.7 L794.0,658.2 L795.4,658.2 L795.4,680.1 L795.8,680.1 L796.1,700.0 L796.4,680.1 L796.9,680.1 L796.9,698.9 L797.3,698.9 L797.6,714.6 L797.9,698.9 L798.4,698.9 L798.4,675.9 L799.8,675.9 L799.8,669.7 L801.0,669.7 L801.0,687.4 L802.3,687.4 L802.3,696.8 L803.4,696.8 L803.4,723.8 L804.4,723.8 L804.4,725.1 L804.9,725.1 L805.2,751.4 L805.5,725.1 L806.0,725.1 L806.0,730.1 L807.8,730.1 L807.8,740.1 L809.7,740.1 L809.7,760.1 L811.5,760.1 L811.5,781.4 L813.5,781.4 L813.5,781.4 L814.0,781.4 L814.3,792.7 L814.6,781.4 L815.2,781.4 L815.2,770.1 L816.8,770.1 L816.8,777.7 L818.1,777.7 L818.1,787.7 L819.5,787.7 L819.5,781.4 L820.0,781.4 L820.3,799.0 L820.6,781.4 L821.1,781.4 L821.1,800.2 L822.5,800.2 L822.5,795.2 L823.9,795.2 L823.9,790.2 L824.3,790.2 L824.6,817.7 L824.9,790.2 L825.3,790.2 L825.3,812.0 L825.7,812.0 L826.0,832.0 L826.3,812.0 L826.8,812.0 L826.8,807.0 L828.2,807.0 L828.2,802.0 L829.8,802.0 L829.8,810.0 L831.1,810.0 L831.1,818.0 L832.6,818.0 L832.6,822.0 L834.2,822.0 L834.2,825.0 L835.8,825.0 L835.8,827.0 L837.1,827.0 L837.1,829.0 L838.4,829.0 L838.4,813.0 L839.8,813.0 L839.8,819.0 L841.0,819.0 L841.0,827.0 L842.2,827.0 L842.2,822.0 L843.8,822.0 L843.8,828.0 L845.2,828.0 L845.2,828.0 L846.8,828.0 L846.8,825.0 L848.2,825.0 L848.2,829.0 L849.6,829.0 L849.6,833.0 L851.0,833.0 L851.0,824.0 L852.3,824.0 L852.3,820.0 L853.8,820.0 L853.8,822.0 L855.4,822.0 L855.4,821.0 L856.9,821.0 L856.9,808.0 L858.2,808.0 L858.2,799.6 L859.5,799.6 L859.5,810.0 L860.9,810.0 L860.9,817.0 L862.2,817.0 L862.2,810.0 L863.6,810.0 L863.6,816.0 L865.0,816.0 L865.0,819.0 L866.4,819.0 L866.4,825.0 L867.9,825.0 L867.9,821.0 L869.4,821.0 L869.4,816.0 L870.9,816.0 L870.9,815.0 L872.4,815.0 L872.4,810.0 L873.9,810.0 L873.9,819.0 L875.4,819.0 L875.4,808.0 L876.8,808.0 L876.8,807.0 L878.5,807.0 L878.5,810.0 L880.5,810.0 L880.5,814.0 L882.2,814.0 L882.2,805.0 L883.8,805.0 L883.8,801.0 L885.2,801.0 L885.2,800.0 L886.8,800.0 L886.8,796.0 L888.1,796.0 L888.1,789.0 L889.6,789.0 L889.6,786.0 L891.1,786.0 L891.1,785.0 L892.4,785.0 L892.4,796.0 L892.8,796.0 L893.1,808.0 L893.4,796.0 L893.8,796.0 L893.8,790.0 L895.2,790.0 L895.2,797.0 L896.8,797.0 L896.8,810.0 L897.2,810.0 L897.5,815.0 L897.8,810.0 L898.2,810.0 L898.2,800.0 L899.6,800.0 L899.6,797.0 L900.9,797.0 L900.9,807.0 L902.4,807.0 L902.4,814.0 L903.9,814.0 L903.9,808.0 L905.4,808.0 L905.4,813.0 L906.9,813.0 L906.9,825.0 L908.4,825.0 L908.4,830.0 L909.9,830.0 L909.9,838.0 L911.6,838.0 L911.6,842.0 L913.6,842.0 L913.6,842.0 L915.4,842.0 L915.4,850.0 L917.1,850.0 L917.1,852.0 L919.1,852.0 L919.1,858.0 L921.0,858.0 L921.0,855.0 L923.0,855.0 L923.0,858.0 L925.1,858.0 L925.1,859.0 L927.1,859.0 L927.1,860.0 L929.1,860.0 L929.1,862.0 L931.6,862.0 L931.6,860.0 L934.1,860.0 L934.1,862.0 L935.5,862.0 L935.5,862.3 L936.5,862.3 L936.5,862.3Z" fill="#666" stroke="none"/><path d="M605.6,862.3 L605.6,856.7 L605.6,856.7 L607.0,856.7 L607.0,853.5 L608.5,853.5 L608.5,858.3 L610.5,858.3 L610.5,854.7 L612.5,854.7 L612.5,857.5 L614.1,857.5 L614.1,859.0 L615.7,859.0 L615.7,857.9 L617.1,857.9 L617.1,859.8 L618.7,859.8 L618.7,858.3 L620.7,858.3 L620.7,855.1 L622.5,855.1 L622.5,851.1 L623.8,851.1 L623.8,857.5 L625.2,857.5 L625.2,853.5 L626.8,853.5 L626.8,848.3 L628.4,848.3 L628.4,852.7 L630.4,852.7 L630.4,852.3 L632.4,852.3 L632.4,854.3 L634.0,854.3 L634.0,851.1 L635.5,851.1 L635.5,851.9 L637.3,851.9 L637.3,850.3 L638.9,850.3 L638.9,846.7 L639.9,846.7 L639.9,841.6 L641.1,841.6 L641.1,846.3 L643.1,846.3 L643.1,848.7 L645.3,848.7 L645.3,853.5 L647.2,853.5 L647.2,849.5 L649.0,849.5 L649.0,845.6 L650.6,845.6 L650.6,839.2 L652.4,839.2 L652.4,840.0 L654.2,840.0 L654.2,851.9 L655.6,851.9 L655.6,840.8 L657.0,840.8 L657.0,836.8 L658.2,836.8 L658.2,833.2 L659.5,833.2 L659.5,825.2 L661.1,825.2 L661.1,831.0 L662.8,831.0 L662.8,827.5 L664.2,827.5 L664.2,832.1 L665.6,832.1 L665.6,825.2 L667.0,825.2 L667.0,831.0 L668.6,831.0 L668.6,832.1 L670.6,832.1 L670.6,824.1 L673.0,824.1 L673.0,818.3 L674.7,818.3 L674.7,817.2 L676.0,817.2 L676.0,829.8 L677.8,829.8 L677.8,819.5 L679.5,819.5 L679.5,808.0 L681.2,808.0 L681.2,801.1 L682.8,801.1 L682.8,794.2 L684.2,794.2 L684.2,821.8 L685.5,821.8 L685.5,789.7 L687.0,789.7 L687.0,798.8 L688.5,798.8 L688.5,797.7 L690.0,797.7 L690.0,795.4 L691.2,795.4 L691.2,813.7 L692.7,813.7 L692.7,793.1 L694.5,793.1 L694.5,789.7 L696.1,789.7 L696.1,785.1 L697.9,785.1 L697.9,782.8 L699.9,782.8 L699.9,778.2 L701.6,778.2 L701.6,763.3 L702.9,763.3 L702.9,746.1 L704.0,746.1 L704.0,759.8 L705.4,759.8 L705.4,774.7 L707.4,774.7 L707.4,782.8 L709.0,782.8 L709.0,787.4 L710.3,787.4 L710.3,775.9 L711.8,775.9 L711.8,780.5 L712.9,780.5 L712.9,759.8 L714.0,759.8 L714.0,771.4 L715.5,771.4 L715.5,765.2 L717.5,765.2 L717.5,757.7 L719.0,757.7 L719.0,755.2 L720.0,755.2 L720.0,743.3 L721.1,743.3 L721.1,751.4 L722.4,751.4 L722.4,752.7 L723.8,752.7 L723.8,763.9 L725.2,763.9 L725.2,781.5 L726.5,781.5 L726.5,784.0 L727.8,784.0 L727.8,787.7 L728.7,787.7 L728.7,772.7 L729.6,772.7 L729.6,782.7 L731.2,782.7 L731.2,767.7 L732.8,767.7 L732.8,758.9 L734.0,758.9 L734.0,752.7 L735.3,752.7 L735.3,767.7 L736.8,767.7 L736.8,763.9 L738.5,763.9 L738.5,767.7 L740.0,767.7 L740.0,775.2 L741.5,775.2 L741.5,761.4 L742.7,761.4 L742.7,747.6 L744.0,747.6 L744.0,758.9 L745.3,758.9 L745.3,767.7 L746.8,767.7 L746.8,762.7 L748.4,762.7 L748.4,770.2 L750.0,770.2 L750.0,765.2 L751.6,765.2 L751.6,765.2 L753.0,765.2 L753.0,755.2 L754.5,755.2 L754.5,741.4 L755.8,741.4 L755.8,736.4 L756.9,736.4 L756.9,755.2 L758.2,755.2 L758.2,733.9 L759.7,733.9 L759.7,728.9 L761.1,728.9 L761.1,738.9 L762.4,738.9 L762.4,745.1 L763.9,745.1 L763.9,745.1 L765.7,745.1 L765.7,747.6 L767.2,747.6 L767.2,721.3 L768.5,721.3 L768.5,692.6 L769.5,692.6 L769.5,713.5 L770.7,713.5 L770.7,702.5 L771.7,702.5 L771.7,702.0 L773.0,702.0 L773.0,703.1 L774.2,703.1 L774.2,684.3 L775.3,684.3 L775.3,696.8 L776.6,696.8 L776.6,686.9 L777.9,686.9 L777.9,692.6 L779.0,692.6 L779.0,694.7 L780.0,694.7 L780.0,678.0 L781.0,678.0 L781.0,688.5 L782.4,688.5 L782.4,668.6 L783.9,668.6 L783.9,661.3 L785.4,661.3 L785.4,655.1 L786.8,655.1 L786.8,640.4 L788.2,640.4 L788.2,660.3 L788.6,660.3 L788.9,680.0 L789.2,660.3 L789.6,660.3 L789.6,654.0 L791.1,654.0 L791.1,646.7 L792.5,646.7 L792.5,670.7 L792.9,670.7 L793.2,692.6 L793.5,670.7 L794.0,670.7 L794.0,658.2 L795.4,658.2 L795.4,680.1 L795.8,680.1 L796.1,700.0 L796.4,680.1 L796.9,680.1 L796.9,698.9 L797.3,698.9 L797.6,714.6 L797.9,698.9 L798.4,698.9 L798.4,675.9 L799.8,675.9 L799.8,669.7 L801.0,669.7 L801.0,687.4 L802.3,687.4 L802.3,696.8 L803.4,696.8 L803.4,723.8 L804.4,723.8 L804.4,725.1 L804.9,725.1 L805.2,751.4 L805.5,725.1 L806.0,725.1 L806.0,730.1 L807.8,730.1 L807.8,740.1 L809.7,740.1 L809.7,760.1 L811.5,760.1 L811.5,781.4 L813.5,781.4 L813.5,781.4 L814.0,781.4 L814.3,792.7 L814.6,781.4 L815.2,781.4 L815.2,770.1 L816.8,770.1 L816.8,777.7 L818.1,777.7 L818.1,787.7 L819.5,787.7 L819.5,781.4 L820.0,781.4 L820.3,799.0 L820.6,781.4 L821.1,781.4 L821.1,800.2 L822.5,800.2 L822.5,795.2 L823.9,795.2 L823.9,790.2 L824.3,790.2 L824.6,817.7 L824.9,790.2 L825.3,790.2 L825.3,812.0 L825.7,812.0 L826.0,832.0 L826.3,812.0 L826.8,812.0 L826.8,807.0 L828.2,807.0 L828.2,802.0 L829.8,802.0 L829.8,810.0 L831.1,810.0 L831.1,818.0 L832.6,818.0 L832.6,822.0 L834.2,822.0 L834.2,825.0 L835.8,825.0 L835.8,827.0 L837.1,827.0 L837.1,829.0 L838.4,829.0 L838.4,813.0 L839.8,813.0 L839.8,819.0 L841.0,819.0 L841.0,827.0 L842.2,827.0 L842.2,822.0 L843.8,822.0 L843.8,828.0 L845.2,828.0 L845.2,828.0 L846.8,828.0 L846.8,825.0 L848.2,825.0 L848.2,829.0 L849.6,829.0 L849.6,833.0 L851.0,833.0 L851.0,824.0 L852.3,824.0 L852.3,820.0 L853.8,820.0 L853.8,822.0 L855.4,822.0 L855.4,821.0 L856.9,821.0 L856.9,808.0 L858.2,808.0 L858.2,799.6 L859.5,799.6 L859.5,810.0 L860.9,810.0 L860.9,817.0 L862.2,817.0 L862.2,810.0 L863.6,810.0 L863.6,816.0 L865.0,816.0 L865.0,819.0 L866.4,819.0 L866.4,825.0 L867.9,825.0 L867.9,821.0 L869.4,821.0 L869.4,816.0 L870.9,816.0 L870.9,815.0 L872.4,815.0 L872.4,810.0 L873.9,810.0 L873.9,819.0 L875.4,819.0 L875.4,808.0 L876.8,808.0 L876.8,807.0 L878.5,807.0 L878.5,810.0 L880.5,810.0 L880.5,814.0 L882.2,814.0 L882.2,805.0 L883.8,805.0 L883.8,801.0 L885.2,801.0 L885.2,800.0 L886.8,800.0 L886.8,796.0 L888.1,796.0 L888.1,789.0 L889.6,789.0 L889.6,786.0 L891.1,786.0 L891.1,785.0 L892.4,785.0 L892.4,796.0 L892.8,796.0 L893.1,808.0 L893.4,796.0 L893.8,796.0 L893.8,790.0 L895.2,790.0 L895.2,797.0 L896.8,797.0 L896.8,810.0 L897.2,810.0 L897.5,815.0 L897.8,810.0 L898.2,810.0 L898.2,800.0 L899.6,800.0 L899.6,797.0 L900.9,797.0 L900.9,807.0 L902.4,807.0 L902.4,814.0 L903.9,814.0 L903.9,808.0 L905.4,808.0 L905.4,813.0 L906.9,813.0 L906.9,825.0 L908.4,825.0 L908.4,830.0 L909.9,830.0 L909.9,838.0 L911.6,838.0 L911.6,842.0 L913.6,842.0 L913.6,842.0 L915.4,842.0 L915.4,850.0 L917.1,850.0 L917.1,852.0 L919.1,852.0 L919.1,858.0 L921.0,858.0 L921.0,855.0 L923.0,855.0 L923.0,858.0 L925.1,858.0 L925.1,859.0 L927.1,859.0 L927.1,860.0 L929.1,860.0 L929.1,862.0 L931.6,862.0 L931.6,860.0 L934.1,860.0 L934.1,862.0 L935.5,862.0 L935.5,862.3 L936.5,862.3 L936.5,862.3" fill="none" stroke="#000" stroke-width="1.25"/>
<text x="174.2" y="447.5" font-size="21.25" font-family="Liberation Sans, sans-serif">PerCP-Cy5.5 isotype control</text>
<text x="650.7" y="447.8" font-size="21.25" font-family="Liberation Sans, sans-serif">PerCP-Cy5.5 isotype control</text>
<text x="214.8" y="922.5" font-size="21.25" font-family="Liberation Sans, sans-serif">PerCP-Cy5.5 CD3e</text>
<text x="693.0" y="924.0" font-size="21.25" font-family="Liberation Sans, sans-serif">PerCP-Cy5.5 CD3e</text>
<text transform="translate(56.0,295.2) rotate(-90)" font-size="21.25" font-family="Liberation Sans, sans-serif">PE CD4 + CD8a</text>
<text transform="translate(533.0,317.8) rotate(-90)" font-size="21.25" font-family="Liberation Sans, sans-serif">Relative Cell Number</text>
<text transform="translate(56.0,770.2) rotate(-90)" font-size="21.25" font-family="Liberation Sans, sans-serif">PE CD4 + CD8a</text>
<text transform="translate(533.1,794.4) rotate(-90)" font-size="21.25" font-family="Liberation Sans, sans-serif">Relative Cell Number</text>
<text x="115.0" y="414.6" font-size="20" font-family="Liberation Sans, sans-serif">10</text>
<text x="135.1" y="406.8" font-size="17" font-family="Liberation Sans, sans-serif">0</text>
<text x="205.8" y="414.6" font-size="20" font-family="Liberation Sans, sans-serif">10</text>
<text x="225.8" y="406.8" font-size="17" font-family="Liberation Sans, sans-serif">1</text>
<text x="296.5" y="414.6" font-size="20" font-family="Liberation Sans, sans-serif">10</text>
<text x="316.6" y="406.8" font-size="17" font-family="Liberation Sans, sans-serif">2</text>
<text x="387.2" y="414.6" font-size="20" font-family="Liberation Sans, sans-serif">10</text>
<text x="407.4" y="406.8" font-size="17" font-family="Liberation Sans, sans-serif">3</text>
<text x="478.0" y="414.6" font-size="20" font-family="Liberation Sans, sans-serif">10</text>
<text x="498.1" y="406.8" font-size="17" font-family="Liberation Sans, sans-serif">4</text>
<text x="591.5" y="414.4" font-size="20" font-family="Liberation Sans, sans-serif">10</text>
<text x="611.6" y="406.6" font-size="17" font-family="Liberation Sans, sans-serif">0</text>
<text x="682.5" y="414.4" font-size="20" font-family="Liberation Sans, sans-serif">10</text>
<text x="702.6" y="406.6" font-size="17" font-family="Liberation Sans, sans-serif">1</text>
<text x="773.4" y="414.4" font-size="20" font-family="Liberation Sans, sans-serif">10</text>
<text x="793.5" y="406.6" font-size="17" font-family="Liberation Sans, sans-serif">2</text>
<text x="864.4" y="414.4" font-size="20" font-family="Liberation Sans, sans-serif">10</text>
<text x="884.5" y="406.6" font-size="17" font-family="Liberation Sans, sans-serif">3</text>
<text x="955.3" y="414.4" font-size="20" font-family="Liberation Sans, sans-serif">10</text>
<text x="975.4" y="406.6" font-size="17" font-family="Liberation Sans, sans-serif">4</text>
<text x="114.2" y="889.6" font-size="20" font-family="Liberation Sans, sans-serif">10</text>
<text x="134.3" y="881.8" font-size="17" font-family="Liberation Sans, sans-serif">0</text>
<text x="204.6" y="889.6" font-size="20" font-family="Liberation Sans, sans-serif">10</text>
<text x="224.7" y="881.8" font-size="17" font-family="Liberation Sans, sans-serif">1</text>
<text x="295.0" y="889.6" font-size="20" font-family="Liberation Sans, sans-serif">10</text>
<text x="315.1" y="881.8" font-size="17" font-family="Liberation Sans, sans-serif">2</text>
<text x="385.4" y="889.6" font-size="20" font-family="Liberation Sans, sans-serif">10</text>
<text x="405.5" y="881.8" font-size="17" font-family="Liberation Sans, sans-serif">3</text>
<text x="475.8" y="889.6" font-size="20" font-family="Liberation Sans, sans-serif">10</text>
<text x="495.9" y="881.8" font-size="17" font-family="Liberation Sans, sans-serif">4</text>
<text x="591.9" y="891.4" font-size="20" font-family="Liberation Sans, sans-serif">10</text>
<text x="612.0" y="883.6" font-size="17" font-family="Liberation Sans, sans-serif">0</text>
<text x="682.9" y="891.4" font-size="20" font-family="Liberation Sans, sans-serif">10</text>
<text x="703.0" y="883.6" font-size="17" font-family="Liberation Sans, sans-serif">1</text>
<text x="773.8" y="891.4" font-size="20" font-family="Liberation Sans, sans-serif">10</text>
<text x="793.9" y="883.6" font-size="17" font-family="Liberation Sans, sans-serif">2</text>
<text x="864.8" y="891.4" font-size="20" font-family="Liberation Sans, sans-serif">10</text>
<text x="884.9" y="883.6" font-size="17" font-family="Liberation Sans, sans-serif">3</text>
<text x="955.7" y="891.4" font-size="20" font-family="Liberation Sans, sans-serif">10</text>
<text x="975.8" y="883.6" font-size="17" font-family="Liberation Sans, sans-serif">4</text>
<text transform="translate(116.6,397.1) rotate(-90)" font-size="20" font-family="Liberation Sans, sans-serif">10</text>
<text transform="translate(108.9,376.4) rotate(-90)" font-size="17" font-family="Liberation Sans, sans-serif">0</text>
<text transform="translate(116.6,312.5) rotate(-90)" font-size="20" font-family="Liberation Sans, sans-serif">10</text>
<text transform="translate(108.9,291.8) rotate(-90)" font-size="17" font-family="Liberation Sans, sans-serif">1</text>
<text transform="translate(116.6,227.9) rotate(-90)" font-size="20" font-family="Liberation Sans, sans-serif">10</text>
<text transform="translate(108.9,207.2) rotate(-90)" font-size="17" font-family="Liberation Sans, sans-serif">2</text>
<text transform="translate(116.6,143.3) rotate(-90)" font-size="20" font-family="Liberation Sans, sans-serif">10</text>
<text transform="translate(108.9,122.6) rotate(-90)" font-size="17" font-family="Liberation Sans, sans-serif">3</text>
<text transform="translate(116.6,58.7) rotate(-90)" font-size="20" font-family="Liberation Sans, sans-serif">10</text>
<text transform="translate(108.9,38.0) rotate(-90)" font-size="17" font-family="Liberation Sans, sans-serif">4</text>
<text transform="translate(116.0,872.2) rotate(-90)" font-size="20" font-family="Liberation Sans, sans-serif">10</text>
<text transform="translate(108.3,851.5) rotate(-90)" font-size="17" font-family="Liberation Sans, sans-serif">0</text>
<text transform="translate(116.0,788.0) rotate(-90)" font-size="20" font-family="Liberation Sans, sans-serif">10</text>
<text transform="translate(108.3,767.3) rotate(-90)" font-size="17" font-family="Liberation Sans, sans-serif">1</text>
<text transform="translate(116.0,703.8) rotate(-90)" font-size="20" font-family="Liberation Sans, sans-serif">10</text>
<text transform="translate(108.3,683.1) rotate(-90)" font-size="17" font-family="Liberation Sans, sans-serif">2</text>
<text transform="translate(116.0,619.6) rotate(-90)" font-size="20" font-family="Liberation Sans, sans-serif">10</text>
<text transform="translate(108.3,598.9) rotate(-90)" font-size="17" font-family="Liberation Sans, sans-serif">3</text>
<text transform="translate(116.0,535.4) rotate(-90)" font-size="20" font-family="Liberation Sans, sans-serif">10</text>
<text transform="translate(108.3,514.7) rotate(-90)" font-size="17" font-family="Liberation Sans, sans-serif">4</text>
</g>
</svg></body></html>
